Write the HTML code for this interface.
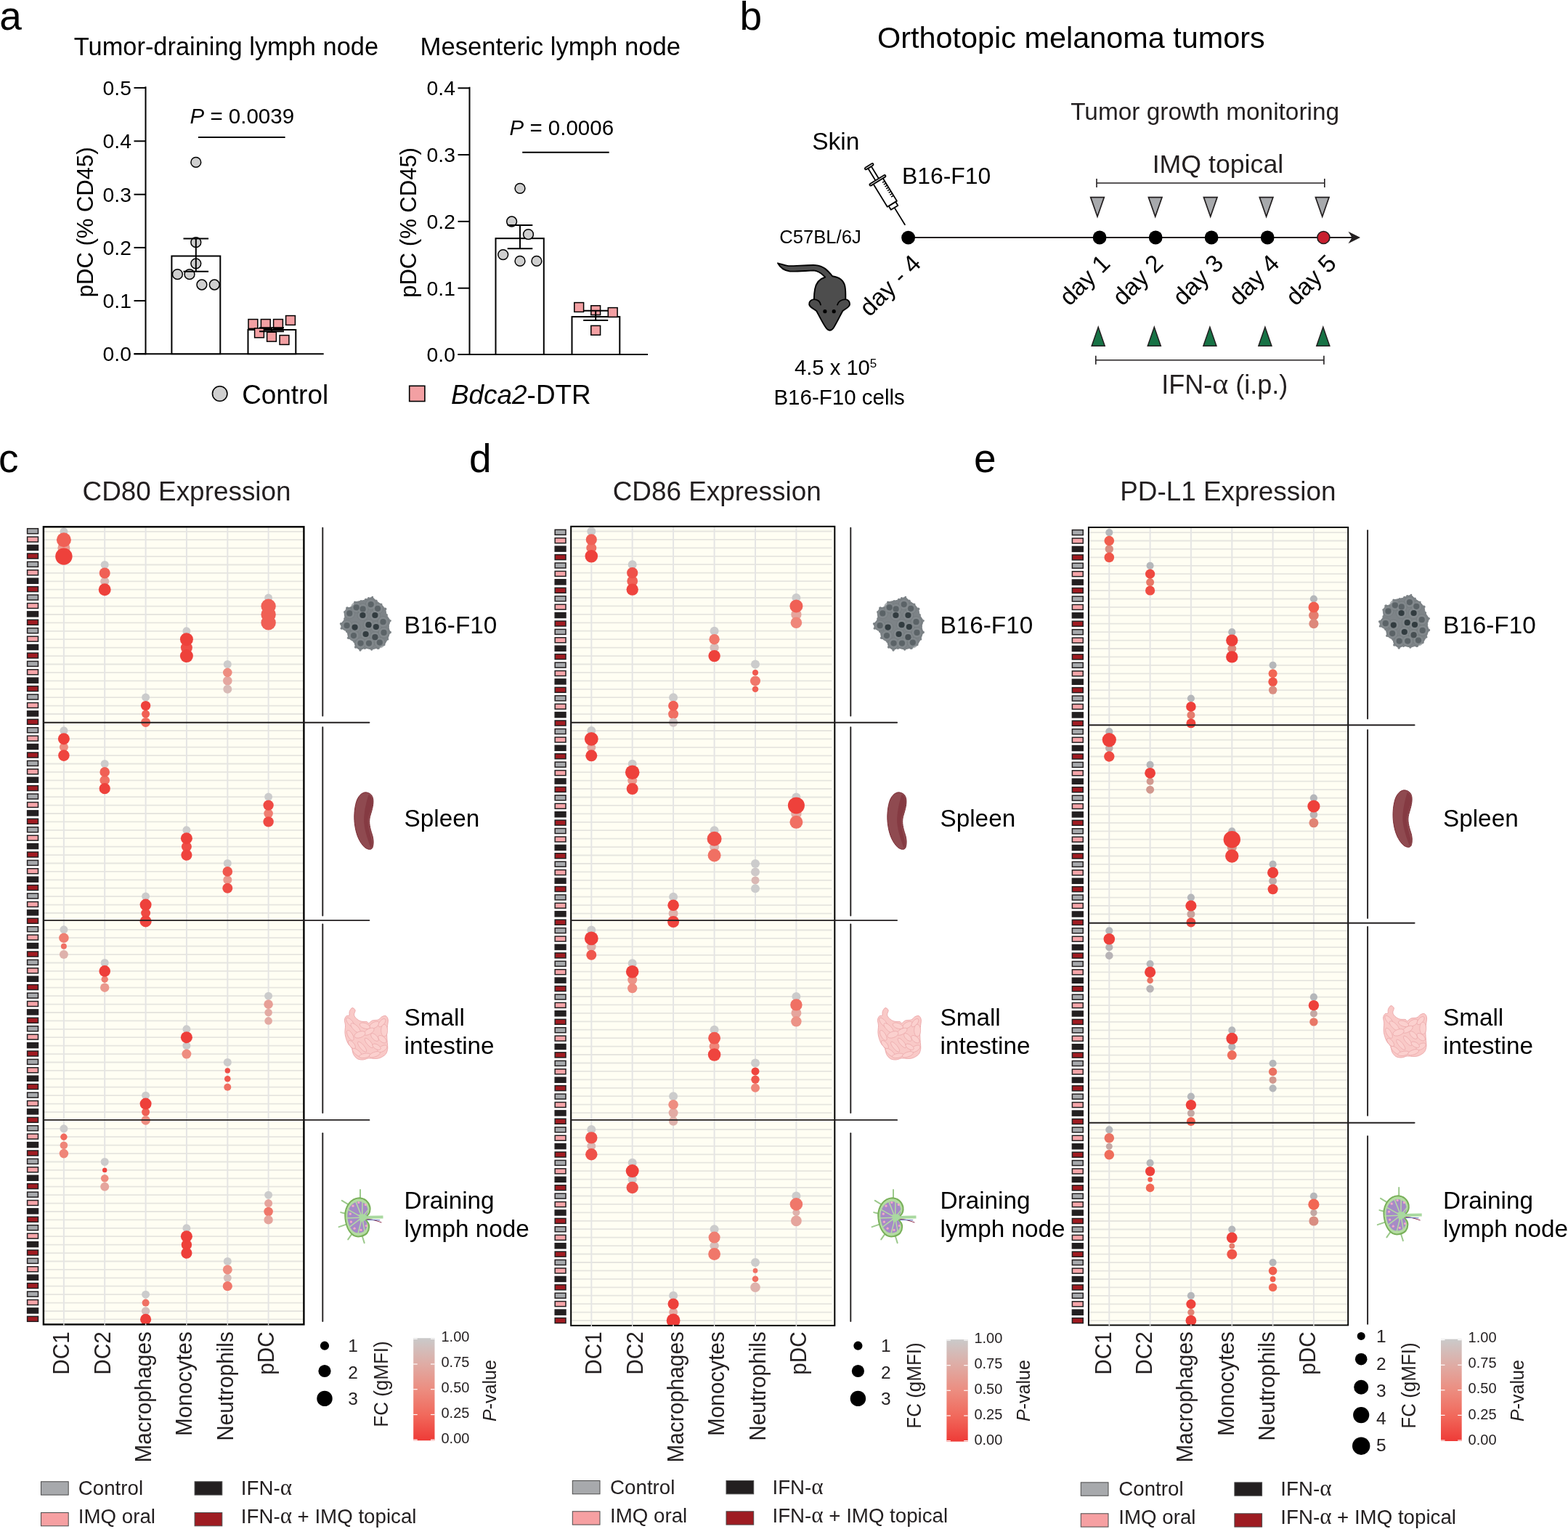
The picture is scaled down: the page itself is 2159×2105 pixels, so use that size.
<!DOCTYPE html>
<html lang="en"><head><meta charset="utf-8"><title>Figure</title>
<style>
html,body{margin:0;padding:0;background:#fff;}
body{width:2159px;height:2105px;overflow:hidden;}
svg{display:block;font-family:"Liberation Sans",sans-serif;}
</style></head>
<body>
<svg width="2159" height="2105" viewBox="0 0 2159 2105">
<rect width="2159" height="2105" fill="#fff"/>
<text x="-0.8" y="40.6" font-size="55">a</text>
<text x="1018.5" y="40.6" font-size="55">b</text>
<text x="101.8" y="76.0" font-size="34.4">Tumor-draining lymph node</text>
<text x="578.5" y="76.0" font-size="34.7">Mesenteric lymph node</text>
<line x1="200.5" y1="119.3" x2="200.5" y2="488.2" stroke="#000" stroke-width="2"/>
<line x1="184.5" y1="487.2" x2="445.7" y2="487.2" stroke="#000" stroke-width="2"/>
<line x1="184.5" y1="120.9" x2="200.5" y2="120.9" stroke="#000" stroke-width="2"/>
<text x="180.9" y="130.9" font-size="28.3" text-anchor="end">0.5</text>
<line x1="184.5" y1="194.3" x2="200.5" y2="194.3" stroke="#000" stroke-width="2"/>
<text x="180.9" y="204.3" font-size="28.3" text-anchor="end">0.4</text>
<line x1="184.5" y1="267.7" x2="200.5" y2="267.7" stroke="#000" stroke-width="2"/>
<text x="180.9" y="277.7" font-size="28.3" text-anchor="end">0.3</text>
<line x1="184.5" y1="340.9" x2="200.5" y2="340.9" stroke="#000" stroke-width="2"/>
<text x="180.9" y="350.9" font-size="28.3" text-anchor="end">0.2</text>
<line x1="184.5" y1="414.1" x2="200.5" y2="414.1" stroke="#000" stroke-width="2"/>
<text x="180.9" y="424.1" font-size="28.3" text-anchor="end">0.1</text>
<line x1="184.5" y1="487.2" x2="200.5" y2="487.2" stroke="#000" stroke-width="2"/>
<text x="180.9" y="497.2" font-size="28.3" text-anchor="end">0.0</text>
<rect x="236.4" y="352.5" width="66.9" height="134.7" fill="#fff" stroke="#000" stroke-width="2"/>
<rect x="341.5" y="454.0" width="65.8" height="33.2" fill="#fff" stroke="#000" stroke-width="2"/>
<circle cx="269.8" cy="223.4" r="6.9" fill="#cfcfcf" stroke="#000" stroke-width="1.5"/>
<circle cx="269.8" cy="333.7" r="6.9" fill="#cfcfcf" stroke="#000" stroke-width="1.5"/>
<circle cx="269.8" cy="362.8" r="6.9" fill="#cfcfcf" stroke="#000" stroke-width="1.5"/>
<circle cx="244.4" cy="377.7" r="6.9" fill="#cfcfcf" stroke="#000" stroke-width="1.5"/>
<circle cx="261.0" cy="377.7" r="6.9" fill="#cfcfcf" stroke="#000" stroke-width="1.5"/>
<circle cx="277.9" cy="392.0" r="6.9" fill="#cfcfcf" stroke="#000" stroke-width="1.5"/>
<circle cx="295.3" cy="392.0" r="6.9" fill="#cfcfcf" stroke="#000" stroke-width="1.5"/>
<rect x="342.0" y="439.6" width="12.8" height="12.8" fill="#f3a0a3" stroke="#000" stroke-width="1.5"/>
<rect x="359.4" y="439.6" width="12.8" height="12.8" fill="#f3a0a3" stroke="#000" stroke-width="1.5"/>
<rect x="376.6" y="439.6" width="12.8" height="12.8" fill="#f3a0a3" stroke="#000" stroke-width="1.5"/>
<rect x="393.6" y="434.6" width="12.8" height="12.8" fill="#f3a0a3" stroke="#000" stroke-width="1.5"/>
<rect x="350.6" y="452.0" width="12.8" height="12.8" fill="#f3a0a3" stroke="#000" stroke-width="1.5"/>
<rect x="367.6" y="457.3" width="12.8" height="12.8" fill="#f3a0a3" stroke="#000" stroke-width="1.5"/>
<rect x="385.1" y="461.6" width="12.8" height="12.8" fill="#f3a0a3" stroke="#000" stroke-width="1.5"/>
<line x1="269.8" y1="328.5" x2="269.8" y2="373.8" stroke="#000" stroke-width="2"/>
<line x1="252.5" y1="328.5" x2="287.1" y2="328.5" stroke="#000" stroke-width="2"/>
<line x1="252.5" y1="373.8" x2="287.1" y2="373.8" stroke="#000" stroke-width="2"/>
<line x1="374.0" y1="451.2" x2="374.0" y2="456.2" stroke="#000" stroke-width="2"/>
<line x1="357.0" y1="451.2" x2="391.0" y2="451.2" stroke="#000" stroke-width="2"/>
<line x1="357.0" y1="456.2" x2="391.0" y2="456.2" stroke="#000" stroke-width="2"/>
<text x="261.5" y="170.2" font-size="29.5"><tspan font-style="italic">P</tspan> = 0.0039</text>
<line x1="273.0" y1="189.0" x2="392.6" y2="189.0" stroke="#000" stroke-width="2"/>
<text transform="translate(127.7,305.8) rotate(-90)" font-size="31" text-anchor="middle">pDC (% CD45)</text>
<line x1="646.5" y1="119.8" x2="646.5" y2="489.0" stroke="#000" stroke-width="2"/>
<line x1="630.5" y1="488.0" x2="892.0" y2="488.0" stroke="#000" stroke-width="2"/>
<line x1="630.5" y1="121.3" x2="646.5" y2="121.3" stroke="#000" stroke-width="2"/>
<text x="626.9" y="131.3" font-size="28.3" text-anchor="end">0.4</text>
<line x1="630.5" y1="213.1" x2="646.5" y2="213.1" stroke="#000" stroke-width="2"/>
<text x="626.9" y="223.1" font-size="28.3" text-anchor="end">0.3</text>
<line x1="630.5" y1="304.9" x2="646.5" y2="304.9" stroke="#000" stroke-width="2"/>
<text x="626.9" y="314.9" font-size="28.3" text-anchor="end">0.2</text>
<line x1="630.5" y1="396.7" x2="646.5" y2="396.7" stroke="#000" stroke-width="2"/>
<text x="626.9" y="406.7" font-size="28.3" text-anchor="end">0.1</text>
<line x1="630.5" y1="488.0" x2="646.5" y2="488.0" stroke="#000" stroke-width="2"/>
<text x="626.9" y="498.0" font-size="28.3" text-anchor="end">0.0</text>
<rect x="682.5" y="328.2" width="66.3" height="159.8" fill="#fff" stroke="#000" stroke-width="2"/>
<rect x="787.5" y="436.1" width="65.8" height="51.9" fill="#fff" stroke="#000" stroke-width="2"/>
<circle cx="716.0" cy="259.3" r="6.9" fill="#cfcfcf" stroke="#000" stroke-width="1.5"/>
<circle cx="704.6" cy="305.0" r="6.9" fill="#cfcfcf" stroke="#000" stroke-width="1.5"/>
<circle cx="727.5" cy="322.7" r="6.9" fill="#cfcfcf" stroke="#000" stroke-width="1.5"/>
<circle cx="692.7" cy="350.6" r="6.9" fill="#cfcfcf" stroke="#000" stroke-width="1.5"/>
<circle cx="716.0" cy="359.4" r="6.9" fill="#cfcfcf" stroke="#000" stroke-width="1.5"/>
<circle cx="738.9" cy="359.4" r="6.9" fill="#cfcfcf" stroke="#000" stroke-width="1.5"/>
<rect x="790.8" y="416.6" width="12.8" height="12.8" fill="#f3a0a3" stroke="#000" stroke-width="1.5"/>
<rect x="813.8" y="420.8" width="12.8" height="12.8" fill="#f3a0a3" stroke="#000" stroke-width="1.5"/>
<rect x="837.3" y="423.6" width="12.8" height="12.8" fill="#f3a0a3" stroke="#000" stroke-width="1.5"/>
<rect x="813.8" y="448.4" width="12.8" height="12.8" fill="#f3a0a3" stroke="#000" stroke-width="1.5"/>
<line x1="716.0" y1="310.0" x2="716.0" y2="342.3" stroke="#000" stroke-width="2"/>
<line x1="698.7" y1="310.0" x2="733.3" y2="310.0" stroke="#000" stroke-width="2"/>
<line x1="698.7" y1="342.3" x2="733.3" y2="342.3" stroke="#000" stroke-width="2"/>
<line x1="820.2" y1="427.7" x2="820.2" y2="441.0" stroke="#000" stroke-width="2"/>
<line x1="803.2" y1="427.7" x2="837.2" y2="427.7" stroke="#000" stroke-width="2"/>
<line x1="803.2" y1="441.0" x2="837.2" y2="441.0" stroke="#000" stroke-width="2"/>
<text x="701.5" y="185.5" font-size="29.5"><tspan font-style="italic">P</tspan> = 0.0006</text>
<line x1="719.2" y1="209.8" x2="838.7" y2="209.8" stroke="#000" stroke-width="2"/>
<text transform="translate(573.3,306.4) rotate(-90)" font-size="31" text-anchor="middle">pDC (% CD45)</text>
<circle cx="302.7" cy="542" r="10.2" fill="#cfcfcf" stroke="#000" stroke-width="1.6"/>
<text x="333.2" y="555.6" font-size="36.9">Control</text>
<rect x="563.7" y="531.3" width="21.2" height="21.2" fill="#f3a0a3" stroke="#000" stroke-width="1.6"/>
<text x="621" y="555.6" font-size="36.9"><tspan font-style="italic">Bdca2</tspan>-DTR</text>
<text x="1208.0" y="65.9" font-size="41.4">Orthotopic melanoma tumors</text>
<text x="1474.2" y="165.2" font-size="33.4" fill="#231f20">Tumor growth monitoring</text>
<text x="1118.2" y="206.0" font-size="33.5">Skin</text>
<text x="1241.9" y="252.5" font-size="31.9">B16-F10</text>
<text x="1586.7" y="238.2" font-size="35.7" fill="#231f20">IMQ topical</text>
<text x="1073.3" y="334.6" font-size="25.6">C57BL/6J</text>
<text x="1094" y="515.7" font-size="29.2">4.5 x 10<tspan dy="-10" font-size="17">5</tspan></text>
<text x="1065.4" y="557.0" font-size="29.5">B16-F10 cells</text>
<text x="1599.3" y="541.9" font-size="36" fill="#231f20">IFN-<tspan font-family="'Liberation Serif','DejaVu Serif',serif" font-size="42">α</tspan> (i.p.)</text>
<line x1="1250.8" y1="327.0" x2="1862.0" y2="327.0" stroke="#231f20" stroke-width="2"/>
<path d="M1873,327.0 L1856.5,318.7 L1861.5,327.0 L1856.5,335.3 Z" fill="#231f20"/>
<circle cx="1250.6" cy="327.2" r="9.4" fill="#000"/>
<circle cx="1514.1" cy="327.0" r="9.4" fill="#000"/>
<circle cx="1591.2" cy="327.0" r="9.4" fill="#000"/>
<circle cx="1668.1" cy="327.0" r="9.4" fill="#000"/>
<circle cx="1745.2" cy="327.0" r="9.4" fill="#000"/>
<circle cx="1822.4" cy="327.0" r="8.5" fill="#c8202f" stroke="#231f20" stroke-width="1.6"/>
<line x1="1510.0" y1="252.0" x2="1823.8" y2="252.0" stroke="#231f20" stroke-width="1.6"/>
<line x1="1510.0" y1="246.0" x2="1510.0" y2="258.0" stroke="#231f20" stroke-width="1.6"/>
<line x1="1823.8" y1="246.0" x2="1823.8" y2="258.0" stroke="#231f20" stroke-width="1.6"/>
<line x1="1508.8" y1="495.7" x2="1822.9" y2="495.7" stroke="#231f20" stroke-width="1.6"/>
<line x1="1508.8" y1="489.7" x2="1508.8" y2="501.7" stroke="#231f20" stroke-width="1.6"/>
<line x1="1822.9" y1="489.7" x2="1822.9" y2="501.7" stroke="#231f20" stroke-width="1.6"/>
<path d="M1501.7,271.6 L1520.3,271.6 L1511,298.2 Z" fill="#a7a9ac" stroke="#231f20" stroke-width="1.7" stroke-linejoin="miter"/>
<path d="M1581.4,271.6 L1600.0,271.6 L1590.7,298.2 Z" fill="#a7a9ac" stroke="#231f20" stroke-width="1.7" stroke-linejoin="miter"/>
<path d="M1657.4,271.6 L1676.0,271.6 L1666.7,298.2 Z" fill="#a7a9ac" stroke="#231f20" stroke-width="1.7" stroke-linejoin="miter"/>
<path d="M1734.3,271.6 L1752.8999999999999,271.6 L1743.6,298.2 Z" fill="#a7a9ac" stroke="#231f20" stroke-width="1.7" stroke-linejoin="miter"/>
<path d="M1811.4,271.6 L1830.0,271.6 L1820.7,298.2 Z" fill="#a7a9ac" stroke="#231f20" stroke-width="1.7" stroke-linejoin="miter"/>
<path d="M1503.2,476.2 L1521.2,476.2 L1512.2,450.3 Z" fill="#177245" stroke="#231f20" stroke-width="1.5" stroke-linejoin="miter"/>
<path d="M1580.3,476.2 L1598.3,476.2 L1589.3,450.3 Z" fill="#177245" stroke="#231f20" stroke-width="1.5" stroke-linejoin="miter"/>
<path d="M1656.9,476.2 L1674.9,476.2 L1665.9,450.3 Z" fill="#177245" stroke="#231f20" stroke-width="1.5" stroke-linejoin="miter"/>
<path d="M1732.9,476.2 L1750.9,476.2 L1741.9,450.3 Z" fill="#177245" stroke="#231f20" stroke-width="1.5" stroke-linejoin="miter"/>
<path d="M1812.8,476.2 L1830.8,476.2 L1821.8,450.3 Z" fill="#177245" stroke="#231f20" stroke-width="1.5" stroke-linejoin="miter"/>
<text transform="translate(1269.9,364.7) rotate(-45)" font-size="33.6" text-anchor="end">day - 4</text>
<text transform="translate(1530.5,364.5) rotate(-45)" font-size="33.6" text-anchor="end">day 1</text>
<text transform="translate(1603.5,364.5) rotate(-45)" font-size="33.6" text-anchor="end">day 2</text>
<text transform="translate(1686.5,364.5) rotate(-45)" font-size="33.6" text-anchor="end">day 3</text>
<text transform="translate(1763.5,364.5) rotate(-45)" font-size="33.6" text-anchor="end">day 4</text>
<text transform="translate(1842,364.5) rotate(-45)" font-size="33.6" text-anchor="end">day 5</text>
<path d="M1136.3,381.5 C1128.1,384.0 1123.7,389.7 1122.1,397.9 C1121.0,403.6 1120.9,408.0 1120.8,412.1 C1116.7,412.4 1113.6,415.5 1114.2,419.0 C1114.8,423.1 1120.5,425.0 1124.3,428.2 C1128.1,435.1 1132.5,444.5 1137.5,451.5 C1140.7,455.9 1144.5,455.9 1147.6,451.5 C1152.0,444.5 1156.4,435.1 1160.2,428.2 C1164.0,425.0 1169.7,423.1 1170.0,419.0 C1170.3,415.5 1167.8,412.4 1164.3,412.1 C1164.3,406.7 1164.6,400.4 1163.4,394.1 C1161.5,385.3 1154.5,381.5 1146.3,380.3 C1139.4,372.1 1133.7,365.8 1123.0,365.1 C1110.4,364.8 1097.8,366.1 1085.8,366.1 C1080.8,365.8 1076.4,363.6 1071.0,362.3 C1074.5,368.9 1080.2,372.7 1087.7,373.6 C1097.8,373.9 1110.4,372.7 1120.5,372.4 C1129.3,373.3 1132.5,378.4 1136.3,381.5 Z" fill="#4d4d4d" stroke="#000" stroke-width="1.9" stroke-linejoin="round"/>
<path d="M1120.8,412.1 C1126.2,412.4 1129.3,415.5 1130.0,419.6" fill="none" stroke="#000" stroke-width="1.9" stroke-linecap="round"/>
<path d="M1164.3,412.1 C1158.3,412.4 1153.9,415.5 1153.0,419.6" fill="none" stroke="#000" stroke-width="1.9" stroke-linecap="round"/>
<circle cx="1135.9" cy="428.7" r="2.6" fill="#000"/>
<circle cx="1148.2" cy="428.7" r="2.6" fill="#000"/>
<g transform="translate(1245.9,309.2) rotate(-31.6)" fill="#fff" stroke="#000" stroke-width="1.8" stroke-linejoin="round" stroke-linecap="round">
<line x1="0" y1="0" x2="0" y2="-27.4"/>
<rect x="-5.6" y="-33.5" width="11.2" height="6.1"/>
<rect x="-7.7" y="-71.5" width="15.4" height="38"/>
<rect x="-2.6" y="-92.5" width="5.2" height="21"/>
<rect x="-12.6" y="-72.9" width="25.2" height="2.8" rx="1.4"/>
<rect x="-6.6" y="-95.3" width="13.2" height="2.8" rx="1.4"/>
<line x1="4.0" y1="-65.4" x2="7" y2="-65.4" stroke-width="1.5" stroke-linecap="butt"/>
<line x1="4.0" y1="-62.1" x2="7" y2="-62.1" stroke-width="1.5" stroke-linecap="butt"/>
<line x1="4.0" y1="-58.8" x2="7" y2="-58.8" stroke-width="1.5" stroke-linecap="butt"/>
<line x1="4.0" y1="-55.5" x2="7" y2="-55.5" stroke-width="1.5" stroke-linecap="butt"/>
<line x1="4.0" y1="-52.2" x2="7" y2="-52.2" stroke-width="1.5" stroke-linecap="butt"/>
<line x1="4.0" y1="-48.9" x2="7" y2="-48.9" stroke-width="1.5" stroke-linecap="butt"/>
<line x1="4.0" y1="-45.6" x2="7" y2="-45.6" stroke-width="1.5" stroke-linecap="butt"/>
<line x1="4.0" y1="-42.3" x2="7" y2="-42.3" stroke-width="1.5" stroke-linecap="butt"/>
</g>
<rect x="59.9" y="725.3" width="358.5" height="1098.1000000000001" fill="#fffef3"/>
<line x1="60.9" y1="731.8" x2="417.8" y2="731.8" stroke="#e6e5df" stroke-width="1.8"/>
<line x1="60.9" y1="743.2" x2="417.8" y2="743.2" stroke="#e6e5df" stroke-width="1.8"/>
<line x1="60.9" y1="754.6" x2="417.8" y2="754.6" stroke="#e6e5df" stroke-width="1.8"/>
<line x1="60.9" y1="766.1" x2="417.8" y2="766.1" stroke="#e6e5df" stroke-width="1.8"/>
<line x1="60.9" y1="777.5" x2="417.8" y2="777.5" stroke="#e6e5df" stroke-width="1.8"/>
<line x1="60.9" y1="788.9" x2="417.8" y2="788.9" stroke="#e6e5df" stroke-width="1.8"/>
<line x1="60.9" y1="800.3" x2="417.8" y2="800.3" stroke="#e6e5df" stroke-width="1.8"/>
<line x1="60.9" y1="811.7" x2="417.8" y2="811.7" stroke="#e6e5df" stroke-width="1.8"/>
<line x1="60.9" y1="823.1" x2="417.8" y2="823.1" stroke="#e6e5df" stroke-width="1.8"/>
<line x1="60.9" y1="834.6" x2="417.8" y2="834.6" stroke="#e6e5df" stroke-width="1.8"/>
<line x1="60.9" y1="846.0" x2="417.8" y2="846.0" stroke="#e6e5df" stroke-width="1.8"/>
<line x1="60.9" y1="857.4" x2="417.8" y2="857.4" stroke="#e6e5df" stroke-width="1.8"/>
<line x1="60.9" y1="868.8" x2="417.8" y2="868.8" stroke="#e6e5df" stroke-width="1.8"/>
<line x1="60.9" y1="880.2" x2="417.8" y2="880.2" stroke="#e6e5df" stroke-width="1.8"/>
<line x1="60.9" y1="891.6" x2="417.8" y2="891.6" stroke="#e6e5df" stroke-width="1.8"/>
<line x1="60.9" y1="903.1" x2="417.8" y2="903.1" stroke="#e6e5df" stroke-width="1.8"/>
<line x1="60.9" y1="914.5" x2="417.8" y2="914.5" stroke="#e6e5df" stroke-width="1.8"/>
<line x1="60.9" y1="925.9" x2="417.8" y2="925.9" stroke="#e6e5df" stroke-width="1.8"/>
<line x1="60.9" y1="937.3" x2="417.8" y2="937.3" stroke="#e6e5df" stroke-width="1.8"/>
<line x1="60.9" y1="948.7" x2="417.8" y2="948.7" stroke="#e6e5df" stroke-width="1.8"/>
<line x1="60.9" y1="960.1" x2="417.8" y2="960.1" stroke="#e6e5df" stroke-width="1.8"/>
<line x1="60.9" y1="971.6" x2="417.8" y2="971.6" stroke="#e6e5df" stroke-width="1.8"/>
<line x1="60.9" y1="983.0" x2="417.8" y2="983.0" stroke="#e6e5df" stroke-width="1.8"/>
<line x1="60.9" y1="1005.8" x2="417.8" y2="1005.8" stroke="#e6e5df" stroke-width="1.8"/>
<line x1="60.9" y1="1017.2" x2="417.8" y2="1017.2" stroke="#e6e5df" stroke-width="1.8"/>
<line x1="60.9" y1="1028.6" x2="417.8" y2="1028.6" stroke="#e6e5df" stroke-width="1.8"/>
<line x1="60.9" y1="1040.1" x2="417.8" y2="1040.1" stroke="#e6e5df" stroke-width="1.8"/>
<line x1="60.9" y1="1051.5" x2="417.8" y2="1051.5" stroke="#e6e5df" stroke-width="1.8"/>
<line x1="60.9" y1="1062.9" x2="417.8" y2="1062.9" stroke="#e6e5df" stroke-width="1.8"/>
<line x1="60.9" y1="1074.3" x2="417.8" y2="1074.3" stroke="#e6e5df" stroke-width="1.8"/>
<line x1="60.9" y1="1085.7" x2="417.8" y2="1085.7" stroke="#e6e5df" stroke-width="1.8"/>
<line x1="60.9" y1="1097.1" x2="417.8" y2="1097.1" stroke="#e6e5df" stroke-width="1.8"/>
<line x1="60.9" y1="1108.6" x2="417.8" y2="1108.6" stroke="#e6e5df" stroke-width="1.8"/>
<line x1="60.9" y1="1120.0" x2="417.8" y2="1120.0" stroke="#e6e5df" stroke-width="1.8"/>
<line x1="60.9" y1="1131.4" x2="417.8" y2="1131.4" stroke="#e6e5df" stroke-width="1.8"/>
<line x1="60.9" y1="1142.8" x2="417.8" y2="1142.8" stroke="#e6e5df" stroke-width="1.8"/>
<line x1="60.9" y1="1154.2" x2="417.8" y2="1154.2" stroke="#e6e5df" stroke-width="1.8"/>
<line x1="60.9" y1="1165.6" x2="417.8" y2="1165.6" stroke="#e6e5df" stroke-width="1.8"/>
<line x1="60.9" y1="1177.1" x2="417.8" y2="1177.1" stroke="#e6e5df" stroke-width="1.8"/>
<line x1="60.9" y1="1188.5" x2="417.8" y2="1188.5" stroke="#e6e5df" stroke-width="1.8"/>
<line x1="60.9" y1="1199.9" x2="417.8" y2="1199.9" stroke="#e6e5df" stroke-width="1.8"/>
<line x1="60.9" y1="1211.3" x2="417.8" y2="1211.3" stroke="#e6e5df" stroke-width="1.8"/>
<line x1="60.9" y1="1222.7" x2="417.8" y2="1222.7" stroke="#e6e5df" stroke-width="1.8"/>
<line x1="60.9" y1="1234.1" x2="417.8" y2="1234.1" stroke="#e6e5df" stroke-width="1.8"/>
<line x1="60.9" y1="1245.6" x2="417.8" y2="1245.6" stroke="#e6e5df" stroke-width="1.8"/>
<line x1="60.9" y1="1257.0" x2="417.8" y2="1257.0" stroke="#e6e5df" stroke-width="1.8"/>
<line x1="60.9" y1="1279.8" x2="417.8" y2="1279.8" stroke="#e6e5df" stroke-width="1.8"/>
<line x1="60.9" y1="1291.2" x2="417.8" y2="1291.2" stroke="#e6e5df" stroke-width="1.8"/>
<line x1="60.9" y1="1302.7" x2="417.8" y2="1302.7" stroke="#e6e5df" stroke-width="1.8"/>
<line x1="60.9" y1="1314.1" x2="417.8" y2="1314.1" stroke="#e6e5df" stroke-width="1.8"/>
<line x1="60.9" y1="1325.5" x2="417.8" y2="1325.5" stroke="#e6e5df" stroke-width="1.8"/>
<line x1="60.9" y1="1336.9" x2="417.8" y2="1336.9" stroke="#e6e5df" stroke-width="1.8"/>
<line x1="60.9" y1="1348.3" x2="417.8" y2="1348.3" stroke="#e6e5df" stroke-width="1.8"/>
<line x1="60.9" y1="1359.7" x2="417.8" y2="1359.7" stroke="#e6e5df" stroke-width="1.8"/>
<line x1="60.9" y1="1371.2" x2="417.8" y2="1371.2" stroke="#e6e5df" stroke-width="1.8"/>
<line x1="60.9" y1="1382.6" x2="417.8" y2="1382.6" stroke="#e6e5df" stroke-width="1.8"/>
<line x1="60.9" y1="1394.0" x2="417.8" y2="1394.0" stroke="#e6e5df" stroke-width="1.8"/>
<line x1="60.9" y1="1405.4" x2="417.8" y2="1405.4" stroke="#e6e5df" stroke-width="1.8"/>
<line x1="60.9" y1="1416.8" x2="417.8" y2="1416.8" stroke="#e6e5df" stroke-width="1.8"/>
<line x1="60.9" y1="1428.2" x2="417.8" y2="1428.2" stroke="#e6e5df" stroke-width="1.8"/>
<line x1="60.9" y1="1439.7" x2="417.8" y2="1439.7" stroke="#e6e5df" stroke-width="1.8"/>
<line x1="60.9" y1="1451.1" x2="417.8" y2="1451.1" stroke="#e6e5df" stroke-width="1.8"/>
<line x1="60.9" y1="1462.5" x2="417.8" y2="1462.5" stroke="#e6e5df" stroke-width="1.8"/>
<line x1="60.9" y1="1473.9" x2="417.8" y2="1473.9" stroke="#e6e5df" stroke-width="1.8"/>
<line x1="60.9" y1="1485.3" x2="417.8" y2="1485.3" stroke="#e6e5df" stroke-width="1.8"/>
<line x1="60.9" y1="1496.7" x2="417.8" y2="1496.7" stroke="#e6e5df" stroke-width="1.8"/>
<line x1="60.9" y1="1508.2" x2="417.8" y2="1508.2" stroke="#e6e5df" stroke-width="1.8"/>
<line x1="60.9" y1="1519.6" x2="417.8" y2="1519.6" stroke="#e6e5df" stroke-width="1.8"/>
<line x1="60.9" y1="1531.0" x2="417.8" y2="1531.0" stroke="#e6e5df" stroke-width="1.8"/>
<line x1="60.9" y1="1553.8" x2="417.8" y2="1553.8" stroke="#e6e5df" stroke-width="1.8"/>
<line x1="60.9" y1="1565.2" x2="417.8" y2="1565.2" stroke="#e6e5df" stroke-width="1.8"/>
<line x1="60.9" y1="1576.7" x2="417.8" y2="1576.7" stroke="#e6e5df" stroke-width="1.8"/>
<line x1="60.9" y1="1588.1" x2="417.8" y2="1588.1" stroke="#e6e5df" stroke-width="1.8"/>
<line x1="60.9" y1="1599.5" x2="417.8" y2="1599.5" stroke="#e6e5df" stroke-width="1.8"/>
<line x1="60.9" y1="1610.9" x2="417.8" y2="1610.9" stroke="#e6e5df" stroke-width="1.8"/>
<line x1="60.9" y1="1622.3" x2="417.8" y2="1622.3" stroke="#e6e5df" stroke-width="1.8"/>
<line x1="60.9" y1="1633.7" x2="417.8" y2="1633.7" stroke="#e6e5df" stroke-width="1.8"/>
<line x1="60.9" y1="1645.2" x2="417.8" y2="1645.2" stroke="#e6e5df" stroke-width="1.8"/>
<line x1="60.9" y1="1656.6" x2="417.8" y2="1656.6" stroke="#e6e5df" stroke-width="1.8"/>
<line x1="60.9" y1="1668.0" x2="417.8" y2="1668.0" stroke="#e6e5df" stroke-width="1.8"/>
<line x1="60.9" y1="1679.4" x2="417.8" y2="1679.4" stroke="#e6e5df" stroke-width="1.8"/>
<line x1="60.9" y1="1690.8" x2="417.8" y2="1690.8" stroke="#e6e5df" stroke-width="1.8"/>
<line x1="60.9" y1="1702.2" x2="417.8" y2="1702.2" stroke="#e6e5df" stroke-width="1.8"/>
<line x1="60.9" y1="1713.7" x2="417.8" y2="1713.7" stroke="#e6e5df" stroke-width="1.8"/>
<line x1="60.9" y1="1725.1" x2="417.8" y2="1725.1" stroke="#e6e5df" stroke-width="1.8"/>
<line x1="60.9" y1="1736.5" x2="417.8" y2="1736.5" stroke="#e6e5df" stroke-width="1.8"/>
<line x1="60.9" y1="1747.9" x2="417.8" y2="1747.9" stroke="#e6e5df" stroke-width="1.8"/>
<line x1="60.9" y1="1759.3" x2="417.8" y2="1759.3" stroke="#e6e5df" stroke-width="1.8"/>
<line x1="60.9" y1="1770.7" x2="417.8" y2="1770.7" stroke="#e6e5df" stroke-width="1.8"/>
<line x1="60.9" y1="1782.2" x2="417.8" y2="1782.2" stroke="#e6e5df" stroke-width="1.8"/>
<line x1="60.9" y1="1793.6" x2="417.8" y2="1793.6" stroke="#e6e5df" stroke-width="1.8"/>
<line x1="60.9" y1="1805.0" x2="417.8" y2="1805.0" stroke="#e6e5df" stroke-width="1.8"/>
<line x1="60.9" y1="1816.4" x2="417.8" y2="1816.4" stroke="#e6e5df" stroke-width="1.8"/>
<line x1="87.9" y1="726.3" x2="87.9" y2="1822.4" stroke="#e5e5e4" stroke-width="2"/>
<line x1="144.2" y1="726.3" x2="144.2" y2="1822.4" stroke="#e5e5e4" stroke-width="2"/>
<line x1="200.6" y1="726.3" x2="200.6" y2="1822.4" stroke="#e5e5e4" stroke-width="2"/>
<line x1="256.9" y1="726.3" x2="256.9" y2="1822.4" stroke="#e5e5e4" stroke-width="2"/>
<line x1="313.3" y1="726.3" x2="313.3" y2="1822.4" stroke="#e5e5e4" stroke-width="2"/>
<line x1="369.6" y1="726.3" x2="369.6" y2="1822.4" stroke="#e5e5e4" stroke-width="2"/>
<defs><clipPath id="cpc"><rect x="59.9" y="725.3" width="358.5" height="1098.1000000000001"/></clipPath></defs>
<g clip-path="url(#cpc)">
<circle cx="87.9" cy="731.8" r="5.5" fill="#cccccc"/>
<circle cx="87.9" cy="754.6" r="8.5" fill="#ea998e"/>
<circle cx="87.9" cy="743.2" r="10.0" fill="#f06055"/>
<circle cx="87.9" cy="766.1" r="11.7" fill="#ee413b"/>
<circle cx="144.2" cy="777.5" r="5.5" fill="#cccccc"/>
<circle cx="144.2" cy="800.3" r="6.0" fill="#dab8b4"/>
<circle cx="144.2" cy="788.9" r="7.5" fill="#f06055"/>
<circle cx="144.2" cy="811.7" r="8.5" fill="#ee413b"/>
<circle cx="369.6" cy="823.1" r="5.5" fill="#cccccc"/>
<circle cx="369.6" cy="846.0" r="10.2" fill="#f06055"/>
<circle cx="369.6" cy="834.6" r="10.2" fill="#f06055"/>
<circle cx="369.6" cy="857.4" r="10.2" fill="#f06055"/>
<circle cx="256.9" cy="868.8" r="5.5" fill="#cccccc"/>
<circle cx="256.9" cy="891.6" r="8.0" fill="#ef4d46"/>
<circle cx="256.9" cy="880.2" r="9.0" fill="#ee413b"/>
<circle cx="256.9" cy="903.1" r="9.0" fill="#ee413b"/>
<circle cx="313.3" cy="914.5" r="5.5" fill="#cccccc"/>
<circle cx="313.3" cy="937.3" r="6.3" fill="#e4a7a0"/>
<circle cx="313.3" cy="925.9" r="6.3" fill="#ee8d80"/>
<circle cx="313.3" cy="948.7" r="6.0" fill="#d8bbb7"/>
<circle cx="200.6" cy="960.1" r="5.5" fill="#cccccc"/>
<circle cx="200.6" cy="983.0" r="5.5" fill="#f06055"/>
<circle cx="200.6" cy="971.6" r="6.7" fill="#ee413b"/>
<circle cx="200.6" cy="994.4" r="6.5" fill="#f1695c"/>
<circle cx="87.9" cy="1005.8" r="5.5" fill="#cccccc"/>
<circle cx="87.9" cy="1028.6" r="6.0" fill="#ee8d80"/>
<circle cx="87.9" cy="1017.2" r="8.0" fill="#ee413b"/>
<circle cx="87.9" cy="1040.1" r="7.8" fill="#ef443e"/>
<circle cx="144.2" cy="1051.5" r="5.5" fill="#cccccc"/>
<circle cx="144.2" cy="1074.3" r="6.8" fill="#f07063"/>
<circle cx="144.2" cy="1062.9" r="6.8" fill="#f06055"/>
<circle cx="144.2" cy="1085.7" r="7.6" fill="#ee413b"/>
<circle cx="369.6" cy="1097.1" r="5.5" fill="#cccccc"/>
<circle cx="369.6" cy="1120.0" r="6.3" fill="#ef7f72"/>
<circle cx="369.6" cy="1108.6" r="7.2" fill="#ef4a43"/>
<circle cx="369.6" cy="1131.4" r="7.2" fill="#ef4a43"/>
<circle cx="256.9" cy="1142.8" r="5.5" fill="#cccccc"/>
<circle cx="256.9" cy="1165.6" r="7.0" fill="#ef4d46"/>
<circle cx="256.9" cy="1154.2" r="8.0" fill="#ee413b"/>
<circle cx="256.9" cy="1177.1" r="7.6" fill="#ef443e"/>
<circle cx="313.3" cy="1188.5" r="5.5" fill="#cccccc"/>
<circle cx="313.3" cy="1211.3" r="6.0" fill="#ea998e"/>
<circle cx="313.3" cy="1199.9" r="6.8" fill="#f0574d"/>
<circle cx="313.3" cy="1222.7" r="7.0" fill="#ef4d46"/>
<circle cx="200.6" cy="1234.1" r="5.5" fill="#cccccc"/>
<circle cx="200.6" cy="1257.0" r="6.5" fill="#ef4a43"/>
<circle cx="200.6" cy="1245.6" r="8.0" fill="#ee413b"/>
<circle cx="200.6" cy="1268.4" r="8.0" fill="#ef443e"/>
<circle cx="87.9" cy="1279.8" r="5.5" fill="#cccccc"/>
<circle cx="87.9" cy="1302.7" r="4.0" fill="#f07063"/>
<circle cx="87.9" cy="1291.2" r="6.8" fill="#ef7f72"/>
<circle cx="87.9" cy="1314.1" r="6.0" fill="#deb2ac"/>
<circle cx="144.2" cy="1325.5" r="5.5" fill="#cccccc"/>
<circle cx="144.2" cy="1348.3" r="4.7" fill="#ef7f72"/>
<circle cx="144.2" cy="1336.9" r="7.8" fill="#ee3f3a"/>
<circle cx="144.2" cy="1359.7" r="6.2" fill="#ea998e"/>
<circle cx="369.6" cy="1371.2" r="5.5" fill="#cccccc"/>
<circle cx="369.6" cy="1394.0" r="5.3" fill="#e3aba4"/>
<circle cx="369.6" cy="1382.6" r="6.3" fill="#e79f96"/>
<circle cx="369.6" cy="1405.4" r="5.3" fill="#e3aba4"/>
<circle cx="256.9" cy="1416.8" r="5.5" fill="#cccccc"/>
<circle cx="256.9" cy="1439.7" r="5.5" fill="#cccccc"/>
<circle cx="256.9" cy="1428.2" r="8.0" fill="#ee3f3a"/>
<circle cx="256.9" cy="1451.1" r="6.5" fill="#ee8d80"/>
<circle cx="313.3" cy="1462.5" r="5.5" fill="#cccccc"/>
<circle cx="313.3" cy="1485.3" r="4.3" fill="#f0574d"/>
<circle cx="313.3" cy="1473.9" r="3.7" fill="#ef4d46"/>
<circle cx="313.3" cy="1496.7" r="5.0" fill="#f07063"/>
<circle cx="200.6" cy="1508.2" r="5.5" fill="#cccccc"/>
<circle cx="200.6" cy="1531.0" r="5.5" fill="#f06055"/>
<circle cx="200.6" cy="1519.6" r="8.0" fill="#ee3f3a"/>
<circle cx="200.6" cy="1542.4" r="6.3" fill="#ee8d80"/>
<circle cx="87.9" cy="1553.8" r="5.5" fill="#cccccc"/>
<circle cx="87.9" cy="1576.7" r="5.3" fill="#ef8679"/>
<circle cx="87.9" cy="1565.2" r="4.7" fill="#f1695c"/>
<circle cx="87.9" cy="1588.1" r="6.3" fill="#ef8679"/>
<circle cx="144.2" cy="1599.5" r="5.5" fill="#cccccc"/>
<circle cx="144.2" cy="1622.3" r="5.3" fill="#ee8d80"/>
<circle cx="144.2" cy="1610.9" r="3.2" fill="#ef443e"/>
<circle cx="144.2" cy="1633.7" r="6.0" fill="#e5a59d"/>
<circle cx="369.6" cy="1645.2" r="5.5" fill="#cccccc"/>
<circle cx="369.6" cy="1668.0" r="6.3" fill="#f0776a"/>
<circle cx="369.6" cy="1656.6" r="5.5" fill="#e5a59d"/>
<circle cx="369.6" cy="1679.4" r="6.2" fill="#e5a59d"/>
<circle cx="256.9" cy="1690.8" r="5.5" fill="#cccccc"/>
<circle cx="256.9" cy="1713.7" r="7.2" fill="#ee413b"/>
<circle cx="256.9" cy="1702.2" r="8.0" fill="#ee3f3a"/>
<circle cx="256.9" cy="1725.1" r="7.6" fill="#ee3f3a"/>
<circle cx="313.3" cy="1736.5" r="5.5" fill="#cccccc"/>
<circle cx="313.3" cy="1759.3" r="5.5" fill="#d5bfbc"/>
<circle cx="313.3" cy="1747.9" r="6.5" fill="#ee8d80"/>
<circle cx="313.3" cy="1770.7" r="6.6" fill="#f0776a"/>
<circle cx="200.6" cy="1782.2" r="5.5" fill="#cccccc"/>
<circle cx="200.6" cy="1805.0" r="5.7" fill="#d5bfbc"/>
<circle cx="200.6" cy="1793.6" r="5.0" fill="#f07063"/>
<circle cx="200.6" cy="1816.4" r="7.6" fill="#ee3f3a"/>
</g>
<rect x="59.9" y="725.3" width="358.5" height="1098.1000000000001" fill="none" stroke="#000" stroke-width="2.4"/>
<line x1="87.9" y1="1822.2" x2="87.9" y2="1824.4" stroke="#e5e5e4" stroke-width="1.6"/>
<line x1="144.2" y1="1822.2" x2="144.2" y2="1824.4" stroke="#e5e5e4" stroke-width="1.6"/>
<line x1="200.6" y1="1822.2" x2="200.6" y2="1824.4" stroke="#e5e5e4" stroke-width="1.6"/>
<line x1="256.9" y1="1822.2" x2="256.9" y2="1824.4" stroke="#e5e5e4" stroke-width="1.6"/>
<line x1="313.3" y1="1822.2" x2="313.3" y2="1824.4" stroke="#e5e5e4" stroke-width="1.6"/>
<line x1="369.6" y1="1822.2" x2="369.6" y2="1824.4" stroke="#e5e5e4" stroke-width="1.6"/>
<line x1="59.9" y1="994.8" x2="508.4" y2="994.8" stroke="#231f20" stroke-width="1.9" stroke-linecap="round"/>
<line x1="59.9" y1="1267.1" x2="508.4" y2="1267.1" stroke="#231f20" stroke-width="1.9" stroke-linecap="round"/>
<line x1="59.9" y1="1541.9" x2="508.4" y2="1541.9" stroke="#231f20" stroke-width="1.9" stroke-linecap="round"/>
<line x1="444.3" y1="726.8" x2="444.3" y2="985.6" stroke="#231f20" stroke-width="1.9" stroke-linecap="round"/>
<line x1="444.3" y1="1001.1" x2="444.3" y2="1260.5" stroke="#231f20" stroke-width="1.9" stroke-linecap="round"/>
<line x1="444.3" y1="1272.5" x2="444.3" y2="1532.0" stroke="#231f20" stroke-width="1.9" stroke-linecap="round"/>
<line x1="444.3" y1="1560.2" x2="444.3" y2="1819.1" stroke="#231f20" stroke-width="1.9" stroke-linecap="round"/>
<rect x="37.6" y="727.7" width="14.9" height="7" fill="#a7a9ac" stroke="#231f20" stroke-width="1.5"/>
<rect x="37.6" y="739.1" width="14.9" height="7" fill="#f6a5a9" stroke="#231f20" stroke-width="1.5"/>
<rect x="37.6" y="750.5" width="14.9" height="7" fill="#231f20" stroke="#231f20" stroke-width="1.5"/>
<rect x="37.6" y="762.0" width="14.9" height="7" fill="#a01b21" stroke="#231f20" stroke-width="1.5"/>
<rect x="37.6" y="773.4" width="14.9" height="7" fill="#a7a9ac" stroke="#231f20" stroke-width="1.5"/>
<rect x="37.6" y="784.8" width="14.9" height="7" fill="#f6a5a9" stroke="#231f20" stroke-width="1.5"/>
<rect x="37.6" y="796.2" width="14.9" height="7" fill="#231f20" stroke="#231f20" stroke-width="1.5"/>
<rect x="37.6" y="807.6" width="14.9" height="7" fill="#a01b21" stroke="#231f20" stroke-width="1.5"/>
<rect x="37.6" y="819.0" width="14.9" height="7" fill="#a7a9ac" stroke="#231f20" stroke-width="1.5"/>
<rect x="37.6" y="830.5" width="14.9" height="7" fill="#f6a5a9" stroke="#231f20" stroke-width="1.5"/>
<rect x="37.6" y="841.9" width="14.9" height="7" fill="#231f20" stroke="#231f20" stroke-width="1.5"/>
<rect x="37.6" y="853.3" width="14.9" height="7" fill="#a01b21" stroke="#231f20" stroke-width="1.5"/>
<rect x="37.6" y="864.7" width="14.9" height="7" fill="#a7a9ac" stroke="#231f20" stroke-width="1.5"/>
<rect x="37.6" y="876.1" width="14.9" height="7" fill="#f6a5a9" stroke="#231f20" stroke-width="1.5"/>
<rect x="37.6" y="887.5" width="14.9" height="7" fill="#231f20" stroke="#231f20" stroke-width="1.5"/>
<rect x="37.6" y="899.0" width="14.9" height="7" fill="#a01b21" stroke="#231f20" stroke-width="1.5"/>
<rect x="37.6" y="910.4" width="14.9" height="7" fill="#a7a9ac" stroke="#231f20" stroke-width="1.5"/>
<rect x="37.6" y="921.8" width="14.9" height="7" fill="#f6a5a9" stroke="#231f20" stroke-width="1.5"/>
<rect x="37.6" y="933.2" width="14.9" height="7" fill="#231f20" stroke="#231f20" stroke-width="1.5"/>
<rect x="37.6" y="944.6" width="14.9" height="7" fill="#a01b21" stroke="#231f20" stroke-width="1.5"/>
<rect x="37.6" y="956.0" width="14.9" height="7" fill="#a7a9ac" stroke="#231f20" stroke-width="1.5"/>
<rect x="37.6" y="967.5" width="14.9" height="7" fill="#f6a5a9" stroke="#231f20" stroke-width="1.5"/>
<rect x="37.6" y="978.9" width="14.9" height="7" fill="#231f20" stroke="#231f20" stroke-width="1.5"/>
<rect x="37.6" y="990.3" width="14.9" height="7" fill="#a01b21" stroke="#231f20" stroke-width="1.5"/>
<rect x="37.6" y="1001.7" width="14.9" height="7" fill="#a7a9ac" stroke="#231f20" stroke-width="1.5"/>
<rect x="37.6" y="1013.1" width="14.9" height="7" fill="#f6a5a9" stroke="#231f20" stroke-width="1.5"/>
<rect x="37.6" y="1024.5" width="14.9" height="7" fill="#231f20" stroke="#231f20" stroke-width="1.5"/>
<rect x="37.6" y="1036.0" width="14.9" height="7" fill="#a01b21" stroke="#231f20" stroke-width="1.5"/>
<rect x="37.6" y="1047.4" width="14.9" height="7" fill="#a7a9ac" stroke="#231f20" stroke-width="1.5"/>
<rect x="37.6" y="1058.8" width="14.9" height="7" fill="#f6a5a9" stroke="#231f20" stroke-width="1.5"/>
<rect x="37.6" y="1070.2" width="14.9" height="7" fill="#231f20" stroke="#231f20" stroke-width="1.5"/>
<rect x="37.6" y="1081.6" width="14.9" height="7" fill="#a01b21" stroke="#231f20" stroke-width="1.5"/>
<rect x="37.6" y="1093.0" width="14.9" height="7" fill="#a7a9ac" stroke="#231f20" stroke-width="1.5"/>
<rect x="37.6" y="1104.5" width="14.9" height="7" fill="#f6a5a9" stroke="#231f20" stroke-width="1.5"/>
<rect x="37.6" y="1115.9" width="14.9" height="7" fill="#231f20" stroke="#231f20" stroke-width="1.5"/>
<rect x="37.6" y="1127.3" width="14.9" height="7" fill="#a01b21" stroke="#231f20" stroke-width="1.5"/>
<rect x="37.6" y="1138.7" width="14.9" height="7" fill="#a7a9ac" stroke="#231f20" stroke-width="1.5"/>
<rect x="37.6" y="1150.1" width="14.9" height="7" fill="#f6a5a9" stroke="#231f20" stroke-width="1.5"/>
<rect x="37.6" y="1161.5" width="14.9" height="7" fill="#231f20" stroke="#231f20" stroke-width="1.5"/>
<rect x="37.6" y="1173.0" width="14.9" height="7" fill="#a01b21" stroke="#231f20" stroke-width="1.5"/>
<rect x="37.6" y="1184.4" width="14.9" height="7" fill="#a7a9ac" stroke="#231f20" stroke-width="1.5"/>
<rect x="37.6" y="1195.8" width="14.9" height="7" fill="#f6a5a9" stroke="#231f20" stroke-width="1.5"/>
<rect x="37.6" y="1207.2" width="14.9" height="7" fill="#231f20" stroke="#231f20" stroke-width="1.5"/>
<rect x="37.6" y="1218.6" width="14.9" height="7" fill="#a01b21" stroke="#231f20" stroke-width="1.5"/>
<rect x="37.6" y="1230.0" width="14.9" height="7" fill="#a7a9ac" stroke="#231f20" stroke-width="1.5"/>
<rect x="37.6" y="1241.5" width="14.9" height="7" fill="#f6a5a9" stroke="#231f20" stroke-width="1.5"/>
<rect x="37.6" y="1252.9" width="14.9" height="7" fill="#231f20" stroke="#231f20" stroke-width="1.5"/>
<rect x="37.6" y="1264.3" width="14.9" height="7" fill="#a01b21" stroke="#231f20" stroke-width="1.5"/>
<rect x="37.6" y="1275.7" width="14.9" height="7" fill="#a7a9ac" stroke="#231f20" stroke-width="1.5"/>
<rect x="37.6" y="1287.1" width="14.9" height="7" fill="#f6a5a9" stroke="#231f20" stroke-width="1.5"/>
<rect x="37.6" y="1298.6" width="14.9" height="7" fill="#231f20" stroke="#231f20" stroke-width="1.5"/>
<rect x="37.6" y="1310.0" width="14.9" height="7" fill="#a01b21" stroke="#231f20" stroke-width="1.5"/>
<rect x="37.6" y="1321.4" width="14.9" height="7" fill="#a7a9ac" stroke="#231f20" stroke-width="1.5"/>
<rect x="37.6" y="1332.8" width="14.9" height="7" fill="#f6a5a9" stroke="#231f20" stroke-width="1.5"/>
<rect x="37.6" y="1344.2" width="14.9" height="7" fill="#231f20" stroke="#231f20" stroke-width="1.5"/>
<rect x="37.6" y="1355.6" width="14.9" height="7" fill="#a01b21" stroke="#231f20" stroke-width="1.5"/>
<rect x="37.6" y="1367.1" width="14.9" height="7" fill="#a7a9ac" stroke="#231f20" stroke-width="1.5"/>
<rect x="37.6" y="1378.5" width="14.9" height="7" fill="#f6a5a9" stroke="#231f20" stroke-width="1.5"/>
<rect x="37.6" y="1389.9" width="14.9" height="7" fill="#231f20" stroke="#231f20" stroke-width="1.5"/>
<rect x="37.6" y="1401.3" width="14.9" height="7" fill="#a01b21" stroke="#231f20" stroke-width="1.5"/>
<rect x="37.6" y="1412.7" width="14.9" height="7" fill="#a7a9ac" stroke="#231f20" stroke-width="1.5"/>
<rect x="37.6" y="1424.1" width="14.9" height="7" fill="#f6a5a9" stroke="#231f20" stroke-width="1.5"/>
<rect x="37.6" y="1435.6" width="14.9" height="7" fill="#231f20" stroke="#231f20" stroke-width="1.5"/>
<rect x="37.6" y="1447.0" width="14.9" height="7" fill="#a01b21" stroke="#231f20" stroke-width="1.5"/>
<rect x="37.6" y="1458.4" width="14.9" height="7" fill="#a7a9ac" stroke="#231f20" stroke-width="1.5"/>
<rect x="37.6" y="1469.8" width="14.9" height="7" fill="#f6a5a9" stroke="#231f20" stroke-width="1.5"/>
<rect x="37.6" y="1481.2" width="14.9" height="7" fill="#231f20" stroke="#231f20" stroke-width="1.5"/>
<rect x="37.6" y="1492.6" width="14.9" height="7" fill="#a01b21" stroke="#231f20" stroke-width="1.5"/>
<rect x="37.6" y="1504.1" width="14.9" height="7" fill="#a7a9ac" stroke="#231f20" stroke-width="1.5"/>
<rect x="37.6" y="1515.5" width="14.9" height="7" fill="#f6a5a9" stroke="#231f20" stroke-width="1.5"/>
<rect x="37.6" y="1526.9" width="14.9" height="7" fill="#231f20" stroke="#231f20" stroke-width="1.5"/>
<rect x="37.6" y="1538.3" width="14.9" height="7" fill="#a01b21" stroke="#231f20" stroke-width="1.5"/>
<rect x="37.6" y="1549.7" width="14.9" height="7" fill="#a7a9ac" stroke="#231f20" stroke-width="1.5"/>
<rect x="37.6" y="1561.1" width="14.9" height="7" fill="#f6a5a9" stroke="#231f20" stroke-width="1.5"/>
<rect x="37.6" y="1572.6" width="14.9" height="7" fill="#231f20" stroke="#231f20" stroke-width="1.5"/>
<rect x="37.6" y="1584.0" width="14.9" height="7" fill="#a01b21" stroke="#231f20" stroke-width="1.5"/>
<rect x="37.6" y="1595.4" width="14.9" height="7" fill="#a7a9ac" stroke="#231f20" stroke-width="1.5"/>
<rect x="37.6" y="1606.8" width="14.9" height="7" fill="#f6a5a9" stroke="#231f20" stroke-width="1.5"/>
<rect x="37.6" y="1618.2" width="14.9" height="7" fill="#231f20" stroke="#231f20" stroke-width="1.5"/>
<rect x="37.6" y="1629.6" width="14.9" height="7" fill="#a01b21" stroke="#231f20" stroke-width="1.5"/>
<rect x="37.6" y="1641.1" width="14.9" height="7" fill="#a7a9ac" stroke="#231f20" stroke-width="1.5"/>
<rect x="37.6" y="1652.5" width="14.9" height="7" fill="#f6a5a9" stroke="#231f20" stroke-width="1.5"/>
<rect x="37.6" y="1663.9" width="14.9" height="7" fill="#231f20" stroke="#231f20" stroke-width="1.5"/>
<rect x="37.6" y="1675.3" width="14.9" height="7" fill="#a01b21" stroke="#231f20" stroke-width="1.5"/>
<rect x="37.6" y="1686.7" width="14.9" height="7" fill="#a7a9ac" stroke="#231f20" stroke-width="1.5"/>
<rect x="37.6" y="1698.1" width="14.9" height="7" fill="#f6a5a9" stroke="#231f20" stroke-width="1.5"/>
<rect x="37.6" y="1709.6" width="14.9" height="7" fill="#231f20" stroke="#231f20" stroke-width="1.5"/>
<rect x="37.6" y="1721.0" width="14.9" height="7" fill="#a01b21" stroke="#231f20" stroke-width="1.5"/>
<rect x="37.6" y="1732.4" width="14.9" height="7" fill="#a7a9ac" stroke="#231f20" stroke-width="1.5"/>
<rect x="37.6" y="1743.8" width="14.9" height="7" fill="#f6a5a9" stroke="#231f20" stroke-width="1.5"/>
<rect x="37.6" y="1755.2" width="14.9" height="7" fill="#231f20" stroke="#231f20" stroke-width="1.5"/>
<rect x="37.6" y="1766.6" width="14.9" height="7" fill="#a01b21" stroke="#231f20" stroke-width="1.5"/>
<rect x="37.6" y="1778.1" width="14.9" height="7" fill="#a7a9ac" stroke="#231f20" stroke-width="1.5"/>
<rect x="37.6" y="1789.5" width="14.9" height="7" fill="#f6a5a9" stroke="#231f20" stroke-width="1.5"/>
<rect x="37.6" y="1800.9" width="14.9" height="7" fill="#231f20" stroke="#231f20" stroke-width="1.5"/>
<rect x="37.6" y="1812.3" width="14.9" height="7" fill="#a01b21" stroke="#231f20" stroke-width="1.5"/>
<text x="-2" y="649.8" font-size="55">c</text>
<text x="113.5" y="689.1" font-size="36.9" fill="#231f20">CD80 Expression</text>
<text transform="translate(95.2,1833.2) rotate(-90) scale(0.96,1)" font-size="31" text-anchor="end" fill="#231f20">DC1</text>
<text transform="translate(151.5,1833.2) rotate(-90) scale(0.96,1)" font-size="31" text-anchor="end" fill="#231f20">DC2</text>
<text transform="translate(207.9,1833.2) rotate(-90) scale(0.96,1)" font-size="31" text-anchor="end" fill="#231f20">Macrophages</text>
<text transform="translate(264.2,1833.2) rotate(-90) scale(0.96,1)" font-size="31" text-anchor="end" fill="#231f20">Monocytes</text>
<text transform="translate(320.6,1833.2) rotate(-90) scale(0.96,1)" font-size="31" text-anchor="end" fill="#231f20">Neutrophils</text>
<text transform="translate(376.9,1833.2) rotate(-90) scale(0.96,1)" font-size="31" text-anchor="end" fill="#231f20">pDC</text>
<g transform="translate(0.0,0.0)">
<polygon points="512.8,822.1 518.0,827.3 524.9,832.1 530.6,838.4 532.2,846.8 537.5,854.6 534.8,862.5 536.9,870.4 533.8,879.9 529.1,887.7 520.7,891.9 511.7,894.0 502.3,891.9 496.0,895.1 489.7,890.9 487.6,883.5 479.7,878.3 478.1,869.3 470.2,865.1 469.7,858.8 475.0,852.0 474.4,842.6 478.1,837.3 486.5,834.7 488.6,828.9 497.0,827.3 503.8,825.8 507.5,823.7" fill="#7d8387" stroke="#7d8387" stroke-width="1" stroke-linejoin="round"/>
<circle cx="512.8" cy="822.1" r="1.4" fill="#7d8387"/>
<circle cx="518.0" cy="827.3" r="1.7" fill="#7d8387"/>
<circle cx="524.9" cy="832.1" r="1.6" fill="#7d8387"/>
<circle cx="530.6" cy="838.4" r="1.8" fill="#7d8387"/>
<circle cx="532.2" cy="846.8" r="1.8" fill="#7d8387"/>
<circle cx="537.5" cy="854.6" r="1.3" fill="#7d8387"/>
<circle cx="534.8" cy="862.5" r="1.2" fill="#7d8387"/>
<circle cx="536.9" cy="870.4" r="2.0" fill="#7d8387"/>
<circle cx="533.8" cy="879.9" r="1.5" fill="#7d8387"/>
<circle cx="529.1" cy="887.7" r="1.4" fill="#7d8387"/>
<circle cx="520.7" cy="891.9" r="2.2" fill="#7d8387"/>
<circle cx="511.7" cy="894.0" r="1.7" fill="#7d8387"/>
<circle cx="502.3" cy="891.9" r="2.0" fill="#7d8387"/>
<circle cx="496.0" cy="895.1" r="1.7" fill="#7d8387"/>
<circle cx="489.7" cy="890.9" r="1.8" fill="#7d8387"/>
<circle cx="487.6" cy="883.5" r="1.4" fill="#7d8387"/>
<circle cx="479.7" cy="878.3" r="1.8" fill="#7d8387"/>
<circle cx="478.1" cy="869.3" r="2.1" fill="#7d8387"/>
<circle cx="470.2" cy="865.1" r="1.7" fill="#7d8387"/>
<circle cx="469.7" cy="858.8" r="1.9" fill="#7d8387"/>
<circle cx="475.0" cy="852.0" r="1.9" fill="#7d8387"/>
<circle cx="474.4" cy="842.6" r="1.3" fill="#7d8387"/>
<circle cx="478.1" cy="837.3" r="2.0" fill="#7d8387"/>
<circle cx="486.5" cy="834.7" r="1.8" fill="#7d8387"/>
<circle cx="488.6" cy="828.9" r="1.5" fill="#7d8387"/>
<circle cx="497.0" cy="827.3" r="1.2" fill="#7d8387"/>
<circle cx="503.8" cy="825.8" r="2.1" fill="#7d8387"/>
<circle cx="507.5" cy="823.7" r="1.7" fill="#7d8387"/>
<circle cx="499.4" cy="847.0" r="7.4" fill="#868c90" fill-opacity="0.6" stroke="#6a7175" stroke-opacity="0.45" stroke-width="0.9"/>
<circle cx="516.4" cy="847.0" r="7.4" fill="#868c90" fill-opacity="0.6" stroke="#6a7175" stroke-opacity="0.45" stroke-width="0.9"/>
<circle cx="507.5" cy="860.2" r="7.4" fill="#868c90" fill-opacity="0.6" stroke="#6a7175" stroke-opacity="0.45" stroke-width="0.9"/>
<circle cx="517.8" cy="863.0" r="7.4" fill="#868c90" fill-opacity="0.6" stroke="#6a7175" stroke-opacity="0.45" stroke-width="0.9"/>
<circle cx="488.6" cy="863.6" r="7.4" fill="#868c90" fill-opacity="0.6" stroke="#6a7175" stroke-opacity="0.45" stroke-width="0.9"/>
<circle cx="503.6" cy="873.0" r="7.4" fill="#868c90" fill-opacity="0.6" stroke="#6a7175" stroke-opacity="0.45" stroke-width="0.9"/>
<circle cx="516.4" cy="877.2" r="7.4" fill="#868c90" fill-opacity="0.6" stroke="#6a7175" stroke-opacity="0.45" stroke-width="0.9"/>
<circle cx="481.3" cy="844.4" r="7.4" fill="#868c90" fill-opacity="0.6" stroke="#6a7175" stroke-opacity="0.45" stroke-width="0.9"/>
<circle cx="477.6" cy="861.2" r="7.4" fill="#868c90" fill-opacity="0.6" stroke="#6a7175" stroke-opacity="0.45" stroke-width="0.9"/>
<circle cx="487.0" cy="875.1" r="7.4" fill="#868c90" fill-opacity="0.6" stroke="#6a7175" stroke-opacity="0.45" stroke-width="0.9"/>
<circle cx="496.5" cy="885.6" r="7.4" fill="#868c90" fill-opacity="0.6" stroke="#6a7175" stroke-opacity="0.45" stroke-width="0.9"/>
<circle cx="508.0" cy="885.6" r="7.4" fill="#868c90" fill-opacity="0.6" stroke="#6a7175" stroke-opacity="0.45" stroke-width="0.9"/>
<circle cx="522.8" cy="884.6" r="7.4" fill="#868c90" fill-opacity="0.6" stroke="#6a7175" stroke-opacity="0.45" stroke-width="0.9"/>
<circle cx="528.5" cy="870.9" r="7.4" fill="#868c90" fill-opacity="0.6" stroke="#6a7175" stroke-opacity="0.45" stroke-width="0.9"/>
<circle cx="527.5" cy="856.2" r="7.4" fill="#868c90" fill-opacity="0.6" stroke="#6a7175" stroke-opacity="0.45" stroke-width="0.9"/>
<circle cx="520.1" cy="837.8" r="7.4" fill="#868c90" fill-opacity="0.6" stroke="#6a7175" stroke-opacity="0.45" stroke-width="0.9"/>
<circle cx="510.7" cy="832.1" r="7.4" fill="#868c90" fill-opacity="0.6" stroke="#6a7175" stroke-opacity="0.45" stroke-width="0.9"/>
<circle cx="490.7" cy="836.3" r="7.4" fill="#868c90" fill-opacity="0.6" stroke="#6a7175" stroke-opacity="0.45" stroke-width="0.9"/>
<circle cx="499.6" cy="838.4" r="7.4" fill="#868c90" fill-opacity="0.6" stroke="#6a7175" stroke-opacity="0.45" stroke-width="0.9"/>
<circle cx="499.4" cy="847.0" r="4.1" fill="#323c40"/>
<circle cx="516.4" cy="847.0" r="4.1" fill="#323c40"/>
<circle cx="507.5" cy="860.2" r="4.1" fill="#323c40"/>
<circle cx="517.8" cy="863.0" r="4.1" fill="#323c40"/>
<circle cx="488.6" cy="863.6" r="4.1" fill="#323c40"/>
<circle cx="503.6" cy="873.0" r="4.1" fill="#323c40"/>
<circle cx="516.4" cy="877.2" r="4.1" fill="#474f53"/>
<circle cx="481.3" cy="844.4" r="4.1" fill="#5b6367"/>
<circle cx="477.6" cy="861.2" r="4.1" fill="#5b6367"/>
<circle cx="487.0" cy="875.1" r="4.1" fill="#5b6367"/>
<circle cx="496.5" cy="885.6" r="4.1" fill="#5b6367"/>
<circle cx="508.0" cy="885.6" r="4.1" fill="#5b6367"/>
<circle cx="522.8" cy="884.6" r="4.1" fill="#5b6367"/>
<circle cx="528.5" cy="870.9" r="4.1" fill="#5b6367"/>
<circle cx="527.5" cy="856.2" r="4.1" fill="#5b6367"/>
<circle cx="520.1" cy="837.8" r="4.1" fill="#5b6367"/>
<circle cx="510.7" cy="832.1" r="4.1" fill="#5b6367"/>
<circle cx="490.7" cy="836.3" r="4.1" fill="#5b6367"/>
<circle cx="499.6" cy="838.4" r="4.1" fill="#5b6367"/>
</g>
<path d="M503.3,1090.8 C509.1,1091.0 513.3,1094.7 513.8,1101.0 C514.6,1109.4 511.2,1117.8 509.4,1124.6 C507.5,1132.5 509.6,1140.4 512.2,1148.3 C514.3,1154.6 514.9,1161.9 512.8,1167.2 C511.2,1170.3 506.5,1169.8 502.3,1166.7 C494.9,1159.8 490.7,1149.3 488.9,1137.8 C487.0,1127.3 487.6,1114.1 490.7,1103.6 C493.3,1095.8 498.1,1091.0 503.3,1090.8 Z" fill="#8f4a50" stroke="#7b2d36" stroke-width="1"/>
<path d="M507.5,1093.7 C512.2,1095.8 513.3,1101.0 512.8,1107.3 C510.7,1116.8 507.5,1123.1 506.7,1129.9 C507.0,1140.4 510.7,1150.9 512.2,1158.8 C512.8,1163.0 512.2,1166.1 510.7,1167.7 C507.5,1158.8 502.3,1145.7 501.2,1132.5 C500.7,1119.4 503.8,1106.3 507.5,1093.7 Z" fill="#853a42"/>
<path d="M484.9,1387.6 C486.2,1387.3 488.7,1389.2 489.1,1390.8 C489.6,1392.3 487.3,1395.1 487.6,1397.1 C487.8,1399.0 489.1,1400.8 490.7,1402.3 C492.3,1403.8 494.7,1405.3 497.0,1406.0 C499.4,1406.7 503.1,1406.1 504.9,1406.5 C506.6,1407.0 506.2,1408.9 507.5,1408.6 C508.8,1408.4 510.6,1405.7 512.8,1404.9 C515.0,1404.1 518.5,1404.8 520.7,1403.9 C522.8,1403.0 524.2,1400.6 525.9,1399.7 C527.7,1398.8 529.8,1397.9 531.2,1398.6 C532.6,1399.3 534.0,1401.3 534.3,1403.9 C534.7,1406.5 533.5,1410.9 533.3,1414.4 C533.0,1417.9 532.7,1421.4 532.7,1424.9 C532.7,1428.4 533.1,1432.3 533.3,1435.4 C533.4,1438.5 534.1,1440.7 533.8,1443.3 C533.4,1445.9 532.9,1449.0 531.2,1451.2 C529.4,1453.3 525.9,1455.4 523.3,1456.4 C520.7,1457.5 518.0,1457.4 515.4,1457.5 C512.8,1457.5 510.1,1456.7 507.5,1456.9 C504.9,1457.2 502.3,1458.9 499.6,1459.0 C497.0,1459.1 494.0,1458.8 491.8,1457.5 C489.6,1456.1 487.7,1453.5 486.5,1451.2 C485.3,1448.8 485.5,1445.5 484.4,1443.3 C483.4,1441.1 481.4,1440.0 480.2,1438.0 C479.0,1436.1 477.9,1434.3 477.1,1431.7 C476.2,1429.1 475.2,1425.6 475.0,1422.3 C474.7,1418.9 475.6,1414.8 475.5,1411.8 C475.4,1408.7 474.2,1406.1 474.4,1403.9 C474.7,1401.7 476.0,1399.6 477.1,1398.6 C478.1,1397.7 480.0,1399.2 480.7,1398.1 C481.4,1397.1 480.6,1394.1 481.3,1392.3 C482.0,1390.6 483.6,1387.9 484.9,1387.6 Z" fill="#f9c9c7" stroke="#eba6a8" stroke-width="0.9"/>
<ellipse cx="482.3" cy="1407.6" rx="7.9" ry="3.3" transform="rotate(50 482.3 1407.6)" fill="#fbd0ce" stroke="#eaa7a9" stroke-width="0.7"/>
<ellipse cx="489.7" cy="1415.4" rx="8.9" ry="3.5" transform="rotate(45 489.7 1415.4)" fill="#fbd0ce" stroke="#eaa7a9" stroke-width="0.7"/>
<ellipse cx="482.3" cy="1425.4" rx="7.9" ry="3.3" transform="rotate(60 482.3 1425.4)" fill="#fbd0ce" stroke="#eaa7a9" stroke-width="0.7"/>
<ellipse cx="515.4" cy="1411.2" rx="7.4" ry="3.9" transform="rotate(-30 515.4 1411.2)" fill="#fbd0ce" stroke="#eaa7a9" stroke-width="0.7"/>
<ellipse cx="525.9" cy="1408.1" rx="6.8" ry="3.3" transform="rotate(-50 525.9 1408.1)" fill="#fbd0ce" stroke="#eaa7a9" stroke-width="0.7"/>
<ellipse cx="529.1" cy="1418.6" rx="4.5" ry="8.4" transform="rotate(0 529.1 1418.6)" fill="#fbd0ce" stroke="#eaa7a9" stroke-width="0.7"/>
<ellipse cx="526.4" cy="1430.7" rx="6.8" ry="3.7" transform="rotate(40 526.4 1430.7)" fill="#fbd0ce" stroke="#eaa7a9" stroke-width="0.7"/>
<ellipse cx="526.4" cy="1443.8" rx="7.4" ry="3.7" transform="rotate(-30 526.4 1443.8)" fill="#fbd0ce" stroke="#eaa7a9" stroke-width="0.7"/>
<ellipse cx="515.9" cy="1428.0" rx="6.8" ry="3.3" transform="rotate(45 515.9 1428.0)" fill="#fbd0ce" stroke="#eaa7a9" stroke-width="0.7"/>
<ellipse cx="508.0" cy="1435.9" rx="8.4" ry="2.9" transform="rotate(50 508.0 1435.9)" fill="#fbd0ce" stroke="#eaa7a9" stroke-width="0.7"/>
<ellipse cx="498.6" cy="1441.2" rx="8.9" ry="2.9" transform="rotate(50 498.6 1441.2)" fill="#fbd0ce" stroke="#eaa7a9" stroke-width="0.7"/>
<ellipse cx="491.8" cy="1449.1" rx="8.4" ry="3.2" transform="rotate(40 491.8 1449.1)" fill="#fbd0ce" stroke="#eaa7a9" stroke-width="0.7"/>
<ellipse cx="484.4" cy="1438.0" rx="6.8" ry="3.2" transform="rotate(50 484.4 1438.0)" fill="#fbd0ce" stroke="#eaa7a9" stroke-width="0.7"/>
<ellipse cx="502.3" cy="1453.3" rx="7.9" ry="3.0" transform="rotate(-10 502.3 1453.3)" fill="#fbd0ce" stroke="#eaa7a9" stroke-width="0.7"/>
<ellipse cx="515.9" cy="1451.7" rx="7.9" ry="3.3" transform="rotate(-20 515.9 1451.7)" fill="#fbd0ce" stroke="#eaa7a9" stroke-width="0.7"/>
<ellipse cx="518.6" cy="1441.2" rx="6.3" ry="3.2" transform="rotate(30 518.6 1441.2)" fill="#fbd0ce" stroke="#eaa7a9" stroke-width="0.7"/>
<ellipse cx="508.0" cy="1420.2" rx="7.9" ry="3.7" transform="rotate(-30 508.0 1420.2)" fill="#fbd0ce" stroke="#eaa7a9" stroke-width="0.7"/>
<ellipse cx="502.3" cy="1412.3" rx="7.4" ry="3.7" transform="rotate(20 502.3 1412.3)" fill="#fbd0ce" stroke="#eaa7a9" stroke-width="0.7"/>
<ellipse cx="495.4" cy="1424.4" rx="7.9" ry="4.2" transform="rotate(-20 495.4 1424.4)" fill="#fbd0ce" stroke="#eaa7a9" stroke-width="0.7"/>
<path d="M496.0,1649.7 L496.0,1638.1" stroke="#9cc98c" stroke-width="2" stroke-linecap="round" fill="none"/>
<path d="M478.6,1657.6 L470.8,1652.8" stroke="#9cc98c" stroke-width="2" stroke-linecap="round" fill="none"/>
<path d="M475.5,1670.7 L469.2,1669.1" stroke="#9cc98c" stroke-width="2" stroke-linecap="round" fill="none"/>
<path d="M477.6,1685.4 L466.6,1689.1" stroke="#9cc98c" stroke-width="2" stroke-linecap="round" fill="none"/>
<path d="M483.9,1699.6 L479.2,1706.4" stroke="#9cc98c" stroke-width="2" stroke-linecap="round" fill="none"/>
<path d="M498.6,1701.2 L501.7,1711.1" stroke="#9cc98c" stroke-width="2" stroke-linecap="round" fill="none"/>
<path d="M498.1,1676.2 L527.5,1675.5" stroke="#a9d9a0" stroke-width="4.2" stroke-linecap="butt" fill="none"/>
<path d="M502.3,1679.1 C510.1,1677.5 518.0,1680.7 525.4,1683.0" stroke="#8a2a4a" stroke-width="1" fill="none"/>
<path d="M502.3,1679.9 C510.1,1679.1 515.4,1679.4 523.3,1679.9" stroke="#5a6ab8" stroke-width="1" fill="none"/>
<path d="M494.9,1649.2 C502.3,1649.7 508.0,1654.4 509.4,1661.8 C510.1,1667.0 508.6,1671.2 505.4,1673.8 C502.3,1676.5 502.3,1679.1 505.4,1681.7 C509.1,1685.4 509.1,1692.2 505.4,1697.5 C501.2,1702.2 492.8,1703.8 487.6,1701.2 C479.7,1696.4 475.5,1685.4 475.2,1673.3 C475.2,1661.8 482.3,1649.7 494.9,1649.2 Z" fill="#b4dca2" stroke="#79b05a" stroke-width="2"/>
<path d="M494.5,1653.9 C500.5,1654.4 505.3,1658.2 506.3,1664.3 C507.0,1668.6 505.7,1672.0 503.1,1674.2 C500.5,1676.3 500.5,1678.5 503.1,1680.6 C506.1,1683.7 506.1,1689.2 503.1,1693.6 C499.7,1697.4 492.8,1698.7 488.5,1696.6 C482.0,1692.7 478.6,1683.7 478.3,1673.7 C478.3,1664.3 484.2,1654.4 494.5,1653.9 Z" fill="#a58bc6"/>
<path d="M498.6,1676.2 L489.7,1653.9" stroke="#b4dca2" stroke-width="1.5" fill="none"/>
<path d="M498.6,1676.2 L499.1,1652.8" stroke="#b4dca2" stroke-width="1.5" fill="none"/>
<path d="M498.6,1676.2 L478.6,1664.9" stroke="#b4dca2" stroke-width="1.5" fill="none"/>
<path d="M498.6,1676.2 L476.3,1677.0" stroke="#b4dca2" stroke-width="1.5" fill="none"/>
<path d="M498.6,1676.2 L480.7,1689.6" stroke="#b4dca2" stroke-width="1.5" fill="none"/>
<path d="M498.6,1676.2 L492.8,1699.1" stroke="#b4dca2" stroke-width="1.5" fill="none"/>
<path d="M498.6,1676.2 L502.3,1696.4" stroke="#b4dca2" stroke-width="1.5" fill="none"/>
<path d="M498.6,1676.2 L507.5,1664.9" stroke="#b4dca2" stroke-width="1.5" fill="none"/>
<circle cx="486.0" cy="1660.2" r="1.6" fill="#f4a8c8"/>
<circle cx="493.9" cy="1655.5" r="1.6" fill="#f4a8c8"/>
<circle cx="503.3" cy="1658.6" r="1.6" fill="#f4a8c8"/>
<circle cx="482.3" cy="1671.2" r="1.6" fill="#f4a8c8"/>
<circle cx="483.4" cy="1682.2" r="1.6" fill="#f4a8c8"/>
<circle cx="488.1" cy="1691.2" r="1.6" fill="#f4a8c8"/>
<circle cx="497.0" cy="1693.3" r="1.6" fill="#f4a8c8"/>
<circle cx="504.4" cy="1687.5" r="1.6" fill="#f4a8c8"/>
<path d="M493.9,1672.3 L502.3,1671.2 L507.5,1676.2 L501.2,1680.7 L496.0,1682.8 Z" fill="#a9d9a0"/>
<text x="556.6" y="871.5" font-size="33.3">B16-F10</text>
<text x="556.6" y="1138.2" font-size="33.3">Spleen</text>
<text x="556.6" y="1411.5" font-size="33.3">Small</text>
<text x="556.6" y="1451.2" font-size="33.3">intestine</text>
<text x="556.6" y="1663.5" font-size="33.3">Draining</text>
<text x="556.6" y="1702.6" font-size="33.3">lymph node</text>
<circle cx="447" cy="1852.7" r="6.1" fill="#000"/>
<circle cx="447" cy="1887.5" r="8.6" fill="#000"/>
<circle cx="447" cy="1925.4" r="10.7" fill="#000"/>
<text x="479.3" y="1860.7" font-size="24.5" fill="#231f20">1</text>
<text x="479.3" y="1898.0" font-size="24.5" fill="#231f20">2</text>
<text x="479.3" y="1934.0" font-size="24.5" fill="#231f20">3</text>
<text transform="translate(534,1905.5) rotate(-90) scale(0.963,1)" font-size="27" text-anchor="middle" fill="#231f20">FC (gMFI)</text>
<defs><linearGradient id="gc" x1="0" y1="0" x2="0" y2="1"><stop offset="0" stop-color="#cacaca"/><stop offset="0.25" stop-color="#dfaca5"/><stop offset="0.5" stop-color="#ec8d80"/><stop offset="0.75" stop-color="#f1695c"/><stop offset="1" stop-color="#ee3b37"/></linearGradient></defs>
<rect x="569.2" y="1842.2" width="29.3" height="141.0" fill="url(#gc)"/>
<line x1="569.2" y1="1843.2" x2="574.7" y2="1843.2" stroke="#fff" stroke-width="1.2"/>
<line x1="593.0" y1="1843.2" x2="598.5" y2="1843.2" stroke="#fff" stroke-width="1.2"/>
<line x1="569.2" y1="1878.0" x2="574.7" y2="1878.0" stroke="#fff" stroke-width="1.2"/>
<line x1="593.0" y1="1878.0" x2="598.5" y2="1878.0" stroke="#fff" stroke-width="1.2"/>
<line x1="569.2" y1="1912.7" x2="574.7" y2="1912.7" stroke="#fff" stroke-width="1.2"/>
<line x1="593.0" y1="1912.7" x2="598.5" y2="1912.7" stroke="#fff" stroke-width="1.2"/>
<line x1="569.2" y1="1947.5" x2="574.7" y2="1947.5" stroke="#fff" stroke-width="1.2"/>
<line x1="593.0" y1="1947.5" x2="598.5" y2="1947.5" stroke="#fff" stroke-width="1.2"/>
<line x1="569.2" y1="1982.2" x2="574.7" y2="1982.2" stroke="#fff" stroke-width="1.2"/>
<line x1="593.0" y1="1982.2" x2="598.5" y2="1982.2" stroke="#fff" stroke-width="1.2"/>
<text x="607.5" y="1847.2" font-size="20" fill="#231f20">1.00</text>
<text x="607.5" y="1882.2" font-size="20" fill="#231f20">0.75</text>
<text x="607.5" y="1917.3" font-size="20" fill="#231f20">0.50</text>
<text x="607.5" y="1952.4" font-size="20" fill="#231f20">0.25</text>
<text x="607.5" y="1987.4" font-size="20" fill="#231f20">0.00</text>
<text transform="translate(683.4,1914.5) rotate(-90)" font-size="25" text-anchor="middle" fill="#231f20"><tspan font-style="italic">P</tspan>-value</text>
<rect x="56.5" y="2039.8" width="37.7" height="18.3" fill="#a7a9ac" stroke="#4a4a4a" stroke-width="1"/>
<rect x="56.5" y="2082.5" width="37.7" height="18.3" fill="#f6a0a2" stroke="#4a4a4a" stroke-width="1"/>
<rect x="268.1" y="2039.8" width="37.7" height="18.3" fill="#231f20" stroke="#4a4a4a" stroke-width="1"/>
<rect x="268.1" y="2082.5" width="37.7" height="18.3" fill="#9e1c22" stroke="#4a4a4a" stroke-width="1"/>
<text x="107.8" y="2057.9" font-size="27.7" fill="#231f20">Control</text>
<text x="107.8" y="2097.4" font-size="27.7" fill="#231f20">IMQ oral</text>
<text x="331.8" y="2057.9" font-size="27.7" fill="#231f20">IFN-<tspan font-family="'Liberation Serif','DejaVu Serif',serif" font-size="31">α</tspan></text>
<text x="331.8" y="2097.4" font-size="27.7" fill="#231f20">IFN-<tspan font-family="'Liberation Serif','DejaVu Serif',serif" font-size="31">α</tspan> + IMQ topical</text>
<rect x="786.2" y="724.8" width="363.0999999999999" height="1100.1000000000001" fill="#fffef3"/>
<line x1="787.2" y1="731.5" x2="1145.3" y2="731.5" stroke="#e6e5df" stroke-width="1.8"/>
<line x1="787.2" y1="742.9" x2="1145.3" y2="742.9" stroke="#e6e5df" stroke-width="1.8"/>
<line x1="787.2" y1="754.4" x2="1145.3" y2="754.4" stroke="#e6e5df" stroke-width="1.8"/>
<line x1="787.2" y1="765.8" x2="1145.3" y2="765.8" stroke="#e6e5df" stroke-width="1.8"/>
<line x1="787.2" y1="777.2" x2="1145.3" y2="777.2" stroke="#e6e5df" stroke-width="1.8"/>
<line x1="787.2" y1="788.7" x2="1145.3" y2="788.7" stroke="#e6e5df" stroke-width="1.8"/>
<line x1="787.2" y1="800.1" x2="1145.3" y2="800.1" stroke="#e6e5df" stroke-width="1.8"/>
<line x1="787.2" y1="811.6" x2="1145.3" y2="811.6" stroke="#e6e5df" stroke-width="1.8"/>
<line x1="787.2" y1="823.0" x2="1145.3" y2="823.0" stroke="#e6e5df" stroke-width="1.8"/>
<line x1="787.2" y1="834.4" x2="1145.3" y2="834.4" stroke="#e6e5df" stroke-width="1.8"/>
<line x1="787.2" y1="845.9" x2="1145.3" y2="845.9" stroke="#e6e5df" stroke-width="1.8"/>
<line x1="787.2" y1="857.3" x2="1145.3" y2="857.3" stroke="#e6e5df" stroke-width="1.8"/>
<line x1="787.2" y1="868.7" x2="1145.3" y2="868.7" stroke="#e6e5df" stroke-width="1.8"/>
<line x1="787.2" y1="880.2" x2="1145.3" y2="880.2" stroke="#e6e5df" stroke-width="1.8"/>
<line x1="787.2" y1="891.6" x2="1145.3" y2="891.6" stroke="#e6e5df" stroke-width="1.8"/>
<line x1="787.2" y1="903.1" x2="1145.3" y2="903.1" stroke="#e6e5df" stroke-width="1.8"/>
<line x1="787.2" y1="914.5" x2="1145.3" y2="914.5" stroke="#e6e5df" stroke-width="1.8"/>
<line x1="787.2" y1="925.9" x2="1145.3" y2="925.9" stroke="#e6e5df" stroke-width="1.8"/>
<line x1="787.2" y1="937.4" x2="1145.3" y2="937.4" stroke="#e6e5df" stroke-width="1.8"/>
<line x1="787.2" y1="948.8" x2="1145.3" y2="948.8" stroke="#e6e5df" stroke-width="1.8"/>
<line x1="787.2" y1="960.2" x2="1145.3" y2="960.2" stroke="#e6e5df" stroke-width="1.8"/>
<line x1="787.2" y1="971.7" x2="1145.3" y2="971.7" stroke="#e6e5df" stroke-width="1.8"/>
<line x1="787.2" y1="983.1" x2="1145.3" y2="983.1" stroke="#e6e5df" stroke-width="1.8"/>
<line x1="787.2" y1="1006.0" x2="1145.3" y2="1006.0" stroke="#e6e5df" stroke-width="1.8"/>
<line x1="787.2" y1="1017.4" x2="1145.3" y2="1017.4" stroke="#e6e5df" stroke-width="1.8"/>
<line x1="787.2" y1="1028.9" x2="1145.3" y2="1028.9" stroke="#e6e5df" stroke-width="1.8"/>
<line x1="787.2" y1="1040.3" x2="1145.3" y2="1040.3" stroke="#e6e5df" stroke-width="1.8"/>
<line x1="787.2" y1="1051.7" x2="1145.3" y2="1051.7" stroke="#e6e5df" stroke-width="1.8"/>
<line x1="787.2" y1="1063.2" x2="1145.3" y2="1063.2" stroke="#e6e5df" stroke-width="1.8"/>
<line x1="787.2" y1="1074.6" x2="1145.3" y2="1074.6" stroke="#e6e5df" stroke-width="1.8"/>
<line x1="787.2" y1="1086.0" x2="1145.3" y2="1086.0" stroke="#e6e5df" stroke-width="1.8"/>
<line x1="787.2" y1="1097.5" x2="1145.3" y2="1097.5" stroke="#e6e5df" stroke-width="1.8"/>
<line x1="787.2" y1="1108.9" x2="1145.3" y2="1108.9" stroke="#e6e5df" stroke-width="1.8"/>
<line x1="787.2" y1="1120.4" x2="1145.3" y2="1120.4" stroke="#e6e5df" stroke-width="1.8"/>
<line x1="787.2" y1="1131.8" x2="1145.3" y2="1131.8" stroke="#e6e5df" stroke-width="1.8"/>
<line x1="787.2" y1="1143.2" x2="1145.3" y2="1143.2" stroke="#e6e5df" stroke-width="1.8"/>
<line x1="787.2" y1="1154.7" x2="1145.3" y2="1154.7" stroke="#e6e5df" stroke-width="1.8"/>
<line x1="787.2" y1="1166.1" x2="1145.3" y2="1166.1" stroke="#e6e5df" stroke-width="1.8"/>
<line x1="787.2" y1="1177.5" x2="1145.3" y2="1177.5" stroke="#e6e5df" stroke-width="1.8"/>
<line x1="787.2" y1="1189.0" x2="1145.3" y2="1189.0" stroke="#e6e5df" stroke-width="1.8"/>
<line x1="787.2" y1="1200.4" x2="1145.3" y2="1200.4" stroke="#e6e5df" stroke-width="1.8"/>
<line x1="787.2" y1="1211.9" x2="1145.3" y2="1211.9" stroke="#e6e5df" stroke-width="1.8"/>
<line x1="787.2" y1="1223.3" x2="1145.3" y2="1223.3" stroke="#e6e5df" stroke-width="1.8"/>
<line x1="787.2" y1="1234.7" x2="1145.3" y2="1234.7" stroke="#e6e5df" stroke-width="1.8"/>
<line x1="787.2" y1="1246.2" x2="1145.3" y2="1246.2" stroke="#e6e5df" stroke-width="1.8"/>
<line x1="787.2" y1="1257.6" x2="1145.3" y2="1257.6" stroke="#e6e5df" stroke-width="1.8"/>
<line x1="787.2" y1="1280.5" x2="1145.3" y2="1280.5" stroke="#e6e5df" stroke-width="1.8"/>
<line x1="787.2" y1="1291.9" x2="1145.3" y2="1291.9" stroke="#e6e5df" stroke-width="1.8"/>
<line x1="787.2" y1="1303.3" x2="1145.3" y2="1303.3" stroke="#e6e5df" stroke-width="1.8"/>
<line x1="787.2" y1="1314.8" x2="1145.3" y2="1314.8" stroke="#e6e5df" stroke-width="1.8"/>
<line x1="787.2" y1="1326.2" x2="1145.3" y2="1326.2" stroke="#e6e5df" stroke-width="1.8"/>
<line x1="787.2" y1="1337.7" x2="1145.3" y2="1337.7" stroke="#e6e5df" stroke-width="1.8"/>
<line x1="787.2" y1="1349.1" x2="1145.3" y2="1349.1" stroke="#e6e5df" stroke-width="1.8"/>
<line x1="787.2" y1="1360.5" x2="1145.3" y2="1360.5" stroke="#e6e5df" stroke-width="1.8"/>
<line x1="787.2" y1="1372.0" x2="1145.3" y2="1372.0" stroke="#e6e5df" stroke-width="1.8"/>
<line x1="787.2" y1="1383.4" x2="1145.3" y2="1383.4" stroke="#e6e5df" stroke-width="1.8"/>
<line x1="787.2" y1="1394.8" x2="1145.3" y2="1394.8" stroke="#e6e5df" stroke-width="1.8"/>
<line x1="787.2" y1="1406.3" x2="1145.3" y2="1406.3" stroke="#e6e5df" stroke-width="1.8"/>
<line x1="787.2" y1="1417.7" x2="1145.3" y2="1417.7" stroke="#e6e5df" stroke-width="1.8"/>
<line x1="787.2" y1="1429.2" x2="1145.3" y2="1429.2" stroke="#e6e5df" stroke-width="1.8"/>
<line x1="787.2" y1="1440.6" x2="1145.3" y2="1440.6" stroke="#e6e5df" stroke-width="1.8"/>
<line x1="787.2" y1="1452.0" x2="1145.3" y2="1452.0" stroke="#e6e5df" stroke-width="1.8"/>
<line x1="787.2" y1="1463.5" x2="1145.3" y2="1463.5" stroke="#e6e5df" stroke-width="1.8"/>
<line x1="787.2" y1="1474.9" x2="1145.3" y2="1474.9" stroke="#e6e5df" stroke-width="1.8"/>
<line x1="787.2" y1="1486.3" x2="1145.3" y2="1486.3" stroke="#e6e5df" stroke-width="1.8"/>
<line x1="787.2" y1="1497.8" x2="1145.3" y2="1497.8" stroke="#e6e5df" stroke-width="1.8"/>
<line x1="787.2" y1="1509.2" x2="1145.3" y2="1509.2" stroke="#e6e5df" stroke-width="1.8"/>
<line x1="787.2" y1="1520.7" x2="1145.3" y2="1520.7" stroke="#e6e5df" stroke-width="1.8"/>
<line x1="787.2" y1="1532.1" x2="1145.3" y2="1532.1" stroke="#e6e5df" stroke-width="1.8"/>
<line x1="787.2" y1="1555.0" x2="1145.3" y2="1555.0" stroke="#e6e5df" stroke-width="1.8"/>
<line x1="787.2" y1="1566.4" x2="1145.3" y2="1566.4" stroke="#e6e5df" stroke-width="1.8"/>
<line x1="787.2" y1="1577.8" x2="1145.3" y2="1577.8" stroke="#e6e5df" stroke-width="1.8"/>
<line x1="787.2" y1="1589.3" x2="1145.3" y2="1589.3" stroke="#e6e5df" stroke-width="1.8"/>
<line x1="787.2" y1="1600.7" x2="1145.3" y2="1600.7" stroke="#e6e5df" stroke-width="1.8"/>
<line x1="787.2" y1="1612.1" x2="1145.3" y2="1612.1" stroke="#e6e5df" stroke-width="1.8"/>
<line x1="787.2" y1="1623.6" x2="1145.3" y2="1623.6" stroke="#e6e5df" stroke-width="1.8"/>
<line x1="787.2" y1="1635.0" x2="1145.3" y2="1635.0" stroke="#e6e5df" stroke-width="1.8"/>
<line x1="787.2" y1="1646.5" x2="1145.3" y2="1646.5" stroke="#e6e5df" stroke-width="1.8"/>
<line x1="787.2" y1="1657.9" x2="1145.3" y2="1657.9" stroke="#e6e5df" stroke-width="1.8"/>
<line x1="787.2" y1="1669.3" x2="1145.3" y2="1669.3" stroke="#e6e5df" stroke-width="1.8"/>
<line x1="787.2" y1="1680.8" x2="1145.3" y2="1680.8" stroke="#e6e5df" stroke-width="1.8"/>
<line x1="787.2" y1="1692.2" x2="1145.3" y2="1692.2" stroke="#e6e5df" stroke-width="1.8"/>
<line x1="787.2" y1="1703.6" x2="1145.3" y2="1703.6" stroke="#e6e5df" stroke-width="1.8"/>
<line x1="787.2" y1="1715.1" x2="1145.3" y2="1715.1" stroke="#e6e5df" stroke-width="1.8"/>
<line x1="787.2" y1="1726.5" x2="1145.3" y2="1726.5" stroke="#e6e5df" stroke-width="1.8"/>
<line x1="787.2" y1="1738.0" x2="1145.3" y2="1738.0" stroke="#e6e5df" stroke-width="1.8"/>
<line x1="787.2" y1="1749.4" x2="1145.3" y2="1749.4" stroke="#e6e5df" stroke-width="1.8"/>
<line x1="787.2" y1="1760.8" x2="1145.3" y2="1760.8" stroke="#e6e5df" stroke-width="1.8"/>
<line x1="787.2" y1="1772.3" x2="1145.3" y2="1772.3" stroke="#e6e5df" stroke-width="1.8"/>
<line x1="787.2" y1="1783.7" x2="1145.3" y2="1783.7" stroke="#e6e5df" stroke-width="1.8"/>
<line x1="787.2" y1="1795.1" x2="1145.3" y2="1795.1" stroke="#e6e5df" stroke-width="1.8"/>
<line x1="787.2" y1="1806.6" x2="1145.3" y2="1806.6" stroke="#e6e5df" stroke-width="1.8"/>
<line x1="787.2" y1="1818.0" x2="1145.3" y2="1818.0" stroke="#e6e5df" stroke-width="1.8"/>
<line x1="814.3" y1="725.8" x2="814.3" y2="1823.9" stroke="#e5e5e4" stroke-width="2"/>
<line x1="870.7" y1="725.8" x2="870.7" y2="1823.9" stroke="#e5e5e4" stroke-width="2"/>
<line x1="927.1" y1="725.8" x2="927.1" y2="1823.9" stroke="#e5e5e4" stroke-width="2"/>
<line x1="983.6" y1="725.8" x2="983.6" y2="1823.9" stroke="#e5e5e4" stroke-width="2"/>
<line x1="1040.0" y1="725.8" x2="1040.0" y2="1823.9" stroke="#e5e5e4" stroke-width="2"/>
<line x1="1096.4" y1="725.8" x2="1096.4" y2="1823.9" stroke="#e5e5e4" stroke-width="2"/>
<defs><clipPath id="cpd"><rect x="786.2" y="724.8" width="363.0999999999999" height="1100.1000000000001"/></clipPath></defs>
<g clip-path="url(#cpd)">
<circle cx="814.3" cy="731.5" r="6.0" fill="#cccccc"/>
<circle cx="814.3" cy="754.4" r="7.0" fill="#f07063"/>
<circle cx="814.3" cy="742.9" r="7.6" fill="#f06055"/>
<circle cx="814.3" cy="765.8" r="8.8" fill="#ee413b"/>
<circle cx="870.7" cy="777.2" r="6.0" fill="#cccccc"/>
<circle cx="870.7" cy="800.1" r="7.4" fill="#f06055"/>
<circle cx="870.7" cy="788.7" r="7.6" fill="#ef5149"/>
<circle cx="870.7" cy="811.6" r="8.2" fill="#ef443e"/>
<circle cx="1096.4" cy="823.0" r="6.0" fill="#cccccc"/>
<circle cx="1096.4" cy="845.9" r="7.2" fill="#e5a59d"/>
<circle cx="1096.4" cy="834.4" r="9.0" fill="#f06055"/>
<circle cx="1096.4" cy="857.3" r="7.8" fill="#ef8679"/>
<circle cx="983.6" cy="868.7" r="6.0" fill="#cccccc"/>
<circle cx="983.6" cy="891.6" r="6.2" fill="#d5bfbc"/>
<circle cx="983.6" cy="880.2" r="7.2" fill="#f0776a"/>
<circle cx="983.6" cy="903.1" r="8.2" fill="#ee413b"/>
<circle cx="1040.0" cy="914.5" r="6.0" fill="#cccccc"/>
<circle cx="1040.0" cy="937.4" r="7.0" fill="#f0776a"/>
<circle cx="1040.0" cy="925.9" r="4.0" fill="#f0574d"/>
<circle cx="1040.0" cy="948.8" r="4.3" fill="#f06055"/>
<circle cx="927.1" cy="960.2" r="6.0" fill="#cccccc"/>
<circle cx="927.1" cy="983.1" r="7.0" fill="#f07063"/>
<circle cx="927.1" cy="971.7" r="7.0" fill="#f06055"/>
<circle cx="927.1" cy="994.6" r="6.2" fill="#d1c5c4"/>
<circle cx="814.3" cy="1006.0" r="6.0" fill="#cccccc"/>
<circle cx="814.3" cy="1028.9" r="6.0" fill="#e3aba4"/>
<circle cx="814.3" cy="1017.4" r="9.4" fill="#ee413b"/>
<circle cx="814.3" cy="1040.3" r="8.0" fill="#ee413b"/>
<circle cx="870.7" cy="1051.7" r="6.0" fill="#cccccc"/>
<circle cx="870.7" cy="1074.6" r="6.5" fill="#ea998e"/>
<circle cx="870.7" cy="1063.2" r="9.8" fill="#ee413b"/>
<circle cx="870.7" cy="1086.0" r="8.0" fill="#ef443e"/>
<circle cx="1096.4" cy="1097.5" r="6.0" fill="#cccccc"/>
<circle cx="1096.4" cy="1120.4" r="7.2" fill="#e3aba4"/>
<circle cx="1096.4" cy="1108.9" r="11.5" fill="#ee413b"/>
<circle cx="1096.4" cy="1131.8" r="9.0" fill="#f07063"/>
<circle cx="983.6" cy="1143.2" r="6.0" fill="#cccccc"/>
<circle cx="983.6" cy="1166.1" r="6.5" fill="#dab8b4"/>
<circle cx="983.6" cy="1154.7" r="10.0" fill="#ef5149"/>
<circle cx="983.6" cy="1177.5" r="9.0" fill="#f07063"/>
<circle cx="1040.0" cy="1189.0" r="6.0" fill="#cccccc"/>
<circle cx="1040.0" cy="1211.9" r="5.5" fill="#dab8b4"/>
<circle cx="1040.0" cy="1200.4" r="6.0" fill="#cec9c9"/>
<circle cx="1040.0" cy="1223.3" r="6.0" fill="#cccccc"/>
<circle cx="927.1" cy="1234.7" r="6.0" fill="#cccccc"/>
<circle cx="927.1" cy="1257.6" r="6.5" fill="#deb2ac"/>
<circle cx="927.1" cy="1246.2" r="7.8" fill="#ee413b"/>
<circle cx="927.1" cy="1269.0" r="8.0" fill="#ef443e"/>
<circle cx="814.3" cy="1280.5" r="6.0" fill="#cccccc"/>
<circle cx="814.3" cy="1303.3" r="6.3" fill="#deb2ac"/>
<circle cx="814.3" cy="1291.9" r="9.4" fill="#ee3f3a"/>
<circle cx="814.3" cy="1314.8" r="7.0" fill="#f0574d"/>
<circle cx="870.7" cy="1326.2" r="6.0" fill="#cccccc"/>
<circle cx="870.7" cy="1349.1" r="6.5" fill="#ec9387"/>
<circle cx="870.7" cy="1337.7" r="8.8" fill="#ee3f3a"/>
<circle cx="870.7" cy="1360.5" r="6.7" fill="#ee8d80"/>
<circle cx="1096.4" cy="1372.0" r="6.0" fill="#cccccc"/>
<circle cx="1096.4" cy="1394.8" r="7.0" fill="#e5a59d"/>
<circle cx="1096.4" cy="1383.4" r="8.2" fill="#f07063"/>
<circle cx="1096.4" cy="1406.3" r="7.2" fill="#ec9387"/>
<circle cx="983.6" cy="1417.7" r="6.0" fill="#cccccc"/>
<circle cx="983.6" cy="1440.6" r="7.0" fill="#ef8679"/>
<circle cx="983.6" cy="1429.2" r="8.4" fill="#f0574d"/>
<circle cx="983.6" cy="1452.0" r="8.8" fill="#ef443e"/>
<circle cx="1040.0" cy="1463.5" r="6.0" fill="#cccccc"/>
<circle cx="1040.0" cy="1486.3" r="5.7" fill="#f0574d"/>
<circle cx="1040.0" cy="1474.9" r="5.5" fill="#ef443e"/>
<circle cx="1040.0" cy="1497.8" r="6.0" fill="#ef8679"/>
<circle cx="927.1" cy="1509.2" r="6.0" fill="#cccccc"/>
<circle cx="927.1" cy="1532.1" r="6.5" fill="#e3aba4"/>
<circle cx="927.1" cy="1520.7" r="6.8" fill="#ee8d80"/>
<circle cx="927.1" cy="1543.5" r="6.2" fill="#deb2ac"/>
<circle cx="814.3" cy="1555.0" r="6.0" fill="#cccccc"/>
<circle cx="814.3" cy="1577.8" r="6.0" fill="#dab8b4"/>
<circle cx="814.3" cy="1566.4" r="8.2" fill="#ef5149"/>
<circle cx="814.3" cy="1589.3" r="8.2" fill="#ef5149"/>
<circle cx="870.7" cy="1600.7" r="6.0" fill="#cccccc"/>
<circle cx="870.7" cy="1623.6" r="6.2" fill="#cccccc"/>
<circle cx="870.7" cy="1612.1" r="9.0" fill="#ee413b"/>
<circle cx="870.7" cy="1635.0" r="8.2" fill="#ef5149"/>
<circle cx="1096.4" cy="1646.5" r="6.0" fill="#cccccc"/>
<circle cx="1096.4" cy="1669.3" r="5.0" fill="#deb2ac"/>
<circle cx="1096.4" cy="1657.9" r="8.8" fill="#f0776a"/>
<circle cx="1096.4" cy="1680.8" r="7.4" fill="#e5a59d"/>
<circle cx="983.6" cy="1692.2" r="6.0" fill="#cccccc"/>
<circle cx="983.6" cy="1715.1" r="6.2" fill="#d5bfbc"/>
<circle cx="983.6" cy="1703.6" r="8.0" fill="#ef7f72"/>
<circle cx="983.6" cy="1726.5" r="8.4" fill="#f0776a"/>
<circle cx="1040.0" cy="1738.0" r="6.0" fill="#cccccc"/>
<circle cx="1040.0" cy="1760.8" r="4.3" fill="#f07063"/>
<circle cx="1040.0" cy="1749.4" r="3.3" fill="#f07063"/>
<circle cx="1040.0" cy="1772.3" r="6.8" fill="#deb2ac"/>
<circle cx="927.1" cy="1783.7" r="6.0" fill="#cccccc"/>
<circle cx="927.1" cy="1806.6" r="6.0" fill="#e3aba4"/>
<circle cx="927.1" cy="1795.1" r="7.6" fill="#ee413b"/>
<circle cx="927.1" cy="1818.0" r="9.4" fill="#ee3b37"/>
</g>
<rect x="786.2" y="724.8" width="363.0999999999999" height="1100.1000000000001" fill="none" stroke="#000" stroke-width="2.0"/>
<line x1="814.3" y1="1823.7" x2="814.3" y2="1825.9" stroke="#e5e5e4" stroke-width="1.6"/>
<line x1="870.7" y1="1823.7" x2="870.7" y2="1825.9" stroke="#e5e5e4" stroke-width="1.6"/>
<line x1="927.1" y1="1823.7" x2="927.1" y2="1825.9" stroke="#e5e5e4" stroke-width="1.6"/>
<line x1="983.6" y1="1823.7" x2="983.6" y2="1825.9" stroke="#e5e5e4" stroke-width="1.6"/>
<line x1="1040.0" y1="1823.7" x2="1040.0" y2="1825.9" stroke="#e5e5e4" stroke-width="1.6"/>
<line x1="1096.4" y1="1823.7" x2="1096.4" y2="1825.9" stroke="#e5e5e4" stroke-width="1.6"/>
<line x1="786.2" y1="994.8" x2="1235.1" y2="994.8" stroke="#231f20" stroke-width="1.9" stroke-linecap="round"/>
<line x1="786.2" y1="1267.1" x2="1235.1" y2="1267.1" stroke="#231f20" stroke-width="1.9" stroke-linecap="round"/>
<line x1="786.2" y1="1541.9" x2="1235.1" y2="1541.9" stroke="#231f20" stroke-width="1.9" stroke-linecap="round"/>
<line x1="1171.3" y1="726.8" x2="1171.3" y2="985.6" stroke="#231f20" stroke-width="1.9" stroke-linecap="round"/>
<line x1="1171.3" y1="1001.1" x2="1171.3" y2="1260.5" stroke="#231f20" stroke-width="1.9" stroke-linecap="round"/>
<line x1="1171.3" y1="1272.5" x2="1171.3" y2="1532.0" stroke="#231f20" stroke-width="1.9" stroke-linecap="round"/>
<line x1="1171.3" y1="1560.2" x2="1171.3" y2="1819.1" stroke="#231f20" stroke-width="1.9" stroke-linecap="round"/>
<rect x="764.2" y="729.3" width="14.8" height="7" fill="#a7a9ac" stroke="#231f20" stroke-width="1.5"/>
<rect x="764.2" y="740.7" width="14.8" height="7" fill="#f6a5a9" stroke="#231f20" stroke-width="1.5"/>
<rect x="764.2" y="752.1" width="14.8" height="7" fill="#231f20" stroke="#231f20" stroke-width="1.5"/>
<rect x="764.2" y="763.6" width="14.8" height="7" fill="#a01b21" stroke="#231f20" stroke-width="1.5"/>
<rect x="764.2" y="775.0" width="14.8" height="7" fill="#a7a9ac" stroke="#231f20" stroke-width="1.5"/>
<rect x="764.2" y="786.4" width="14.8" height="7" fill="#f6a5a9" stroke="#231f20" stroke-width="1.5"/>
<rect x="764.2" y="797.8" width="14.8" height="7" fill="#231f20" stroke="#231f20" stroke-width="1.5"/>
<rect x="764.2" y="809.3" width="14.8" height="7" fill="#a01b21" stroke="#231f20" stroke-width="1.5"/>
<rect x="764.2" y="820.7" width="14.8" height="7" fill="#a7a9ac" stroke="#231f20" stroke-width="1.5"/>
<rect x="764.2" y="832.1" width="14.8" height="7" fill="#f6a5a9" stroke="#231f20" stroke-width="1.5"/>
<rect x="764.2" y="843.5" width="14.8" height="7" fill="#231f20" stroke="#231f20" stroke-width="1.5"/>
<rect x="764.2" y="855.0" width="14.8" height="7" fill="#a01b21" stroke="#231f20" stroke-width="1.5"/>
<rect x="764.2" y="866.4" width="14.8" height="7" fill="#a7a9ac" stroke="#231f20" stroke-width="1.5"/>
<rect x="764.2" y="877.8" width="14.8" height="7" fill="#f6a5a9" stroke="#231f20" stroke-width="1.5"/>
<rect x="764.2" y="889.2" width="14.8" height="7" fill="#231f20" stroke="#231f20" stroke-width="1.5"/>
<rect x="764.2" y="900.6" width="14.8" height="7" fill="#a01b21" stroke="#231f20" stroke-width="1.5"/>
<rect x="764.2" y="912.1" width="14.8" height="7" fill="#a7a9ac" stroke="#231f20" stroke-width="1.5"/>
<rect x="764.2" y="923.5" width="14.8" height="7" fill="#f6a5a9" stroke="#231f20" stroke-width="1.5"/>
<rect x="764.2" y="934.9" width="14.8" height="7" fill="#231f20" stroke="#231f20" stroke-width="1.5"/>
<rect x="764.2" y="946.3" width="14.8" height="7" fill="#a01b21" stroke="#231f20" stroke-width="1.5"/>
<rect x="764.2" y="957.8" width="14.8" height="7" fill="#a7a9ac" stroke="#231f20" stroke-width="1.5"/>
<rect x="764.2" y="969.2" width="14.8" height="7" fill="#f6a5a9" stroke="#231f20" stroke-width="1.5"/>
<rect x="764.2" y="980.6" width="14.8" height="7" fill="#231f20" stroke="#231f20" stroke-width="1.5"/>
<rect x="764.2" y="992.0" width="14.8" height="7" fill="#a01b21" stroke="#231f20" stroke-width="1.5"/>
<rect x="764.2" y="1003.5" width="14.8" height="7" fill="#a7a9ac" stroke="#231f20" stroke-width="1.5"/>
<rect x="764.2" y="1014.9" width="14.8" height="7" fill="#f6a5a9" stroke="#231f20" stroke-width="1.5"/>
<rect x="764.2" y="1026.3" width="14.8" height="7" fill="#231f20" stroke="#231f20" stroke-width="1.5"/>
<rect x="764.2" y="1037.7" width="14.8" height="7" fill="#a01b21" stroke="#231f20" stroke-width="1.5"/>
<rect x="764.2" y="1049.1" width="14.8" height="7" fill="#a7a9ac" stroke="#231f20" stroke-width="1.5"/>
<rect x="764.2" y="1060.6" width="14.8" height="7" fill="#f6a5a9" stroke="#231f20" stroke-width="1.5"/>
<rect x="764.2" y="1072.0" width="14.8" height="7" fill="#231f20" stroke="#231f20" stroke-width="1.5"/>
<rect x="764.2" y="1083.4" width="14.8" height="7" fill="#a01b21" stroke="#231f20" stroke-width="1.5"/>
<rect x="764.2" y="1094.8" width="14.8" height="7" fill="#a7a9ac" stroke="#231f20" stroke-width="1.5"/>
<rect x="764.2" y="1106.3" width="14.8" height="7" fill="#f6a5a9" stroke="#231f20" stroke-width="1.5"/>
<rect x="764.2" y="1117.7" width="14.8" height="7" fill="#231f20" stroke="#231f20" stroke-width="1.5"/>
<rect x="764.2" y="1129.1" width="14.8" height="7" fill="#a01b21" stroke="#231f20" stroke-width="1.5"/>
<rect x="764.2" y="1140.5" width="14.8" height="7" fill="#a7a9ac" stroke="#231f20" stroke-width="1.5"/>
<rect x="764.2" y="1152.0" width="14.8" height="7" fill="#f6a5a9" stroke="#231f20" stroke-width="1.5"/>
<rect x="764.2" y="1163.4" width="14.8" height="7" fill="#231f20" stroke="#231f20" stroke-width="1.5"/>
<rect x="764.2" y="1174.8" width="14.8" height="7" fill="#a01b21" stroke="#231f20" stroke-width="1.5"/>
<rect x="764.2" y="1186.2" width="14.8" height="7" fill="#a7a9ac" stroke="#231f20" stroke-width="1.5"/>
<rect x="764.2" y="1197.6" width="14.8" height="7" fill="#f6a5a9" stroke="#231f20" stroke-width="1.5"/>
<rect x="764.2" y="1209.1" width="14.8" height="7" fill="#231f20" stroke="#231f20" stroke-width="1.5"/>
<rect x="764.2" y="1220.5" width="14.8" height="7" fill="#a01b21" stroke="#231f20" stroke-width="1.5"/>
<rect x="764.2" y="1231.9" width="14.8" height="7" fill="#a7a9ac" stroke="#231f20" stroke-width="1.5"/>
<rect x="764.2" y="1243.3" width="14.8" height="7" fill="#f6a5a9" stroke="#231f20" stroke-width="1.5"/>
<rect x="764.2" y="1254.8" width="14.8" height="7" fill="#231f20" stroke="#231f20" stroke-width="1.5"/>
<rect x="764.2" y="1266.2" width="14.8" height="7" fill="#a01b21" stroke="#231f20" stroke-width="1.5"/>
<rect x="764.2" y="1277.6" width="14.8" height="7" fill="#a7a9ac" stroke="#231f20" stroke-width="1.5"/>
<rect x="764.2" y="1289.0" width="14.8" height="7" fill="#f6a5a9" stroke="#231f20" stroke-width="1.5"/>
<rect x="764.2" y="1300.4" width="14.8" height="7" fill="#231f20" stroke="#231f20" stroke-width="1.5"/>
<rect x="764.2" y="1311.9" width="14.8" height="7" fill="#a01b21" stroke="#231f20" stroke-width="1.5"/>
<rect x="764.2" y="1323.3" width="14.8" height="7" fill="#a7a9ac" stroke="#231f20" stroke-width="1.5"/>
<rect x="764.2" y="1334.7" width="14.8" height="7" fill="#f6a5a9" stroke="#231f20" stroke-width="1.5"/>
<rect x="764.2" y="1346.1" width="14.8" height="7" fill="#231f20" stroke="#231f20" stroke-width="1.5"/>
<rect x="764.2" y="1357.6" width="14.8" height="7" fill="#a01b21" stroke="#231f20" stroke-width="1.5"/>
<rect x="764.2" y="1369.0" width="14.8" height="7" fill="#a7a9ac" stroke="#231f20" stroke-width="1.5"/>
<rect x="764.2" y="1380.4" width="14.8" height="7" fill="#f6a5a9" stroke="#231f20" stroke-width="1.5"/>
<rect x="764.2" y="1391.8" width="14.8" height="7" fill="#231f20" stroke="#231f20" stroke-width="1.5"/>
<rect x="764.2" y="1403.3" width="14.8" height="7" fill="#a01b21" stroke="#231f20" stroke-width="1.5"/>
<rect x="764.2" y="1414.7" width="14.8" height="7" fill="#a7a9ac" stroke="#231f20" stroke-width="1.5"/>
<rect x="764.2" y="1426.1" width="14.8" height="7" fill="#f6a5a9" stroke="#231f20" stroke-width="1.5"/>
<rect x="764.2" y="1437.5" width="14.8" height="7" fill="#231f20" stroke="#231f20" stroke-width="1.5"/>
<rect x="764.2" y="1448.9" width="14.8" height="7" fill="#a01b21" stroke="#231f20" stroke-width="1.5"/>
<rect x="764.2" y="1460.4" width="14.8" height="7" fill="#a7a9ac" stroke="#231f20" stroke-width="1.5"/>
<rect x="764.2" y="1471.8" width="14.8" height="7" fill="#f6a5a9" stroke="#231f20" stroke-width="1.5"/>
<rect x="764.2" y="1483.2" width="14.8" height="7" fill="#231f20" stroke="#231f20" stroke-width="1.5"/>
<rect x="764.2" y="1494.6" width="14.8" height="7" fill="#a01b21" stroke="#231f20" stroke-width="1.5"/>
<rect x="764.2" y="1506.1" width="14.8" height="7" fill="#a7a9ac" stroke="#231f20" stroke-width="1.5"/>
<rect x="764.2" y="1517.5" width="14.8" height="7" fill="#f6a5a9" stroke="#231f20" stroke-width="1.5"/>
<rect x="764.2" y="1528.9" width="14.8" height="7" fill="#231f20" stroke="#231f20" stroke-width="1.5"/>
<rect x="764.2" y="1540.3" width="14.8" height="7" fill="#a01b21" stroke="#231f20" stroke-width="1.5"/>
<rect x="764.2" y="1551.8" width="14.8" height="7" fill="#a7a9ac" stroke="#231f20" stroke-width="1.5"/>
<rect x="764.2" y="1563.2" width="14.8" height="7" fill="#f6a5a9" stroke="#231f20" stroke-width="1.5"/>
<rect x="764.2" y="1574.6" width="14.8" height="7" fill="#231f20" stroke="#231f20" stroke-width="1.5"/>
<rect x="764.2" y="1586.0" width="14.8" height="7" fill="#a01b21" stroke="#231f20" stroke-width="1.5"/>
<rect x="764.2" y="1597.4" width="14.8" height="7" fill="#a7a9ac" stroke="#231f20" stroke-width="1.5"/>
<rect x="764.2" y="1608.9" width="14.8" height="7" fill="#f6a5a9" stroke="#231f20" stroke-width="1.5"/>
<rect x="764.2" y="1620.3" width="14.8" height="7" fill="#231f20" stroke="#231f20" stroke-width="1.5"/>
<rect x="764.2" y="1631.7" width="14.8" height="7" fill="#a01b21" stroke="#231f20" stroke-width="1.5"/>
<rect x="764.2" y="1643.1" width="14.8" height="7" fill="#a7a9ac" stroke="#231f20" stroke-width="1.5"/>
<rect x="764.2" y="1654.6" width="14.8" height="7" fill="#f6a5a9" stroke="#231f20" stroke-width="1.5"/>
<rect x="764.2" y="1666.0" width="14.8" height="7" fill="#231f20" stroke="#231f20" stroke-width="1.5"/>
<rect x="764.2" y="1677.4" width="14.8" height="7" fill="#a01b21" stroke="#231f20" stroke-width="1.5"/>
<rect x="764.2" y="1688.8" width="14.8" height="7" fill="#a7a9ac" stroke="#231f20" stroke-width="1.5"/>
<rect x="764.2" y="1700.3" width="14.8" height="7" fill="#f6a5a9" stroke="#231f20" stroke-width="1.5"/>
<rect x="764.2" y="1711.7" width="14.8" height="7" fill="#231f20" stroke="#231f20" stroke-width="1.5"/>
<rect x="764.2" y="1723.1" width="14.8" height="7" fill="#a01b21" stroke="#231f20" stroke-width="1.5"/>
<rect x="764.2" y="1734.5" width="14.8" height="7" fill="#a7a9ac" stroke="#231f20" stroke-width="1.5"/>
<rect x="764.2" y="1745.9" width="14.8" height="7" fill="#f6a5a9" stroke="#231f20" stroke-width="1.5"/>
<rect x="764.2" y="1757.4" width="14.8" height="7" fill="#231f20" stroke="#231f20" stroke-width="1.5"/>
<rect x="764.2" y="1768.8" width="14.8" height="7" fill="#a01b21" stroke="#231f20" stroke-width="1.5"/>
<rect x="764.2" y="1780.2" width="14.8" height="7" fill="#a7a9ac" stroke="#231f20" stroke-width="1.5"/>
<rect x="764.2" y="1791.6" width="14.8" height="7" fill="#f6a5a9" stroke="#231f20" stroke-width="1.5"/>
<rect x="764.2" y="1803.1" width="14.8" height="7" fill="#231f20" stroke="#231f20" stroke-width="1.5"/>
<rect x="764.2" y="1814.5" width="14.8" height="7" fill="#a01b21" stroke="#231f20" stroke-width="1.5"/>
<text x="646" y="649.8" font-size="55">d</text>
<text x="843.7" y="689.1" font-size="36.9" fill="#231f20">CD86 Expression</text>
<text transform="translate(828.1,1833.2) rotate(-90) scale(0.96,1)" font-size="31" text-anchor="end" fill="#231f20">DC1</text>
<text transform="translate(884.5,1833.2) rotate(-90) scale(0.96,1)" font-size="31" text-anchor="end" fill="#231f20">DC2</text>
<text transform="translate(940.9,1833.2) rotate(-90) scale(0.96,1)" font-size="31" text-anchor="end" fill="#231f20">Macrophages</text>
<text transform="translate(997.4,1833.2) rotate(-90) scale(0.96,1)" font-size="31" text-anchor="end" fill="#231f20">Monocytes</text>
<text transform="translate(1053.8,1833.2) rotate(-90) scale(0.96,1)" font-size="31" text-anchor="end" fill="#231f20">Neutrophils</text>
<text transform="translate(1110.2,1833.2) rotate(-90) scale(0.96,1)" font-size="31" text-anchor="end" fill="#231f20">pDC</text>
<g transform="translate(734.0,0.0)">
<polygon points="512.8,822.1 518.0,827.3 524.9,832.1 530.6,838.4 532.2,846.8 537.5,854.6 534.8,862.5 536.9,870.4 533.8,879.9 529.1,887.7 520.7,891.9 511.7,894.0 502.3,891.9 496.0,895.1 489.7,890.9 487.6,883.5 479.7,878.3 478.1,869.3 470.2,865.1 469.7,858.8 475.0,852.0 474.4,842.6 478.1,837.3 486.5,834.7 488.6,828.9 497.0,827.3 503.8,825.8 507.5,823.7" fill="#7d8387" stroke="#7d8387" stroke-width="1" stroke-linejoin="round"/>
<circle cx="512.8" cy="822.1" r="1.4" fill="#7d8387"/>
<circle cx="518.0" cy="827.3" r="1.7" fill="#7d8387"/>
<circle cx="524.9" cy="832.1" r="1.6" fill="#7d8387"/>
<circle cx="530.6" cy="838.4" r="1.8" fill="#7d8387"/>
<circle cx="532.2" cy="846.8" r="1.8" fill="#7d8387"/>
<circle cx="537.5" cy="854.6" r="1.3" fill="#7d8387"/>
<circle cx="534.8" cy="862.5" r="1.2" fill="#7d8387"/>
<circle cx="536.9" cy="870.4" r="2.0" fill="#7d8387"/>
<circle cx="533.8" cy="879.9" r="1.5" fill="#7d8387"/>
<circle cx="529.1" cy="887.7" r="1.4" fill="#7d8387"/>
<circle cx="520.7" cy="891.9" r="2.2" fill="#7d8387"/>
<circle cx="511.7" cy="894.0" r="1.7" fill="#7d8387"/>
<circle cx="502.3" cy="891.9" r="2.0" fill="#7d8387"/>
<circle cx="496.0" cy="895.1" r="1.7" fill="#7d8387"/>
<circle cx="489.7" cy="890.9" r="1.8" fill="#7d8387"/>
<circle cx="487.6" cy="883.5" r="1.4" fill="#7d8387"/>
<circle cx="479.7" cy="878.3" r="1.8" fill="#7d8387"/>
<circle cx="478.1" cy="869.3" r="2.1" fill="#7d8387"/>
<circle cx="470.2" cy="865.1" r="1.7" fill="#7d8387"/>
<circle cx="469.7" cy="858.8" r="1.9" fill="#7d8387"/>
<circle cx="475.0" cy="852.0" r="1.9" fill="#7d8387"/>
<circle cx="474.4" cy="842.6" r="1.3" fill="#7d8387"/>
<circle cx="478.1" cy="837.3" r="2.0" fill="#7d8387"/>
<circle cx="486.5" cy="834.7" r="1.8" fill="#7d8387"/>
<circle cx="488.6" cy="828.9" r="1.5" fill="#7d8387"/>
<circle cx="497.0" cy="827.3" r="1.2" fill="#7d8387"/>
<circle cx="503.8" cy="825.8" r="2.1" fill="#7d8387"/>
<circle cx="507.5" cy="823.7" r="1.7" fill="#7d8387"/>
<circle cx="499.4" cy="847.0" r="7.4" fill="#868c90" fill-opacity="0.6" stroke="#6a7175" stroke-opacity="0.45" stroke-width="0.9"/>
<circle cx="516.4" cy="847.0" r="7.4" fill="#868c90" fill-opacity="0.6" stroke="#6a7175" stroke-opacity="0.45" stroke-width="0.9"/>
<circle cx="507.5" cy="860.2" r="7.4" fill="#868c90" fill-opacity="0.6" stroke="#6a7175" stroke-opacity="0.45" stroke-width="0.9"/>
<circle cx="517.8" cy="863.0" r="7.4" fill="#868c90" fill-opacity="0.6" stroke="#6a7175" stroke-opacity="0.45" stroke-width="0.9"/>
<circle cx="488.6" cy="863.6" r="7.4" fill="#868c90" fill-opacity="0.6" stroke="#6a7175" stroke-opacity="0.45" stroke-width="0.9"/>
<circle cx="503.6" cy="873.0" r="7.4" fill="#868c90" fill-opacity="0.6" stroke="#6a7175" stroke-opacity="0.45" stroke-width="0.9"/>
<circle cx="516.4" cy="877.2" r="7.4" fill="#868c90" fill-opacity="0.6" stroke="#6a7175" stroke-opacity="0.45" stroke-width="0.9"/>
<circle cx="481.3" cy="844.4" r="7.4" fill="#868c90" fill-opacity="0.6" stroke="#6a7175" stroke-opacity="0.45" stroke-width="0.9"/>
<circle cx="477.6" cy="861.2" r="7.4" fill="#868c90" fill-opacity="0.6" stroke="#6a7175" stroke-opacity="0.45" stroke-width="0.9"/>
<circle cx="487.0" cy="875.1" r="7.4" fill="#868c90" fill-opacity="0.6" stroke="#6a7175" stroke-opacity="0.45" stroke-width="0.9"/>
<circle cx="496.5" cy="885.6" r="7.4" fill="#868c90" fill-opacity="0.6" stroke="#6a7175" stroke-opacity="0.45" stroke-width="0.9"/>
<circle cx="508.0" cy="885.6" r="7.4" fill="#868c90" fill-opacity="0.6" stroke="#6a7175" stroke-opacity="0.45" stroke-width="0.9"/>
<circle cx="522.8" cy="884.6" r="7.4" fill="#868c90" fill-opacity="0.6" stroke="#6a7175" stroke-opacity="0.45" stroke-width="0.9"/>
<circle cx="528.5" cy="870.9" r="7.4" fill="#868c90" fill-opacity="0.6" stroke="#6a7175" stroke-opacity="0.45" stroke-width="0.9"/>
<circle cx="527.5" cy="856.2" r="7.4" fill="#868c90" fill-opacity="0.6" stroke="#6a7175" stroke-opacity="0.45" stroke-width="0.9"/>
<circle cx="520.1" cy="837.8" r="7.4" fill="#868c90" fill-opacity="0.6" stroke="#6a7175" stroke-opacity="0.45" stroke-width="0.9"/>
<circle cx="510.7" cy="832.1" r="7.4" fill="#868c90" fill-opacity="0.6" stroke="#6a7175" stroke-opacity="0.45" stroke-width="0.9"/>
<circle cx="490.7" cy="836.3" r="7.4" fill="#868c90" fill-opacity="0.6" stroke="#6a7175" stroke-opacity="0.45" stroke-width="0.9"/>
<circle cx="499.6" cy="838.4" r="7.4" fill="#868c90" fill-opacity="0.6" stroke="#6a7175" stroke-opacity="0.45" stroke-width="0.9"/>
<circle cx="499.4" cy="847.0" r="4.1" fill="#323c40"/>
<circle cx="516.4" cy="847.0" r="4.1" fill="#323c40"/>
<circle cx="507.5" cy="860.2" r="4.1" fill="#323c40"/>
<circle cx="517.8" cy="863.0" r="4.1" fill="#323c40"/>
<circle cx="488.6" cy="863.6" r="4.1" fill="#323c40"/>
<circle cx="503.6" cy="873.0" r="4.1" fill="#323c40"/>
<circle cx="516.4" cy="877.2" r="4.1" fill="#474f53"/>
<circle cx="481.3" cy="844.4" r="4.1" fill="#5b6367"/>
<circle cx="477.6" cy="861.2" r="4.1" fill="#5b6367"/>
<circle cx="487.0" cy="875.1" r="4.1" fill="#5b6367"/>
<circle cx="496.5" cy="885.6" r="4.1" fill="#5b6367"/>
<circle cx="508.0" cy="885.6" r="4.1" fill="#5b6367"/>
<circle cx="522.8" cy="884.6" r="4.1" fill="#5b6367"/>
<circle cx="528.5" cy="870.9" r="4.1" fill="#5b6367"/>
<circle cx="527.5" cy="856.2" r="4.1" fill="#5b6367"/>
<circle cx="520.1" cy="837.8" r="4.1" fill="#5b6367"/>
<circle cx="510.7" cy="832.1" r="4.1" fill="#5b6367"/>
<circle cx="490.7" cy="836.3" r="4.1" fill="#5b6367"/>
<circle cx="499.6" cy="838.4" r="4.1" fill="#5b6367"/>
</g>
<path d="M1237.3,1090.8 C1243.1,1091.0 1247.3,1094.7 1247.8,1101.0 C1248.6,1109.4 1245.2,1117.8 1243.4,1124.6 C1241.5,1132.5 1243.6,1140.4 1246.2,1148.3 C1248.3,1154.6 1248.9,1161.9 1246.8,1167.2 C1245.2,1170.3 1240.5,1169.8 1236.3,1166.7 C1228.9,1159.8 1224.7,1149.3 1222.9,1137.8 C1221.0,1127.3 1221.6,1114.1 1224.7,1103.6 C1227.3,1095.8 1232.1,1091.0 1237.3,1090.8 Z" fill="#8f4a50" stroke="#7b2d36" stroke-width="1"/>
<path d="M1241.5,1093.7 C1246.2,1095.8 1247.3,1101.0 1246.8,1107.3 C1244.7,1116.8 1241.5,1123.1 1240.7,1129.9 C1241.0,1140.4 1244.7,1150.9 1246.2,1158.8 C1246.8,1163.0 1246.2,1166.1 1244.7,1167.7 C1241.5,1158.8 1236.3,1145.7 1235.2,1132.5 C1234.7,1119.4 1237.8,1106.3 1241.5,1093.7 Z" fill="#853a42"/>
<path d="M1218.9,1387.6 C1220.2,1387.3 1222.7,1389.2 1223.1,1390.8 C1223.6,1392.3 1221.3,1395.1 1221.6,1397.1 C1221.8,1399.0 1223.1,1400.8 1224.7,1402.3 C1226.3,1403.8 1228.7,1405.3 1231.0,1406.0 C1233.4,1406.7 1237.1,1406.1 1238.9,1406.5 C1240.6,1407.0 1240.2,1408.9 1241.5,1408.6 C1242.8,1408.4 1244.6,1405.7 1246.8,1404.9 C1249.0,1404.1 1252.5,1404.8 1254.7,1403.9 C1256.8,1403.0 1258.2,1400.6 1259.9,1399.7 C1261.7,1398.8 1263.8,1397.9 1265.2,1398.6 C1266.6,1399.3 1268.0,1401.3 1268.3,1403.9 C1268.7,1406.5 1267.5,1410.9 1267.3,1414.4 C1267.0,1417.9 1266.7,1421.4 1266.7,1424.9 C1266.7,1428.4 1267.1,1432.3 1267.3,1435.4 C1267.4,1438.5 1268.1,1440.7 1267.8,1443.3 C1267.4,1445.9 1266.9,1449.0 1265.2,1451.2 C1263.4,1453.3 1259.9,1455.4 1257.3,1456.4 C1254.7,1457.5 1252.0,1457.4 1249.4,1457.5 C1246.8,1457.5 1244.1,1456.7 1241.5,1456.9 C1238.9,1457.2 1236.3,1458.9 1233.6,1459.0 C1231.0,1459.1 1228.0,1458.8 1225.8,1457.5 C1223.6,1456.1 1221.7,1453.5 1220.5,1451.2 C1219.3,1448.8 1219.5,1445.5 1218.4,1443.3 C1217.4,1441.1 1215.4,1440.0 1214.2,1438.0 C1213.0,1436.1 1211.9,1434.3 1211.1,1431.7 C1210.2,1429.1 1209.2,1425.6 1209.0,1422.3 C1208.7,1418.9 1209.6,1414.8 1209.5,1411.8 C1209.4,1408.7 1208.2,1406.1 1208.4,1403.9 C1208.7,1401.7 1210.0,1399.6 1211.1,1398.6 C1212.1,1397.7 1214.0,1399.2 1214.7,1398.1 C1215.4,1397.1 1214.6,1394.1 1215.3,1392.3 C1216.0,1390.6 1217.6,1387.9 1218.9,1387.6 Z" fill="#f9c9c7" stroke="#eba6a8" stroke-width="0.9"/>
<ellipse cx="1216.3" cy="1407.6" rx="7.9" ry="3.3" transform="rotate(50 1216.3 1407.6)" fill="#fbd0ce" stroke="#eaa7a9" stroke-width="0.7"/>
<ellipse cx="1223.7" cy="1415.4" rx="8.9" ry="3.5" transform="rotate(45 1223.7 1415.4)" fill="#fbd0ce" stroke="#eaa7a9" stroke-width="0.7"/>
<ellipse cx="1216.3" cy="1425.4" rx="7.9" ry="3.3" transform="rotate(60 1216.3 1425.4)" fill="#fbd0ce" stroke="#eaa7a9" stroke-width="0.7"/>
<ellipse cx="1249.4" cy="1411.2" rx="7.4" ry="3.9" transform="rotate(-30 1249.4 1411.2)" fill="#fbd0ce" stroke="#eaa7a9" stroke-width="0.7"/>
<ellipse cx="1259.9" cy="1408.1" rx="6.8" ry="3.3" transform="rotate(-50 1259.9 1408.1)" fill="#fbd0ce" stroke="#eaa7a9" stroke-width="0.7"/>
<ellipse cx="1263.1" cy="1418.6" rx="4.5" ry="8.4" transform="rotate(0 1263.1 1418.6)" fill="#fbd0ce" stroke="#eaa7a9" stroke-width="0.7"/>
<ellipse cx="1260.4" cy="1430.7" rx="6.8" ry="3.7" transform="rotate(40 1260.4 1430.7)" fill="#fbd0ce" stroke="#eaa7a9" stroke-width="0.7"/>
<ellipse cx="1260.4" cy="1443.8" rx="7.4" ry="3.7" transform="rotate(-30 1260.4 1443.8)" fill="#fbd0ce" stroke="#eaa7a9" stroke-width="0.7"/>
<ellipse cx="1249.9" cy="1428.0" rx="6.8" ry="3.3" transform="rotate(45 1249.9 1428.0)" fill="#fbd0ce" stroke="#eaa7a9" stroke-width="0.7"/>
<ellipse cx="1242.0" cy="1435.9" rx="8.4" ry="2.9" transform="rotate(50 1242.0 1435.9)" fill="#fbd0ce" stroke="#eaa7a9" stroke-width="0.7"/>
<ellipse cx="1232.6" cy="1441.2" rx="8.9" ry="2.9" transform="rotate(50 1232.6 1441.2)" fill="#fbd0ce" stroke="#eaa7a9" stroke-width="0.7"/>
<ellipse cx="1225.8" cy="1449.1" rx="8.4" ry="3.2" transform="rotate(40 1225.8 1449.1)" fill="#fbd0ce" stroke="#eaa7a9" stroke-width="0.7"/>
<ellipse cx="1218.4" cy="1438.0" rx="6.8" ry="3.2" transform="rotate(50 1218.4 1438.0)" fill="#fbd0ce" stroke="#eaa7a9" stroke-width="0.7"/>
<ellipse cx="1236.3" cy="1453.3" rx="7.9" ry="3.0" transform="rotate(-10 1236.3 1453.3)" fill="#fbd0ce" stroke="#eaa7a9" stroke-width="0.7"/>
<ellipse cx="1249.9" cy="1451.7" rx="7.9" ry="3.3" transform="rotate(-20 1249.9 1451.7)" fill="#fbd0ce" stroke="#eaa7a9" stroke-width="0.7"/>
<ellipse cx="1252.6" cy="1441.2" rx="6.3" ry="3.2" transform="rotate(30 1252.6 1441.2)" fill="#fbd0ce" stroke="#eaa7a9" stroke-width="0.7"/>
<ellipse cx="1242.0" cy="1420.2" rx="7.9" ry="3.7" transform="rotate(-30 1242.0 1420.2)" fill="#fbd0ce" stroke="#eaa7a9" stroke-width="0.7"/>
<ellipse cx="1236.3" cy="1412.3" rx="7.4" ry="3.7" transform="rotate(20 1236.3 1412.3)" fill="#fbd0ce" stroke="#eaa7a9" stroke-width="0.7"/>
<ellipse cx="1229.4" cy="1424.4" rx="7.9" ry="4.2" transform="rotate(-20 1229.4 1424.4)" fill="#fbd0ce" stroke="#eaa7a9" stroke-width="0.7"/>
<path d="M1230.0,1649.7 L1230.0,1638.1" stroke="#9cc98c" stroke-width="2" stroke-linecap="round" fill="none"/>
<path d="M1212.6,1657.6 L1204.8,1652.8" stroke="#9cc98c" stroke-width="2" stroke-linecap="round" fill="none"/>
<path d="M1209.5,1670.7 L1203.2,1669.1" stroke="#9cc98c" stroke-width="2" stroke-linecap="round" fill="none"/>
<path d="M1211.6,1685.4 L1200.6,1689.1" stroke="#9cc98c" stroke-width="2" stroke-linecap="round" fill="none"/>
<path d="M1217.9,1699.6 L1213.2,1706.4" stroke="#9cc98c" stroke-width="2" stroke-linecap="round" fill="none"/>
<path d="M1232.6,1701.2 L1235.7,1711.1" stroke="#9cc98c" stroke-width="2" stroke-linecap="round" fill="none"/>
<path d="M1232.1,1676.2 L1261.5,1675.5" stroke="#a9d9a0" stroke-width="4.2" stroke-linecap="butt" fill="none"/>
<path d="M1236.3,1679.1 C1244.1,1677.5 1252.0,1680.7 1259.4,1683.0" stroke="#8a2a4a" stroke-width="1" fill="none"/>
<path d="M1236.3,1679.9 C1244.1,1679.1 1249.4,1679.4 1257.3,1679.9" stroke="#5a6ab8" stroke-width="1" fill="none"/>
<path d="M1228.9,1649.2 C1236.3,1649.7 1242.0,1654.4 1243.4,1661.8 C1244.1,1667.0 1242.6,1671.2 1239.4,1673.8 C1236.3,1676.5 1236.3,1679.1 1239.4,1681.7 C1243.1,1685.4 1243.1,1692.2 1239.4,1697.5 C1235.2,1702.2 1226.8,1703.8 1221.6,1701.2 C1213.7,1696.4 1209.5,1685.4 1209.2,1673.3 C1209.2,1661.8 1216.3,1649.7 1228.9,1649.2 Z" fill="#b4dca2" stroke="#79b05a" stroke-width="2"/>
<path d="M1228.5,1653.9 C1234.5,1654.4 1239.3,1658.2 1240.3,1664.3 C1241.0,1668.6 1239.7,1672.0 1237.1,1674.2 C1234.5,1676.3 1234.5,1678.5 1237.1,1680.6 C1240.1,1683.7 1240.1,1689.2 1237.1,1693.6 C1233.7,1697.4 1226.8,1698.7 1222.5,1696.6 C1216.0,1692.7 1212.6,1683.7 1212.3,1673.7 C1212.3,1664.3 1218.2,1654.4 1228.5,1653.9 Z" fill="#a58bc6"/>
<path d="M1232.6,1676.2 L1223.7,1653.9" stroke="#b4dca2" stroke-width="1.5" fill="none"/>
<path d="M1232.6,1676.2 L1233.1,1652.8" stroke="#b4dca2" stroke-width="1.5" fill="none"/>
<path d="M1232.6,1676.2 L1212.6,1664.9" stroke="#b4dca2" stroke-width="1.5" fill="none"/>
<path d="M1232.6,1676.2 L1210.3,1677.0" stroke="#b4dca2" stroke-width="1.5" fill="none"/>
<path d="M1232.6,1676.2 L1214.7,1689.6" stroke="#b4dca2" stroke-width="1.5" fill="none"/>
<path d="M1232.6,1676.2 L1226.8,1699.1" stroke="#b4dca2" stroke-width="1.5" fill="none"/>
<path d="M1232.6,1676.2 L1236.3,1696.4" stroke="#b4dca2" stroke-width="1.5" fill="none"/>
<path d="M1232.6,1676.2 L1241.5,1664.9" stroke="#b4dca2" stroke-width="1.5" fill="none"/>
<circle cx="1220.0" cy="1660.2" r="1.6" fill="#f4a8c8"/>
<circle cx="1227.9" cy="1655.5" r="1.6" fill="#f4a8c8"/>
<circle cx="1237.3" cy="1658.6" r="1.6" fill="#f4a8c8"/>
<circle cx="1216.3" cy="1671.2" r="1.6" fill="#f4a8c8"/>
<circle cx="1217.4" cy="1682.2" r="1.6" fill="#f4a8c8"/>
<circle cx="1222.1" cy="1691.2" r="1.6" fill="#f4a8c8"/>
<circle cx="1231.0" cy="1693.3" r="1.6" fill="#f4a8c8"/>
<circle cx="1238.4" cy="1687.5" r="1.6" fill="#f4a8c8"/>
<path d="M1227.9,1672.3 L1236.3,1671.2 L1241.5,1676.2 L1235.2,1680.7 L1230.0,1682.8 Z" fill="#a9d9a0"/>
<text x="1294.5" y="871.5" font-size="33.3">B16-F10</text>
<text x="1294.5" y="1138.2" font-size="33.3">Spleen</text>
<text x="1294.5" y="1411.5" font-size="33.3">Small</text>
<text x="1294.5" y="1451.2" font-size="33.3">intestine</text>
<text x="1294.5" y="1663.5" font-size="33.3">Draining</text>
<text x="1294.5" y="1702.6" font-size="33.3">lymph node</text>
<circle cx="1181.4" cy="1852.7" r="6.1" fill="#000"/>
<circle cx="1181.4" cy="1887.5" r="8.6" fill="#000"/>
<circle cx="1181.4" cy="1925.4" r="10.7" fill="#000"/>
<text x="1213.0" y="1860.7" font-size="24.5" fill="#231f20">1</text>
<text x="1213.0" y="1898.0" font-size="24.5" fill="#231f20">2</text>
<text x="1213.0" y="1934.0" font-size="24.5" fill="#231f20">3</text>
<text transform="translate(1268.3,1907.5) rotate(-90) scale(0.963,1)" font-size="27" text-anchor="middle" fill="#231f20">FC (gMFI)</text>
<defs><linearGradient id="gd" x1="0" y1="0" x2="0" y2="1"><stop offset="0" stop-color="#cacaca"/><stop offset="0.25" stop-color="#dfaca5"/><stop offset="0.5" stop-color="#ec8d80"/><stop offset="0.75" stop-color="#f1695c"/><stop offset="1" stop-color="#ee3b37"/></linearGradient></defs>
<rect x="1303.4" y="1844.1" width="29.3" height="140.5" fill="url(#gd)"/>
<line x1="1303.4" y1="1845.1" x2="1308.9" y2="1845.1" stroke="#fff" stroke-width="1.2"/>
<line x1="1327.2" y1="1845.1" x2="1332.7" y2="1845.1" stroke="#fff" stroke-width="1.2"/>
<line x1="1303.4" y1="1879.7" x2="1308.9" y2="1879.7" stroke="#fff" stroke-width="1.2"/>
<line x1="1327.2" y1="1879.7" x2="1332.7" y2="1879.7" stroke="#fff" stroke-width="1.2"/>
<line x1="1303.4" y1="1914.3" x2="1308.9" y2="1914.3" stroke="#fff" stroke-width="1.2"/>
<line x1="1327.2" y1="1914.3" x2="1332.7" y2="1914.3" stroke="#fff" stroke-width="1.2"/>
<line x1="1303.4" y1="1949.0" x2="1308.9" y2="1949.0" stroke="#fff" stroke-width="1.2"/>
<line x1="1327.2" y1="1949.0" x2="1332.7" y2="1949.0" stroke="#fff" stroke-width="1.2"/>
<line x1="1303.4" y1="1983.6" x2="1308.9" y2="1983.6" stroke="#fff" stroke-width="1.2"/>
<line x1="1327.2" y1="1983.6" x2="1332.7" y2="1983.6" stroke="#fff" stroke-width="1.2"/>
<text x="1341.4" y="1848.6" font-size="20" fill="#231f20">1.00</text>
<text x="1341.4" y="1883.6" font-size="20" fill="#231f20">0.75</text>
<text x="1341.4" y="1918.7" font-size="20" fill="#231f20">0.50</text>
<text x="1341.4" y="1953.8" font-size="20" fill="#231f20">0.25</text>
<text x="1341.4" y="1988.8" font-size="20" fill="#231f20">0.00</text>
<text transform="translate(1417.9,1914.5) rotate(-90)" font-size="25" text-anchor="middle" fill="#231f20"><tspan font-style="italic">P</tspan>-value</text>
<rect x="788.3" y="2038.5" width="37.7" height="18.3" fill="#a7a9ac" stroke="#4a4a4a" stroke-width="1"/>
<rect x="788.3" y="2080.8" width="37.7" height="18.3" fill="#f6a0a2" stroke="#4a4a4a" stroke-width="1"/>
<rect x="1000.0" y="2038.5" width="37.7" height="18.3" fill="#231f20" stroke="#4a4a4a" stroke-width="1"/>
<rect x="1000.0" y="2080.8" width="37.7" height="18.3" fill="#9e1c22" stroke="#4a4a4a" stroke-width="1"/>
<text x="840.1" y="2056.5" font-size="27.7" fill="#231f20">Control</text>
<text x="840.1" y="2096.0" font-size="27.7" fill="#231f20">IMQ oral</text>
<text x="1063.5" y="2056.5" font-size="27.7" fill="#231f20">IFN-<tspan font-family="'Liberation Serif','DejaVu Serif',serif" font-size="31">α</tspan></text>
<text x="1063.5" y="2096" font-size="27.7" fill="#231f20">IFN-<tspan font-family="'Liberation Serif','DejaVu Serif',serif" font-size="31">α</tspan> + IMQ topical</text>
<rect x="1498.9" y="726" width="357.29999999999995" height="1098.4" fill="#fffef3"/>
<line x1="1499.9" y1="733.1" x2="1855.6" y2="733.1" stroke="#e6e5df" stroke-width="1.8"/>
<line x1="1499.9" y1="744.5" x2="1855.6" y2="744.5" stroke="#e6e5df" stroke-width="1.8"/>
<line x1="1499.9" y1="755.9" x2="1855.6" y2="755.9" stroke="#e6e5df" stroke-width="1.8"/>
<line x1="1499.9" y1="767.4" x2="1855.6" y2="767.4" stroke="#e6e5df" stroke-width="1.8"/>
<line x1="1499.9" y1="778.8" x2="1855.6" y2="778.8" stroke="#e6e5df" stroke-width="1.8"/>
<line x1="1499.9" y1="790.2" x2="1855.6" y2="790.2" stroke="#e6e5df" stroke-width="1.8"/>
<line x1="1499.9" y1="801.6" x2="1855.6" y2="801.6" stroke="#e6e5df" stroke-width="1.8"/>
<line x1="1499.9" y1="813.0" x2="1855.6" y2="813.0" stroke="#e6e5df" stroke-width="1.8"/>
<line x1="1499.9" y1="824.5" x2="1855.6" y2="824.5" stroke="#e6e5df" stroke-width="1.8"/>
<line x1="1499.9" y1="835.9" x2="1855.6" y2="835.9" stroke="#e6e5df" stroke-width="1.8"/>
<line x1="1499.9" y1="847.3" x2="1855.6" y2="847.3" stroke="#e6e5df" stroke-width="1.8"/>
<line x1="1499.9" y1="858.7" x2="1855.6" y2="858.7" stroke="#e6e5df" stroke-width="1.8"/>
<line x1="1499.9" y1="870.2" x2="1855.6" y2="870.2" stroke="#e6e5df" stroke-width="1.8"/>
<line x1="1499.9" y1="881.6" x2="1855.6" y2="881.6" stroke="#e6e5df" stroke-width="1.8"/>
<line x1="1499.9" y1="893.0" x2="1855.6" y2="893.0" stroke="#e6e5df" stroke-width="1.8"/>
<line x1="1499.9" y1="904.4" x2="1855.6" y2="904.4" stroke="#e6e5df" stroke-width="1.8"/>
<line x1="1499.9" y1="915.8" x2="1855.6" y2="915.8" stroke="#e6e5df" stroke-width="1.8"/>
<line x1="1499.9" y1="927.3" x2="1855.6" y2="927.3" stroke="#e6e5df" stroke-width="1.8"/>
<line x1="1499.9" y1="938.7" x2="1855.6" y2="938.7" stroke="#e6e5df" stroke-width="1.8"/>
<line x1="1499.9" y1="950.1" x2="1855.6" y2="950.1" stroke="#e6e5df" stroke-width="1.8"/>
<line x1="1499.9" y1="961.5" x2="1855.6" y2="961.5" stroke="#e6e5df" stroke-width="1.8"/>
<line x1="1499.9" y1="972.9" x2="1855.6" y2="972.9" stroke="#e6e5df" stroke-width="1.8"/>
<line x1="1499.9" y1="984.4" x2="1855.6" y2="984.4" stroke="#e6e5df" stroke-width="1.8"/>
<line x1="1499.9" y1="1007.2" x2="1855.6" y2="1007.2" stroke="#e6e5df" stroke-width="1.8"/>
<line x1="1499.9" y1="1018.6" x2="1855.6" y2="1018.6" stroke="#e6e5df" stroke-width="1.8"/>
<line x1="1499.9" y1="1030.0" x2="1855.6" y2="1030.0" stroke="#e6e5df" stroke-width="1.8"/>
<line x1="1499.9" y1="1041.5" x2="1855.6" y2="1041.5" stroke="#e6e5df" stroke-width="1.8"/>
<line x1="1499.9" y1="1052.9" x2="1855.6" y2="1052.9" stroke="#e6e5df" stroke-width="1.8"/>
<line x1="1499.9" y1="1064.3" x2="1855.6" y2="1064.3" stroke="#e6e5df" stroke-width="1.8"/>
<line x1="1499.9" y1="1075.7" x2="1855.6" y2="1075.7" stroke="#e6e5df" stroke-width="1.8"/>
<line x1="1499.9" y1="1087.2" x2="1855.6" y2="1087.2" stroke="#e6e5df" stroke-width="1.8"/>
<line x1="1499.9" y1="1098.6" x2="1855.6" y2="1098.6" stroke="#e6e5df" stroke-width="1.8"/>
<line x1="1499.9" y1="1110.0" x2="1855.6" y2="1110.0" stroke="#e6e5df" stroke-width="1.8"/>
<line x1="1499.9" y1="1121.4" x2="1855.6" y2="1121.4" stroke="#e6e5df" stroke-width="1.8"/>
<line x1="1499.9" y1="1132.8" x2="1855.6" y2="1132.8" stroke="#e6e5df" stroke-width="1.8"/>
<line x1="1499.9" y1="1144.3" x2="1855.6" y2="1144.3" stroke="#e6e5df" stroke-width="1.8"/>
<line x1="1499.9" y1="1155.7" x2="1855.6" y2="1155.7" stroke="#e6e5df" stroke-width="1.8"/>
<line x1="1499.9" y1="1167.1" x2="1855.6" y2="1167.1" stroke="#e6e5df" stroke-width="1.8"/>
<line x1="1499.9" y1="1178.5" x2="1855.6" y2="1178.5" stroke="#e6e5df" stroke-width="1.8"/>
<line x1="1499.9" y1="1189.9" x2="1855.6" y2="1189.9" stroke="#e6e5df" stroke-width="1.8"/>
<line x1="1499.9" y1="1201.4" x2="1855.6" y2="1201.4" stroke="#e6e5df" stroke-width="1.8"/>
<line x1="1499.9" y1="1212.8" x2="1855.6" y2="1212.8" stroke="#e6e5df" stroke-width="1.8"/>
<line x1="1499.9" y1="1224.2" x2="1855.6" y2="1224.2" stroke="#e6e5df" stroke-width="1.8"/>
<line x1="1499.9" y1="1235.6" x2="1855.6" y2="1235.6" stroke="#e6e5df" stroke-width="1.8"/>
<line x1="1499.9" y1="1247.0" x2="1855.6" y2="1247.0" stroke="#e6e5df" stroke-width="1.8"/>
<line x1="1499.9" y1="1258.5" x2="1855.6" y2="1258.5" stroke="#e6e5df" stroke-width="1.8"/>
<line x1="1499.9" y1="1281.3" x2="1855.6" y2="1281.3" stroke="#e6e5df" stroke-width="1.8"/>
<line x1="1499.9" y1="1292.7" x2="1855.6" y2="1292.7" stroke="#e6e5df" stroke-width="1.8"/>
<line x1="1499.9" y1="1304.2" x2="1855.6" y2="1304.2" stroke="#e6e5df" stroke-width="1.8"/>
<line x1="1499.9" y1="1315.6" x2="1855.6" y2="1315.6" stroke="#e6e5df" stroke-width="1.8"/>
<line x1="1499.9" y1="1327.0" x2="1855.6" y2="1327.0" stroke="#e6e5df" stroke-width="1.8"/>
<line x1="1499.9" y1="1338.4" x2="1855.6" y2="1338.4" stroke="#e6e5df" stroke-width="1.8"/>
<line x1="1499.9" y1="1349.8" x2="1855.6" y2="1349.8" stroke="#e6e5df" stroke-width="1.8"/>
<line x1="1499.9" y1="1361.3" x2="1855.6" y2="1361.3" stroke="#e6e5df" stroke-width="1.8"/>
<line x1="1499.9" y1="1372.7" x2="1855.6" y2="1372.7" stroke="#e6e5df" stroke-width="1.8"/>
<line x1="1499.9" y1="1384.1" x2="1855.6" y2="1384.1" stroke="#e6e5df" stroke-width="1.8"/>
<line x1="1499.9" y1="1395.5" x2="1855.6" y2="1395.5" stroke="#e6e5df" stroke-width="1.8"/>
<line x1="1499.9" y1="1406.9" x2="1855.6" y2="1406.9" stroke="#e6e5df" stroke-width="1.8"/>
<line x1="1499.9" y1="1418.4" x2="1855.6" y2="1418.4" stroke="#e6e5df" stroke-width="1.8"/>
<line x1="1499.9" y1="1429.8" x2="1855.6" y2="1429.8" stroke="#e6e5df" stroke-width="1.8"/>
<line x1="1499.9" y1="1441.2" x2="1855.6" y2="1441.2" stroke="#e6e5df" stroke-width="1.8"/>
<line x1="1499.9" y1="1452.6" x2="1855.6" y2="1452.6" stroke="#e6e5df" stroke-width="1.8"/>
<line x1="1499.9" y1="1464.0" x2="1855.6" y2="1464.0" stroke="#e6e5df" stroke-width="1.8"/>
<line x1="1499.9" y1="1475.5" x2="1855.6" y2="1475.5" stroke="#e6e5df" stroke-width="1.8"/>
<line x1="1499.9" y1="1486.9" x2="1855.6" y2="1486.9" stroke="#e6e5df" stroke-width="1.8"/>
<line x1="1499.9" y1="1498.3" x2="1855.6" y2="1498.3" stroke="#e6e5df" stroke-width="1.8"/>
<line x1="1499.9" y1="1509.7" x2="1855.6" y2="1509.7" stroke="#e6e5df" stroke-width="1.8"/>
<line x1="1499.9" y1="1521.1" x2="1855.6" y2="1521.1" stroke="#e6e5df" stroke-width="1.8"/>
<line x1="1499.9" y1="1532.6" x2="1855.6" y2="1532.6" stroke="#e6e5df" stroke-width="1.8"/>
<line x1="1499.9" y1="1555.4" x2="1855.6" y2="1555.4" stroke="#e6e5df" stroke-width="1.8"/>
<line x1="1499.9" y1="1566.8" x2="1855.6" y2="1566.8" stroke="#e6e5df" stroke-width="1.8"/>
<line x1="1499.9" y1="1578.3" x2="1855.6" y2="1578.3" stroke="#e6e5df" stroke-width="1.8"/>
<line x1="1499.9" y1="1589.7" x2="1855.6" y2="1589.7" stroke="#e6e5df" stroke-width="1.8"/>
<line x1="1499.9" y1="1601.1" x2="1855.6" y2="1601.1" stroke="#e6e5df" stroke-width="1.8"/>
<line x1="1499.9" y1="1612.5" x2="1855.6" y2="1612.5" stroke="#e6e5df" stroke-width="1.8"/>
<line x1="1499.9" y1="1623.9" x2="1855.6" y2="1623.9" stroke="#e6e5df" stroke-width="1.8"/>
<line x1="1499.9" y1="1635.4" x2="1855.6" y2="1635.4" stroke="#e6e5df" stroke-width="1.8"/>
<line x1="1499.9" y1="1646.8" x2="1855.6" y2="1646.8" stroke="#e6e5df" stroke-width="1.8"/>
<line x1="1499.9" y1="1658.2" x2="1855.6" y2="1658.2" stroke="#e6e5df" stroke-width="1.8"/>
<line x1="1499.9" y1="1669.6" x2="1855.6" y2="1669.6" stroke="#e6e5df" stroke-width="1.8"/>
<line x1="1499.9" y1="1681.0" x2="1855.6" y2="1681.0" stroke="#e6e5df" stroke-width="1.8"/>
<line x1="1499.9" y1="1692.5" x2="1855.6" y2="1692.5" stroke="#e6e5df" stroke-width="1.8"/>
<line x1="1499.9" y1="1703.9" x2="1855.6" y2="1703.9" stroke="#e6e5df" stroke-width="1.8"/>
<line x1="1499.9" y1="1715.3" x2="1855.6" y2="1715.3" stroke="#e6e5df" stroke-width="1.8"/>
<line x1="1499.9" y1="1726.7" x2="1855.6" y2="1726.7" stroke="#e6e5df" stroke-width="1.8"/>
<line x1="1499.9" y1="1738.1" x2="1855.6" y2="1738.1" stroke="#e6e5df" stroke-width="1.8"/>
<line x1="1499.9" y1="1749.6" x2="1855.6" y2="1749.6" stroke="#e6e5df" stroke-width="1.8"/>
<line x1="1499.9" y1="1761.0" x2="1855.6" y2="1761.0" stroke="#e6e5df" stroke-width="1.8"/>
<line x1="1499.9" y1="1772.4" x2="1855.6" y2="1772.4" stroke="#e6e5df" stroke-width="1.8"/>
<line x1="1499.9" y1="1783.8" x2="1855.6" y2="1783.8" stroke="#e6e5df" stroke-width="1.8"/>
<line x1="1499.9" y1="1795.3" x2="1855.6" y2="1795.3" stroke="#e6e5df" stroke-width="1.8"/>
<line x1="1499.9" y1="1806.7" x2="1855.6" y2="1806.7" stroke="#e6e5df" stroke-width="1.8"/>
<line x1="1499.9" y1="1818.1" x2="1855.6" y2="1818.1" stroke="#e6e5df" stroke-width="1.8"/>
<line x1="1527.3" y1="727.0" x2="1527.3" y2="1823.4" stroke="#e5e5e4" stroke-width="2"/>
<line x1="1583.6" y1="727.0" x2="1583.6" y2="1823.4" stroke="#e5e5e4" stroke-width="2"/>
<line x1="1639.9" y1="727.0" x2="1639.9" y2="1823.4" stroke="#e5e5e4" stroke-width="2"/>
<line x1="1696.3" y1="727.0" x2="1696.3" y2="1823.4" stroke="#e5e5e4" stroke-width="2"/>
<line x1="1752.6" y1="727.0" x2="1752.6" y2="1823.4" stroke="#e5e5e4" stroke-width="2"/>
<line x1="1808.9" y1="727.0" x2="1808.9" y2="1823.4" stroke="#e5e5e4" stroke-width="2"/>
<defs><clipPath id="cpe"><rect x="1498.9" y="726" width="357.29999999999995" height="1098.4"/></clipPath></defs>
<g clip-path="url(#cpe)">
<circle cx="1527.3" cy="733.1" r="5.1" fill="#b5b7ba"/>
<circle cx="1527.3" cy="755.9" r="5.7" fill="#d98e82"/>
<circle cx="1527.3" cy="744.5" r="6.8" fill="#f15e4e"/>
<circle cx="1527.3" cy="767.4" r="6.8" fill="#f05548"/>
<circle cx="1583.6" cy="778.8" r="5.1" fill="#b5b7ba"/>
<circle cx="1583.6" cy="801.6" r="5.5" fill="#e87867"/>
<circle cx="1583.6" cy="790.2" r="6.6" fill="#ef4940"/>
<circle cx="1583.6" cy="813.0" r="6.6" fill="#f04d43"/>
<circle cx="1808.9" cy="824.5" r="5.1" fill="#b5b7ba"/>
<circle cx="1808.9" cy="847.3" r="6.8" fill="#e47d6e"/>
<circle cx="1808.9" cy="835.9" r="7.4" fill="#f15e4e"/>
<circle cx="1808.9" cy="858.7" r="6.6" fill="#dd887b"/>
<circle cx="1696.3" cy="870.2" r="5.1" fill="#b5b7ba"/>
<circle cx="1696.3" cy="893.0" r="6.0" fill="#dd887b"/>
<circle cx="1696.3" cy="881.6" r="8.2" fill="#ee3f39"/>
<circle cx="1696.3" cy="904.4" r="8.2" fill="#ee3b37"/>
<circle cx="1752.6" cy="915.8" r="5.1" fill="#b5b7ba"/>
<circle cx="1752.6" cy="938.7" r="6.3" fill="#f05548"/>
<circle cx="1752.6" cy="927.3" r="6.0" fill="#f26754"/>
<circle cx="1752.6" cy="950.1" r="5.7" fill="#d98e82"/>
<circle cx="1639.9" cy="961.5" r="5.1" fill="#b5b7ba"/>
<circle cx="1639.9" cy="984.4" r="5.5" fill="#e47d6e"/>
<circle cx="1639.9" cy="972.9" r="6.8" fill="#ee3f39"/>
<circle cx="1639.9" cy="995.8" r="6.5" fill="#ef443d"/>
<circle cx="1527.3" cy="1007.2" r="5.1" fill="#b5b7ba"/>
<circle cx="1527.3" cy="1030.0" r="5.3" fill="#bfadac"/>
<circle cx="1527.3" cy="1018.6" r="9.6" fill="#ee403a"/>
<circle cx="1527.3" cy="1041.5" r="7.2" fill="#ef4940"/>
<circle cx="1583.6" cy="1052.9" r="5.1" fill="#b5b7ba"/>
<circle cx="1583.6" cy="1075.7" r="5.0" fill="#d1998f"/>
<circle cx="1583.6" cy="1064.3" r="7.4" fill="#ee403a"/>
<circle cx="1583.6" cy="1087.2" r="5.5" fill="#d1998f"/>
<circle cx="1808.9" cy="1098.6" r="5.1" fill="#b5b7ba"/>
<circle cx="1808.9" cy="1121.4" r="5.3" fill="#bab2b3"/>
<circle cx="1808.9" cy="1110.0" r="8.6" fill="#ee403a"/>
<circle cx="1808.9" cy="1132.8" r="6.5" fill="#e18374"/>
<circle cx="1696.3" cy="1144.3" r="5.1" fill="#b5b7ba"/>
<circle cx="1696.3" cy="1167.1" r="6.5" fill="#d1998f"/>
<circle cx="1696.3" cy="1155.7" r="11.7" fill="#ee403a"/>
<circle cx="1696.3" cy="1178.5" r="9.2" fill="#ef443d"/>
<circle cx="1752.6" cy="1189.9" r="5.1" fill="#b5b7ba"/>
<circle cx="1752.6" cy="1212.8" r="5.5" fill="#bfadac"/>
<circle cx="1752.6" cy="1201.4" r="7.6" fill="#ee403a"/>
<circle cx="1752.6" cy="1224.2" r="7.0" fill="#ef443d"/>
<circle cx="1639.9" cy="1235.6" r="5.1" fill="#b5b7ba"/>
<circle cx="1639.9" cy="1258.5" r="5.5" fill="#c8a39d"/>
<circle cx="1639.9" cy="1247.0" r="7.6" fill="#ee403a"/>
<circle cx="1639.9" cy="1269.9" r="6.5" fill="#ef4940"/>
<circle cx="1527.3" cy="1281.3" r="5.1" fill="#b5b7ba"/>
<circle cx="1527.3" cy="1304.2" r="5.1" fill="#b8b4b6"/>
<circle cx="1527.3" cy="1292.7" r="7.8" fill="#ee403a"/>
<circle cx="1527.3" cy="1315.6" r="5.3" fill="#b8b4b6"/>
<circle cx="1583.6" cy="1327.0" r="5.1" fill="#b5b7ba"/>
<circle cx="1583.6" cy="1349.8" r="4.3" fill="#eb7261"/>
<circle cx="1583.6" cy="1338.4" r="7.6" fill="#ee403a"/>
<circle cx="1583.6" cy="1361.3" r="5.3" fill="#b8b4b6"/>
<circle cx="1808.9" cy="1372.7" r="5.1" fill="#b5b7ba"/>
<circle cx="1808.9" cy="1395.5" r="5.0" fill="#c3a8a4"/>
<circle cx="1808.9" cy="1384.1" r="7.2" fill="#ee403a"/>
<circle cx="1808.9" cy="1406.9" r="5.7" fill="#e87867"/>
<circle cx="1696.3" cy="1418.4" r="5.1" fill="#b5b7ba"/>
<circle cx="1696.3" cy="1441.2" r="5.1" fill="#b5b7ba"/>
<circle cx="1696.3" cy="1429.8" r="8.0" fill="#ee403a"/>
<circle cx="1696.3" cy="1452.6" r="6.5" fill="#ef6d5a"/>
<circle cx="1752.6" cy="1464.0" r="5.1" fill="#b5b7ba"/>
<circle cx="1752.6" cy="1486.9" r="5.0" fill="#d1998f"/>
<circle cx="1752.6" cy="1475.5" r="5.7" fill="#eb7261"/>
<circle cx="1752.6" cy="1498.3" r="5.1" fill="#b5b7ba"/>
<circle cx="1639.9" cy="1509.7" r="5.1" fill="#b5b7ba"/>
<circle cx="1639.9" cy="1532.6" r="5.0" fill="#c3a8a4"/>
<circle cx="1639.9" cy="1521.1" r="7.2" fill="#ee403a"/>
<circle cx="1639.9" cy="1544.0" r="6.0" fill="#f15e4e"/>
<circle cx="1527.3" cy="1555.4" r="5.1" fill="#b5b7ba"/>
<circle cx="1527.3" cy="1578.3" r="4.5" fill="#c3a8a4"/>
<circle cx="1527.3" cy="1566.8" r="6.8" fill="#eb7261"/>
<circle cx="1527.3" cy="1589.7" r="6.8" fill="#ef6d5a"/>
<circle cx="1583.6" cy="1601.1" r="5.1" fill="#b5b7ba"/>
<circle cx="1583.6" cy="1623.9" r="3.3" fill="#f15e4e"/>
<circle cx="1583.6" cy="1612.5" r="6.6" fill="#ee403a"/>
<circle cx="1583.6" cy="1635.4" r="5.8" fill="#f26754"/>
<circle cx="1808.9" cy="1646.8" r="5.1" fill="#b5b7ba"/>
<circle cx="1808.9" cy="1669.6" r="4.7" fill="#c3a8a4"/>
<circle cx="1808.9" cy="1658.2" r="7.6" fill="#f26754"/>
<circle cx="1808.9" cy="1681.0" r="6.6" fill="#d98e82"/>
<circle cx="1696.3" cy="1692.5" r="5.1" fill="#b5b7ba"/>
<circle cx="1696.3" cy="1715.3" r="3.9" fill="#e47d6e"/>
<circle cx="1696.3" cy="1703.9" r="7.4" fill="#ee403a"/>
<circle cx="1696.3" cy="1726.7" r="7.0" fill="#f05548"/>
<circle cx="1752.6" cy="1738.1" r="5.1" fill="#b5b7ba"/>
<circle cx="1752.6" cy="1761.0" r="3.9" fill="#f15e4e"/>
<circle cx="1752.6" cy="1749.6" r="5.8" fill="#f15e4e"/>
<circle cx="1752.6" cy="1772.4" r="5.7" fill="#f26754"/>
<circle cx="1639.9" cy="1783.8" r="5.1" fill="#b5b7ba"/>
<circle cx="1639.9" cy="1806.7" r="4.7" fill="#e18374"/>
<circle cx="1639.9" cy="1795.3" r="6.6" fill="#ef443d"/>
<circle cx="1639.9" cy="1818.1" r="7.4" fill="#ee403a"/>
</g>
<rect x="1498.9" y="726" width="357.29999999999995" height="1098.4" fill="none" stroke="#000" stroke-width="1.9"/>
<line x1="1527.3" y1="1823.2" x2="1527.3" y2="1825.4" stroke="#e5e5e4" stroke-width="1.6"/>
<line x1="1583.6" y1="1823.2" x2="1583.6" y2="1825.4" stroke="#e5e5e4" stroke-width="1.6"/>
<line x1="1639.9" y1="1823.2" x2="1639.9" y2="1825.4" stroke="#e5e5e4" stroke-width="1.6"/>
<line x1="1696.3" y1="1823.2" x2="1696.3" y2="1825.4" stroke="#e5e5e4" stroke-width="1.6"/>
<line x1="1752.6" y1="1823.2" x2="1752.6" y2="1825.4" stroke="#e5e5e4" stroke-width="1.6"/>
<line x1="1808.9" y1="1823.2" x2="1808.9" y2="1825.4" stroke="#e5e5e4" stroke-width="1.6"/>
<line x1="1498.9" y1="998.2" x2="1947.6" y2="998.2" stroke="#231f20" stroke-width="1.9" stroke-linecap="round"/>
<line x1="1498.9" y1="1270.7" x2="1947.6" y2="1270.7" stroke="#231f20" stroke-width="1.9" stroke-linecap="round"/>
<line x1="1498.9" y1="1545.8" x2="1947.6" y2="1545.8" stroke="#231f20" stroke-width="1.9" stroke-linecap="round"/>
<line x1="1883.1" y1="730.3" x2="1883.1" y2="989.4" stroke="#231f20" stroke-width="1.9" stroke-linecap="round"/>
<line x1="1883.1" y1="1005.0" x2="1883.1" y2="1264.0" stroke="#231f20" stroke-width="1.9" stroke-linecap="round"/>
<line x1="1883.1" y1="1276.0" x2="1883.1" y2="1535.7" stroke="#231f20" stroke-width="1.9" stroke-linecap="round"/>
<line x1="1883.1" y1="1564.1" x2="1883.1" y2="1822.8" stroke="#231f20" stroke-width="1.9" stroke-linecap="round"/>
<rect x="1476.4" y="729.6" width="14.9" height="7" fill="#a7a9ac" stroke="#231f20" stroke-width="1.5"/>
<rect x="1476.4" y="741.0" width="14.9" height="7" fill="#f6a5a9" stroke="#231f20" stroke-width="1.5"/>
<rect x="1476.4" y="752.4" width="14.9" height="7" fill="#231f20" stroke="#231f20" stroke-width="1.5"/>
<rect x="1476.4" y="763.9" width="14.9" height="7" fill="#a01b21" stroke="#231f20" stroke-width="1.5"/>
<rect x="1476.4" y="775.3" width="14.9" height="7" fill="#a7a9ac" stroke="#231f20" stroke-width="1.5"/>
<rect x="1476.4" y="786.7" width="14.9" height="7" fill="#f6a5a9" stroke="#231f20" stroke-width="1.5"/>
<rect x="1476.4" y="798.1" width="14.9" height="7" fill="#231f20" stroke="#231f20" stroke-width="1.5"/>
<rect x="1476.4" y="809.5" width="14.9" height="7" fill="#a01b21" stroke="#231f20" stroke-width="1.5"/>
<rect x="1476.4" y="821.0" width="14.9" height="7" fill="#a7a9ac" stroke="#231f20" stroke-width="1.5"/>
<rect x="1476.4" y="832.4" width="14.9" height="7" fill="#f6a5a9" stroke="#231f20" stroke-width="1.5"/>
<rect x="1476.4" y="843.8" width="14.9" height="7" fill="#231f20" stroke="#231f20" stroke-width="1.5"/>
<rect x="1476.4" y="855.2" width="14.9" height="7" fill="#a01b21" stroke="#231f20" stroke-width="1.5"/>
<rect x="1476.4" y="866.7" width="14.9" height="7" fill="#a7a9ac" stroke="#231f20" stroke-width="1.5"/>
<rect x="1476.4" y="878.1" width="14.9" height="7" fill="#f6a5a9" stroke="#231f20" stroke-width="1.5"/>
<rect x="1476.4" y="889.5" width="14.9" height="7" fill="#231f20" stroke="#231f20" stroke-width="1.5"/>
<rect x="1476.4" y="900.9" width="14.9" height="7" fill="#a01b21" stroke="#231f20" stroke-width="1.5"/>
<rect x="1476.4" y="912.3" width="14.9" height="7" fill="#a7a9ac" stroke="#231f20" stroke-width="1.5"/>
<rect x="1476.4" y="923.8" width="14.9" height="7" fill="#f6a5a9" stroke="#231f20" stroke-width="1.5"/>
<rect x="1476.4" y="935.2" width="14.9" height="7" fill="#231f20" stroke="#231f20" stroke-width="1.5"/>
<rect x="1476.4" y="946.6" width="14.9" height="7" fill="#a01b21" stroke="#231f20" stroke-width="1.5"/>
<rect x="1476.4" y="958.0" width="14.9" height="7" fill="#a7a9ac" stroke="#231f20" stroke-width="1.5"/>
<rect x="1476.4" y="969.4" width="14.9" height="7" fill="#f6a5a9" stroke="#231f20" stroke-width="1.5"/>
<rect x="1476.4" y="980.9" width="14.9" height="7" fill="#231f20" stroke="#231f20" stroke-width="1.5"/>
<rect x="1476.4" y="992.3" width="14.9" height="7" fill="#a01b21" stroke="#231f20" stroke-width="1.5"/>
<rect x="1476.4" y="1003.7" width="14.9" height="7" fill="#a7a9ac" stroke="#231f20" stroke-width="1.5"/>
<rect x="1476.4" y="1015.1" width="14.9" height="7" fill="#f6a5a9" stroke="#231f20" stroke-width="1.5"/>
<rect x="1476.4" y="1026.5" width="14.9" height="7" fill="#231f20" stroke="#231f20" stroke-width="1.5"/>
<rect x="1476.4" y="1038.0" width="14.9" height="7" fill="#a01b21" stroke="#231f20" stroke-width="1.5"/>
<rect x="1476.4" y="1049.4" width="14.9" height="7" fill="#a7a9ac" stroke="#231f20" stroke-width="1.5"/>
<rect x="1476.4" y="1060.8" width="14.9" height="7" fill="#f6a5a9" stroke="#231f20" stroke-width="1.5"/>
<rect x="1476.4" y="1072.2" width="14.9" height="7" fill="#231f20" stroke="#231f20" stroke-width="1.5"/>
<rect x="1476.4" y="1083.7" width="14.9" height="7" fill="#a01b21" stroke="#231f20" stroke-width="1.5"/>
<rect x="1476.4" y="1095.1" width="14.9" height="7" fill="#a7a9ac" stroke="#231f20" stroke-width="1.5"/>
<rect x="1476.4" y="1106.5" width="14.9" height="7" fill="#f6a5a9" stroke="#231f20" stroke-width="1.5"/>
<rect x="1476.4" y="1117.9" width="14.9" height="7" fill="#231f20" stroke="#231f20" stroke-width="1.5"/>
<rect x="1476.4" y="1129.3" width="14.9" height="7" fill="#a01b21" stroke="#231f20" stroke-width="1.5"/>
<rect x="1476.4" y="1140.8" width="14.9" height="7" fill="#a7a9ac" stroke="#231f20" stroke-width="1.5"/>
<rect x="1476.4" y="1152.2" width="14.9" height="7" fill="#f6a5a9" stroke="#231f20" stroke-width="1.5"/>
<rect x="1476.4" y="1163.6" width="14.9" height="7" fill="#231f20" stroke="#231f20" stroke-width="1.5"/>
<rect x="1476.4" y="1175.0" width="14.9" height="7" fill="#a01b21" stroke="#231f20" stroke-width="1.5"/>
<rect x="1476.4" y="1186.4" width="14.9" height="7" fill="#a7a9ac" stroke="#231f20" stroke-width="1.5"/>
<rect x="1476.4" y="1197.9" width="14.9" height="7" fill="#f6a5a9" stroke="#231f20" stroke-width="1.5"/>
<rect x="1476.4" y="1209.3" width="14.9" height="7" fill="#231f20" stroke="#231f20" stroke-width="1.5"/>
<rect x="1476.4" y="1220.7" width="14.9" height="7" fill="#a01b21" stroke="#231f20" stroke-width="1.5"/>
<rect x="1476.4" y="1232.1" width="14.9" height="7" fill="#a7a9ac" stroke="#231f20" stroke-width="1.5"/>
<rect x="1476.4" y="1243.5" width="14.9" height="7" fill="#f6a5a9" stroke="#231f20" stroke-width="1.5"/>
<rect x="1476.4" y="1255.0" width="14.9" height="7" fill="#231f20" stroke="#231f20" stroke-width="1.5"/>
<rect x="1476.4" y="1266.4" width="14.9" height="7" fill="#a01b21" stroke="#231f20" stroke-width="1.5"/>
<rect x="1476.4" y="1277.8" width="14.9" height="7" fill="#a7a9ac" stroke="#231f20" stroke-width="1.5"/>
<rect x="1476.4" y="1289.2" width="14.9" height="7" fill="#f6a5a9" stroke="#231f20" stroke-width="1.5"/>
<rect x="1476.4" y="1300.7" width="14.9" height="7" fill="#231f20" stroke="#231f20" stroke-width="1.5"/>
<rect x="1476.4" y="1312.1" width="14.9" height="7" fill="#a01b21" stroke="#231f20" stroke-width="1.5"/>
<rect x="1476.4" y="1323.5" width="14.9" height="7" fill="#a7a9ac" stroke="#231f20" stroke-width="1.5"/>
<rect x="1476.4" y="1334.9" width="14.9" height="7" fill="#f6a5a9" stroke="#231f20" stroke-width="1.5"/>
<rect x="1476.4" y="1346.3" width="14.9" height="7" fill="#231f20" stroke="#231f20" stroke-width="1.5"/>
<rect x="1476.4" y="1357.8" width="14.9" height="7" fill="#a01b21" stroke="#231f20" stroke-width="1.5"/>
<rect x="1476.4" y="1369.2" width="14.9" height="7" fill="#a7a9ac" stroke="#231f20" stroke-width="1.5"/>
<rect x="1476.4" y="1380.6" width="14.9" height="7" fill="#f6a5a9" stroke="#231f20" stroke-width="1.5"/>
<rect x="1476.4" y="1392.0" width="14.9" height="7" fill="#231f20" stroke="#231f20" stroke-width="1.5"/>
<rect x="1476.4" y="1403.4" width="14.9" height="7" fill="#a01b21" stroke="#231f20" stroke-width="1.5"/>
<rect x="1476.4" y="1414.9" width="14.9" height="7" fill="#a7a9ac" stroke="#231f20" stroke-width="1.5"/>
<rect x="1476.4" y="1426.3" width="14.9" height="7" fill="#f6a5a9" stroke="#231f20" stroke-width="1.5"/>
<rect x="1476.4" y="1437.7" width="14.9" height="7" fill="#231f20" stroke="#231f20" stroke-width="1.5"/>
<rect x="1476.4" y="1449.1" width="14.9" height="7" fill="#a01b21" stroke="#231f20" stroke-width="1.5"/>
<rect x="1476.4" y="1460.5" width="14.9" height="7" fill="#a7a9ac" stroke="#231f20" stroke-width="1.5"/>
<rect x="1476.4" y="1472.0" width="14.9" height="7" fill="#f6a5a9" stroke="#231f20" stroke-width="1.5"/>
<rect x="1476.4" y="1483.4" width="14.9" height="7" fill="#231f20" stroke="#231f20" stroke-width="1.5"/>
<rect x="1476.4" y="1494.8" width="14.9" height="7" fill="#a01b21" stroke="#231f20" stroke-width="1.5"/>
<rect x="1476.4" y="1506.2" width="14.9" height="7" fill="#a7a9ac" stroke="#231f20" stroke-width="1.5"/>
<rect x="1476.4" y="1517.6" width="14.9" height="7" fill="#f6a5a9" stroke="#231f20" stroke-width="1.5"/>
<rect x="1476.4" y="1529.1" width="14.9" height="7" fill="#231f20" stroke="#231f20" stroke-width="1.5"/>
<rect x="1476.4" y="1540.5" width="14.9" height="7" fill="#a01b21" stroke="#231f20" stroke-width="1.5"/>
<rect x="1476.4" y="1551.9" width="14.9" height="7" fill="#a7a9ac" stroke="#231f20" stroke-width="1.5"/>
<rect x="1476.4" y="1563.3" width="14.9" height="7" fill="#f6a5a9" stroke="#231f20" stroke-width="1.5"/>
<rect x="1476.4" y="1574.8" width="14.9" height="7" fill="#231f20" stroke="#231f20" stroke-width="1.5"/>
<rect x="1476.4" y="1586.2" width="14.9" height="7" fill="#a01b21" stroke="#231f20" stroke-width="1.5"/>
<rect x="1476.4" y="1597.6" width="14.9" height="7" fill="#a7a9ac" stroke="#231f20" stroke-width="1.5"/>
<rect x="1476.4" y="1609.0" width="14.9" height="7" fill="#f6a5a9" stroke="#231f20" stroke-width="1.5"/>
<rect x="1476.4" y="1620.4" width="14.9" height="7" fill="#231f20" stroke="#231f20" stroke-width="1.5"/>
<rect x="1476.4" y="1631.9" width="14.9" height="7" fill="#a01b21" stroke="#231f20" stroke-width="1.5"/>
<rect x="1476.4" y="1643.3" width="14.9" height="7" fill="#a7a9ac" stroke="#231f20" stroke-width="1.5"/>
<rect x="1476.4" y="1654.7" width="14.9" height="7" fill="#f6a5a9" stroke="#231f20" stroke-width="1.5"/>
<rect x="1476.4" y="1666.1" width="14.9" height="7" fill="#231f20" stroke="#231f20" stroke-width="1.5"/>
<rect x="1476.4" y="1677.5" width="14.9" height="7" fill="#a01b21" stroke="#231f20" stroke-width="1.5"/>
<rect x="1476.4" y="1689.0" width="14.9" height="7" fill="#a7a9ac" stroke="#231f20" stroke-width="1.5"/>
<rect x="1476.4" y="1700.4" width="14.9" height="7" fill="#f6a5a9" stroke="#231f20" stroke-width="1.5"/>
<rect x="1476.4" y="1711.8" width="14.9" height="7" fill="#231f20" stroke="#231f20" stroke-width="1.5"/>
<rect x="1476.4" y="1723.2" width="14.9" height="7" fill="#a01b21" stroke="#231f20" stroke-width="1.5"/>
<rect x="1476.4" y="1734.6" width="14.9" height="7" fill="#a7a9ac" stroke="#231f20" stroke-width="1.5"/>
<rect x="1476.4" y="1746.1" width="14.9" height="7" fill="#f6a5a9" stroke="#231f20" stroke-width="1.5"/>
<rect x="1476.4" y="1757.5" width="14.9" height="7" fill="#231f20" stroke="#231f20" stroke-width="1.5"/>
<rect x="1476.4" y="1768.9" width="14.9" height="7" fill="#a01b21" stroke="#231f20" stroke-width="1.5"/>
<rect x="1476.4" y="1780.3" width="14.9" height="7" fill="#a7a9ac" stroke="#231f20" stroke-width="1.5"/>
<rect x="1476.4" y="1791.8" width="14.9" height="7" fill="#f6a5a9" stroke="#231f20" stroke-width="1.5"/>
<rect x="1476.4" y="1803.2" width="14.9" height="7" fill="#231f20" stroke="#231f20" stroke-width="1.5"/>
<rect x="1476.4" y="1814.6" width="14.9" height="7" fill="#a01b21" stroke="#231f20" stroke-width="1.5"/>
<text x="1341" y="649.8" font-size="55">e</text>
<text x="1542.2" y="689.1" font-size="36.9" fill="#231f20">PD-L1 Expression</text>
<text transform="translate(1529.6,1833.2) rotate(-90) scale(0.96,1)" font-size="31" text-anchor="end" fill="#231f20">DC1</text>
<text transform="translate(1585.9,1833.2) rotate(-90) scale(0.96,1)" font-size="31" text-anchor="end" fill="#231f20">DC2</text>
<text transform="translate(1642.2,1833.2) rotate(-90) scale(0.96,1)" font-size="31" text-anchor="end" fill="#231f20">Macrophages</text>
<text transform="translate(1698.6,1833.2) rotate(-90) scale(0.96,1)" font-size="31" text-anchor="end" fill="#231f20">Monocytes</text>
<text transform="translate(1754.9,1833.2) rotate(-90) scale(0.96,1)" font-size="31" text-anchor="end" fill="#231f20">Neutrophils</text>
<text transform="translate(1811.2,1833.2) rotate(-90) scale(0.96,1)" font-size="31" text-anchor="end" fill="#231f20">pDC</text>
<g transform="translate(1430.2,-3.0)">
<polygon points="512.8,822.1 518.0,827.3 524.9,832.1 530.6,838.4 532.2,846.8 537.5,854.6 534.8,862.5 536.9,870.4 533.8,879.9 529.1,887.7 520.7,891.9 511.7,894.0 502.3,891.9 496.0,895.1 489.7,890.9 487.6,883.5 479.7,878.3 478.1,869.3 470.2,865.1 469.7,858.8 475.0,852.0 474.4,842.6 478.1,837.3 486.5,834.7 488.6,828.9 497.0,827.3 503.8,825.8 507.5,823.7" fill="#7d8387" stroke="#7d8387" stroke-width="1" stroke-linejoin="round"/>
<circle cx="512.8" cy="822.1" r="1.4" fill="#7d8387"/>
<circle cx="518.0" cy="827.3" r="1.7" fill="#7d8387"/>
<circle cx="524.9" cy="832.1" r="1.6" fill="#7d8387"/>
<circle cx="530.6" cy="838.4" r="1.8" fill="#7d8387"/>
<circle cx="532.2" cy="846.8" r="1.8" fill="#7d8387"/>
<circle cx="537.5" cy="854.6" r="1.3" fill="#7d8387"/>
<circle cx="534.8" cy="862.5" r="1.2" fill="#7d8387"/>
<circle cx="536.9" cy="870.4" r="2.0" fill="#7d8387"/>
<circle cx="533.8" cy="879.9" r="1.5" fill="#7d8387"/>
<circle cx="529.1" cy="887.7" r="1.4" fill="#7d8387"/>
<circle cx="520.7" cy="891.9" r="2.2" fill="#7d8387"/>
<circle cx="511.7" cy="894.0" r="1.7" fill="#7d8387"/>
<circle cx="502.3" cy="891.9" r="2.0" fill="#7d8387"/>
<circle cx="496.0" cy="895.1" r="1.7" fill="#7d8387"/>
<circle cx="489.7" cy="890.9" r="1.8" fill="#7d8387"/>
<circle cx="487.6" cy="883.5" r="1.4" fill="#7d8387"/>
<circle cx="479.7" cy="878.3" r="1.8" fill="#7d8387"/>
<circle cx="478.1" cy="869.3" r="2.1" fill="#7d8387"/>
<circle cx="470.2" cy="865.1" r="1.7" fill="#7d8387"/>
<circle cx="469.7" cy="858.8" r="1.9" fill="#7d8387"/>
<circle cx="475.0" cy="852.0" r="1.9" fill="#7d8387"/>
<circle cx="474.4" cy="842.6" r="1.3" fill="#7d8387"/>
<circle cx="478.1" cy="837.3" r="2.0" fill="#7d8387"/>
<circle cx="486.5" cy="834.7" r="1.8" fill="#7d8387"/>
<circle cx="488.6" cy="828.9" r="1.5" fill="#7d8387"/>
<circle cx="497.0" cy="827.3" r="1.2" fill="#7d8387"/>
<circle cx="503.8" cy="825.8" r="2.1" fill="#7d8387"/>
<circle cx="507.5" cy="823.7" r="1.7" fill="#7d8387"/>
<circle cx="499.4" cy="847.0" r="7.4" fill="#868c90" fill-opacity="0.6" stroke="#6a7175" stroke-opacity="0.45" stroke-width="0.9"/>
<circle cx="516.4" cy="847.0" r="7.4" fill="#868c90" fill-opacity="0.6" stroke="#6a7175" stroke-opacity="0.45" stroke-width="0.9"/>
<circle cx="507.5" cy="860.2" r="7.4" fill="#868c90" fill-opacity="0.6" stroke="#6a7175" stroke-opacity="0.45" stroke-width="0.9"/>
<circle cx="517.8" cy="863.0" r="7.4" fill="#868c90" fill-opacity="0.6" stroke="#6a7175" stroke-opacity="0.45" stroke-width="0.9"/>
<circle cx="488.6" cy="863.6" r="7.4" fill="#868c90" fill-opacity="0.6" stroke="#6a7175" stroke-opacity="0.45" stroke-width="0.9"/>
<circle cx="503.6" cy="873.0" r="7.4" fill="#868c90" fill-opacity="0.6" stroke="#6a7175" stroke-opacity="0.45" stroke-width="0.9"/>
<circle cx="516.4" cy="877.2" r="7.4" fill="#868c90" fill-opacity="0.6" stroke="#6a7175" stroke-opacity="0.45" stroke-width="0.9"/>
<circle cx="481.3" cy="844.4" r="7.4" fill="#868c90" fill-opacity="0.6" stroke="#6a7175" stroke-opacity="0.45" stroke-width="0.9"/>
<circle cx="477.6" cy="861.2" r="7.4" fill="#868c90" fill-opacity="0.6" stroke="#6a7175" stroke-opacity="0.45" stroke-width="0.9"/>
<circle cx="487.0" cy="875.1" r="7.4" fill="#868c90" fill-opacity="0.6" stroke="#6a7175" stroke-opacity="0.45" stroke-width="0.9"/>
<circle cx="496.5" cy="885.6" r="7.4" fill="#868c90" fill-opacity="0.6" stroke="#6a7175" stroke-opacity="0.45" stroke-width="0.9"/>
<circle cx="508.0" cy="885.6" r="7.4" fill="#868c90" fill-opacity="0.6" stroke="#6a7175" stroke-opacity="0.45" stroke-width="0.9"/>
<circle cx="522.8" cy="884.6" r="7.4" fill="#868c90" fill-opacity="0.6" stroke="#6a7175" stroke-opacity="0.45" stroke-width="0.9"/>
<circle cx="528.5" cy="870.9" r="7.4" fill="#868c90" fill-opacity="0.6" stroke="#6a7175" stroke-opacity="0.45" stroke-width="0.9"/>
<circle cx="527.5" cy="856.2" r="7.4" fill="#868c90" fill-opacity="0.6" stroke="#6a7175" stroke-opacity="0.45" stroke-width="0.9"/>
<circle cx="520.1" cy="837.8" r="7.4" fill="#868c90" fill-opacity="0.6" stroke="#6a7175" stroke-opacity="0.45" stroke-width="0.9"/>
<circle cx="510.7" cy="832.1" r="7.4" fill="#868c90" fill-opacity="0.6" stroke="#6a7175" stroke-opacity="0.45" stroke-width="0.9"/>
<circle cx="490.7" cy="836.3" r="7.4" fill="#868c90" fill-opacity="0.6" stroke="#6a7175" stroke-opacity="0.45" stroke-width="0.9"/>
<circle cx="499.6" cy="838.4" r="7.4" fill="#868c90" fill-opacity="0.6" stroke="#6a7175" stroke-opacity="0.45" stroke-width="0.9"/>
<circle cx="499.4" cy="847.0" r="4.1" fill="#323c40"/>
<circle cx="516.4" cy="847.0" r="4.1" fill="#323c40"/>
<circle cx="507.5" cy="860.2" r="4.1" fill="#323c40"/>
<circle cx="517.8" cy="863.0" r="4.1" fill="#323c40"/>
<circle cx="488.6" cy="863.6" r="4.1" fill="#323c40"/>
<circle cx="503.6" cy="873.0" r="4.1" fill="#323c40"/>
<circle cx="516.4" cy="877.2" r="4.1" fill="#474f53"/>
<circle cx="481.3" cy="844.4" r="4.1" fill="#5b6367"/>
<circle cx="477.6" cy="861.2" r="4.1" fill="#5b6367"/>
<circle cx="487.0" cy="875.1" r="4.1" fill="#5b6367"/>
<circle cx="496.5" cy="885.6" r="4.1" fill="#5b6367"/>
<circle cx="508.0" cy="885.6" r="4.1" fill="#5b6367"/>
<circle cx="522.8" cy="884.6" r="4.1" fill="#5b6367"/>
<circle cx="528.5" cy="870.9" r="4.1" fill="#5b6367"/>
<circle cx="527.5" cy="856.2" r="4.1" fill="#5b6367"/>
<circle cx="520.1" cy="837.8" r="4.1" fill="#5b6367"/>
<circle cx="510.7" cy="832.1" r="4.1" fill="#5b6367"/>
<circle cx="490.7" cy="836.3" r="4.1" fill="#5b6367"/>
<circle cx="499.6" cy="838.4" r="4.1" fill="#5b6367"/>
</g>
<path d="M1933.5,1087.8 C1939.3,1088.0 1943.5,1091.7 1944.0,1098.0 C1944.8,1106.4 1941.4,1114.8 1939.6,1121.6 C1937.7,1129.5 1939.8,1137.4 1942.4,1145.3 C1944.5,1151.6 1945.1,1158.9 1943.0,1164.2 C1941.4,1167.3 1936.7,1166.8 1932.5,1163.7 C1925.1,1156.8 1920.9,1146.3 1919.1,1134.8 C1917.2,1124.3 1917.8,1111.1 1920.9,1100.6 C1923.5,1092.8 1928.3,1088.0 1933.5,1087.8 Z" fill="#8f4a50" stroke="#7b2d36" stroke-width="1"/>
<path d="M1937.7,1090.7 C1942.4,1092.8 1943.5,1098.0 1943.0,1104.3 C1940.9,1113.8 1937.7,1120.1 1936.9,1126.9 C1937.2,1137.4 1940.9,1147.9 1942.4,1155.8 C1943.0,1160.0 1942.4,1163.1 1940.9,1164.7 C1937.7,1155.8 1932.5,1142.7 1931.4,1129.5 C1930.9,1116.4 1934.0,1103.3 1937.7,1090.7 Z" fill="#853a42"/>
<path d="M1915.1,1384.6 C1916.5,1384.3 1918.9,1386.2 1919.3,1387.8 C1919.8,1389.3 1917.5,1392.1 1917.8,1394.1 C1918.0,1396.0 1919.3,1397.8 1920.9,1399.3 C1922.5,1400.8 1924.9,1402.3 1927.2,1403.0 C1929.6,1403.7 1933.3,1403.1 1935.1,1403.5 C1936.8,1404.0 1936.4,1405.9 1937.7,1405.6 C1939.0,1405.4 1940.8,1402.7 1943.0,1401.9 C1945.2,1401.1 1948.7,1401.8 1950.9,1400.9 C1953.0,1400.0 1954.4,1397.6 1956.1,1396.7 C1957.9,1395.8 1960.0,1394.9 1961.4,1395.6 C1962.8,1396.3 1964.2,1398.3 1964.5,1400.9 C1964.9,1403.5 1963.7,1407.9 1963.5,1411.4 C1963.2,1414.9 1962.9,1418.4 1962.9,1421.9 C1962.9,1425.4 1963.3,1429.3 1963.5,1432.4 C1963.6,1435.5 1964.3,1437.7 1964.0,1440.3 C1963.6,1442.9 1963.1,1446.0 1961.4,1448.2 C1959.6,1450.3 1956.1,1452.4 1953.5,1453.4 C1950.9,1454.5 1948.2,1454.4 1945.6,1454.5 C1943.0,1454.5 1940.3,1453.7 1937.7,1453.9 C1935.1,1454.2 1932.5,1455.9 1929.8,1456.0 C1927.2,1456.1 1924.2,1455.8 1922.0,1454.5 C1919.8,1453.1 1917.9,1450.5 1916.7,1448.2 C1915.5,1445.8 1915.7,1442.5 1914.6,1440.3 C1913.6,1438.1 1911.6,1437.0 1910.4,1435.0 C1909.2,1433.1 1908.1,1431.3 1907.3,1428.7 C1906.4,1426.1 1905.4,1422.6 1905.2,1419.3 C1904.9,1415.9 1905.8,1411.8 1905.7,1408.8 C1905.6,1405.7 1904.4,1403.1 1904.6,1400.9 C1904.9,1398.7 1906.2,1396.6 1907.3,1395.6 C1908.3,1394.7 1910.2,1396.2 1910.9,1395.1 C1911.6,1394.1 1910.8,1391.1 1911.5,1389.3 C1912.2,1387.6 1913.8,1384.9 1915.1,1384.6 Z" fill="#f9c9c7" stroke="#eba6a8" stroke-width="0.9"/>
<ellipse cx="1912.5" cy="1404.6" rx="7.9" ry="3.3" transform="rotate(50 1912.5 1404.6)" fill="#fbd0ce" stroke="#eaa7a9" stroke-width="0.7"/>
<ellipse cx="1919.9" cy="1412.4" rx="8.9" ry="3.5" transform="rotate(45 1919.9 1412.4)" fill="#fbd0ce" stroke="#eaa7a9" stroke-width="0.7"/>
<ellipse cx="1912.5" cy="1422.4" rx="7.9" ry="3.3" transform="rotate(60 1912.5 1422.4)" fill="#fbd0ce" stroke="#eaa7a9" stroke-width="0.7"/>
<ellipse cx="1945.6" cy="1408.2" rx="7.4" ry="3.9" transform="rotate(-30 1945.6 1408.2)" fill="#fbd0ce" stroke="#eaa7a9" stroke-width="0.7"/>
<ellipse cx="1956.1" cy="1405.1" rx="6.8" ry="3.3" transform="rotate(-50 1956.1 1405.1)" fill="#fbd0ce" stroke="#eaa7a9" stroke-width="0.7"/>
<ellipse cx="1959.3" cy="1415.6" rx="4.5" ry="8.4" transform="rotate(0 1959.3 1415.6)" fill="#fbd0ce" stroke="#eaa7a9" stroke-width="0.7"/>
<ellipse cx="1956.6" cy="1427.7" rx="6.8" ry="3.7" transform="rotate(40 1956.6 1427.7)" fill="#fbd0ce" stroke="#eaa7a9" stroke-width="0.7"/>
<ellipse cx="1956.6" cy="1440.8" rx="7.4" ry="3.7" transform="rotate(-30 1956.6 1440.8)" fill="#fbd0ce" stroke="#eaa7a9" stroke-width="0.7"/>
<ellipse cx="1946.1" cy="1425.0" rx="6.8" ry="3.3" transform="rotate(45 1946.1 1425.0)" fill="#fbd0ce" stroke="#eaa7a9" stroke-width="0.7"/>
<ellipse cx="1938.2" cy="1432.9" rx="8.4" ry="2.9" transform="rotate(50 1938.2 1432.9)" fill="#fbd0ce" stroke="#eaa7a9" stroke-width="0.7"/>
<ellipse cx="1928.8" cy="1438.2" rx="8.9" ry="2.9" transform="rotate(50 1928.8 1438.2)" fill="#fbd0ce" stroke="#eaa7a9" stroke-width="0.7"/>
<ellipse cx="1922.0" cy="1446.1" rx="8.4" ry="3.2" transform="rotate(40 1922.0 1446.1)" fill="#fbd0ce" stroke="#eaa7a9" stroke-width="0.7"/>
<ellipse cx="1914.6" cy="1435.0" rx="6.8" ry="3.2" transform="rotate(50 1914.6 1435.0)" fill="#fbd0ce" stroke="#eaa7a9" stroke-width="0.7"/>
<ellipse cx="1932.5" cy="1450.3" rx="7.9" ry="3.0" transform="rotate(-10 1932.5 1450.3)" fill="#fbd0ce" stroke="#eaa7a9" stroke-width="0.7"/>
<ellipse cx="1946.1" cy="1448.7" rx="7.9" ry="3.3" transform="rotate(-20 1946.1 1448.7)" fill="#fbd0ce" stroke="#eaa7a9" stroke-width="0.7"/>
<ellipse cx="1948.8" cy="1438.2" rx="6.3" ry="3.2" transform="rotate(30 1948.8 1438.2)" fill="#fbd0ce" stroke="#eaa7a9" stroke-width="0.7"/>
<ellipse cx="1938.2" cy="1417.2" rx="7.9" ry="3.7" transform="rotate(-30 1938.2 1417.2)" fill="#fbd0ce" stroke="#eaa7a9" stroke-width="0.7"/>
<ellipse cx="1932.5" cy="1409.3" rx="7.4" ry="3.7" transform="rotate(20 1932.5 1409.3)" fill="#fbd0ce" stroke="#eaa7a9" stroke-width="0.7"/>
<ellipse cx="1925.6" cy="1421.4" rx="7.9" ry="4.2" transform="rotate(-20 1925.6 1421.4)" fill="#fbd0ce" stroke="#eaa7a9" stroke-width="0.7"/>
<path d="M1926.2,1646.7 L1926.2,1635.1" stroke="#9cc98c" stroke-width="2" stroke-linecap="round" fill="none"/>
<path d="M1908.8,1654.6 L1901.0,1649.8" stroke="#9cc98c" stroke-width="2" stroke-linecap="round" fill="none"/>
<path d="M1905.7,1667.7 L1899.4,1666.1" stroke="#9cc98c" stroke-width="2" stroke-linecap="round" fill="none"/>
<path d="M1907.8,1682.4 L1896.8,1686.1" stroke="#9cc98c" stroke-width="2" stroke-linecap="round" fill="none"/>
<path d="M1914.1,1696.6 L1909.4,1703.4" stroke="#9cc98c" stroke-width="2" stroke-linecap="round" fill="none"/>
<path d="M1928.8,1698.2 L1931.9,1708.1" stroke="#9cc98c" stroke-width="2" stroke-linecap="round" fill="none"/>
<path d="M1928.3,1673.2 L1957.7,1672.5" stroke="#a9d9a0" stroke-width="4.2" stroke-linecap="butt" fill="none"/>
<path d="M1932.5,1676.1 C1940.3,1674.5 1948.2,1677.7 1955.6,1680.0" stroke="#8a2a4a" stroke-width="1" fill="none"/>
<path d="M1932.5,1676.9 C1940.3,1676.1 1945.6,1676.4 1953.5,1676.9" stroke="#5a6ab8" stroke-width="1" fill="none"/>
<path d="M1925.1,1646.2 C1932.5,1646.7 1938.2,1651.4 1939.6,1658.8 C1940.3,1664.0 1938.8,1668.2 1935.6,1670.8 C1932.5,1673.5 1932.5,1676.1 1935.6,1678.7 C1939.3,1682.4 1939.3,1689.2 1935.6,1694.5 C1931.4,1699.2 1923.0,1700.8 1917.8,1698.2 C1909.9,1693.4 1905.7,1682.4 1905.4,1670.3 C1905.4,1658.8 1912.5,1646.7 1925.1,1646.2 Z" fill="#b4dca2" stroke="#79b05a" stroke-width="2"/>
<path d="M1924.7,1650.9 C1930.7,1651.4 1935.5,1655.2 1936.5,1661.3 C1937.2,1665.6 1935.9,1669.0 1933.3,1671.2 C1930.7,1673.3 1930.7,1675.5 1933.3,1677.6 C1936.3,1680.7 1936.3,1686.2 1933.3,1690.6 C1929.9,1694.4 1923.0,1695.7 1918.7,1693.6 C1912.2,1689.7 1908.8,1680.7 1908.5,1670.7 C1908.5,1661.3 1914.4,1651.4 1924.7,1650.9 Z" fill="#a58bc6"/>
<path d="M1928.8,1673.2 L1919.9,1650.9" stroke="#b4dca2" stroke-width="1.5" fill="none"/>
<path d="M1928.8,1673.2 L1929.3,1649.8" stroke="#b4dca2" stroke-width="1.5" fill="none"/>
<path d="M1928.8,1673.2 L1908.8,1661.9" stroke="#b4dca2" stroke-width="1.5" fill="none"/>
<path d="M1928.8,1673.2 L1906.5,1674.0" stroke="#b4dca2" stroke-width="1.5" fill="none"/>
<path d="M1928.8,1673.2 L1910.9,1686.6" stroke="#b4dca2" stroke-width="1.5" fill="none"/>
<path d="M1928.8,1673.2 L1923.0,1696.1" stroke="#b4dca2" stroke-width="1.5" fill="none"/>
<path d="M1928.8,1673.2 L1932.5,1693.4" stroke="#b4dca2" stroke-width="1.5" fill="none"/>
<path d="M1928.8,1673.2 L1937.7,1661.9" stroke="#b4dca2" stroke-width="1.5" fill="none"/>
<circle cx="1916.2" cy="1657.2" r="1.6" fill="#f4a8c8"/>
<circle cx="1924.1" cy="1652.5" r="1.6" fill="#f4a8c8"/>
<circle cx="1933.5" cy="1655.6" r="1.6" fill="#f4a8c8"/>
<circle cx="1912.5" cy="1668.2" r="1.6" fill="#f4a8c8"/>
<circle cx="1913.6" cy="1679.2" r="1.6" fill="#f4a8c8"/>
<circle cx="1918.3" cy="1688.2" r="1.6" fill="#f4a8c8"/>
<circle cx="1927.2" cy="1690.3" r="1.6" fill="#f4a8c8"/>
<circle cx="1934.6" cy="1684.5" r="1.6" fill="#f4a8c8"/>
<path d="M1924.1,1669.3 L1932.5,1668.2 L1937.7,1673.2 L1931.4,1677.7 L1926.2,1679.8 Z" fill="#a9d9a0"/>
<text x="1987.0" y="871.5" font-size="33.3">B16-F10</text>
<text x="1987.0" y="1138.2" font-size="33.3">Spleen</text>
<text x="1987.0" y="1411.5" font-size="33.3">Small</text>
<text x="1987.0" y="1451.2" font-size="33.3">intestine</text>
<text x="1987.0" y="1663.5" font-size="33.3">Draining</text>
<text x="1987.0" y="1702.6" font-size="33.3">lymph node</text>
<circle cx="1874.2" cy="1839.4" r="5.5" fill="#000"/>
<circle cx="1874.2" cy="1871.2" r="8.3" fill="#000"/>
<circle cx="1874.2" cy="1909.7" r="10" fill="#000"/>
<circle cx="1874.2" cy="1948.1" r="11.1" fill="#000"/>
<circle cx="1874.2" cy="1990.7" r="12.2" fill="#000"/>
<text x="1895.0" y="1847.7" font-size="24.5" fill="#231f20">1</text>
<text x="1895.0" y="1886.4" font-size="24.5" fill="#231f20">2</text>
<text x="1895.0" y="1923.2" font-size="24.5" fill="#231f20">3</text>
<text x="1895.0" y="1961.0" font-size="24.5" fill="#231f20">4</text>
<text x="1895.0" y="1998.4" font-size="24.5" fill="#231f20">5</text>
<text transform="translate(1949.3,1907.5) rotate(-90) scale(0.963,1)" font-size="27" text-anchor="middle" fill="#231f20">FC (gMFI)</text>
<defs><linearGradient id="ge" x1="0" y1="0" x2="0" y2="1"><stop offset="0" stop-color="#cacaca"/><stop offset="0.25" stop-color="#dfaca5"/><stop offset="0.5" stop-color="#ec8d80"/><stop offset="0.75" stop-color="#f1695c"/><stop offset="1" stop-color="#ee3b37"/></linearGradient></defs>
<rect x="1984" y="1843.6" width="28.7" height="140.4" fill="url(#ge)"/>
<line x1="1984.0" y1="1844.6" x2="1989.5" y2="1844.6" stroke="#fff" stroke-width="1.2"/>
<line x1="2007.2" y1="1844.6" x2="2012.7" y2="1844.6" stroke="#fff" stroke-width="1.2"/>
<line x1="1984.0" y1="1879.2" x2="1989.5" y2="1879.2" stroke="#fff" stroke-width="1.2"/>
<line x1="2007.2" y1="1879.2" x2="2012.7" y2="1879.2" stroke="#fff" stroke-width="1.2"/>
<line x1="1984.0" y1="1913.8" x2="1989.5" y2="1913.8" stroke="#fff" stroke-width="1.2"/>
<line x1="2007.2" y1="1913.8" x2="2012.7" y2="1913.8" stroke="#fff" stroke-width="1.2"/>
<line x1="1984.0" y1="1948.4" x2="1989.5" y2="1948.4" stroke="#fff" stroke-width="1.2"/>
<line x1="2007.2" y1="1948.4" x2="2012.7" y2="1948.4" stroke="#fff" stroke-width="1.2"/>
<line x1="1984.0" y1="1983.0" x2="1989.5" y2="1983.0" stroke="#fff" stroke-width="1.2"/>
<line x1="2007.2" y1="1983.0" x2="2012.7" y2="1983.0" stroke="#fff" stroke-width="1.2"/>
<text x="2021.6" y="1848.3" font-size="20" fill="#231f20">1.00</text>
<text x="2021.6" y="1883.3" font-size="20" fill="#231f20">0.75</text>
<text x="2021.6" y="1918.4" font-size="20" fill="#231f20">0.50</text>
<text x="2021.6" y="1953.5" font-size="20" fill="#231f20">0.25</text>
<text x="2021.6" y="1988.5" font-size="20" fill="#231f20">0.00</text>
<text transform="translate(2098.1,1914.5) rotate(-90)" font-size="25" text-anchor="middle" fill="#231f20"><tspan font-style="italic">P</tspan>-value</text>
<rect x="1488.3" y="2040.9" width="37.7" height="18.3" fill="#a7a9ac" stroke="#4a4a4a" stroke-width="1"/>
<rect x="1488.3" y="2083.8" width="37.7" height="18.3" fill="#f6a0a2" stroke="#4a4a4a" stroke-width="1"/>
<rect x="1699.9" y="2040.9" width="37.7" height="18.3" fill="#231f20" stroke="#4a4a4a" stroke-width="1"/>
<rect x="1699.9" y="2083.8" width="37.7" height="18.3" fill="#9e1c22" stroke="#4a4a4a" stroke-width="1"/>
<text x="1540.3" y="2059.2" font-size="27.7" fill="#231f20">Control</text>
<text x="1540.3" y="2098.0" font-size="27.7" fill="#231f20">IMQ oral</text>
<text x="1763.3" y="2059.2" font-size="27.7" fill="#231f20">IFN-<tspan font-family="'Liberation Serif','DejaVu Serif',serif" font-size="31">α</tspan></text>
<text x="1763.3" y="2098" font-size="27.7" fill="#231f20">IFN-<tspan font-family="'Liberation Serif','DejaVu Serif',serif" font-size="31">α</tspan> + IMQ topical</text>
</svg>
</body></html>
